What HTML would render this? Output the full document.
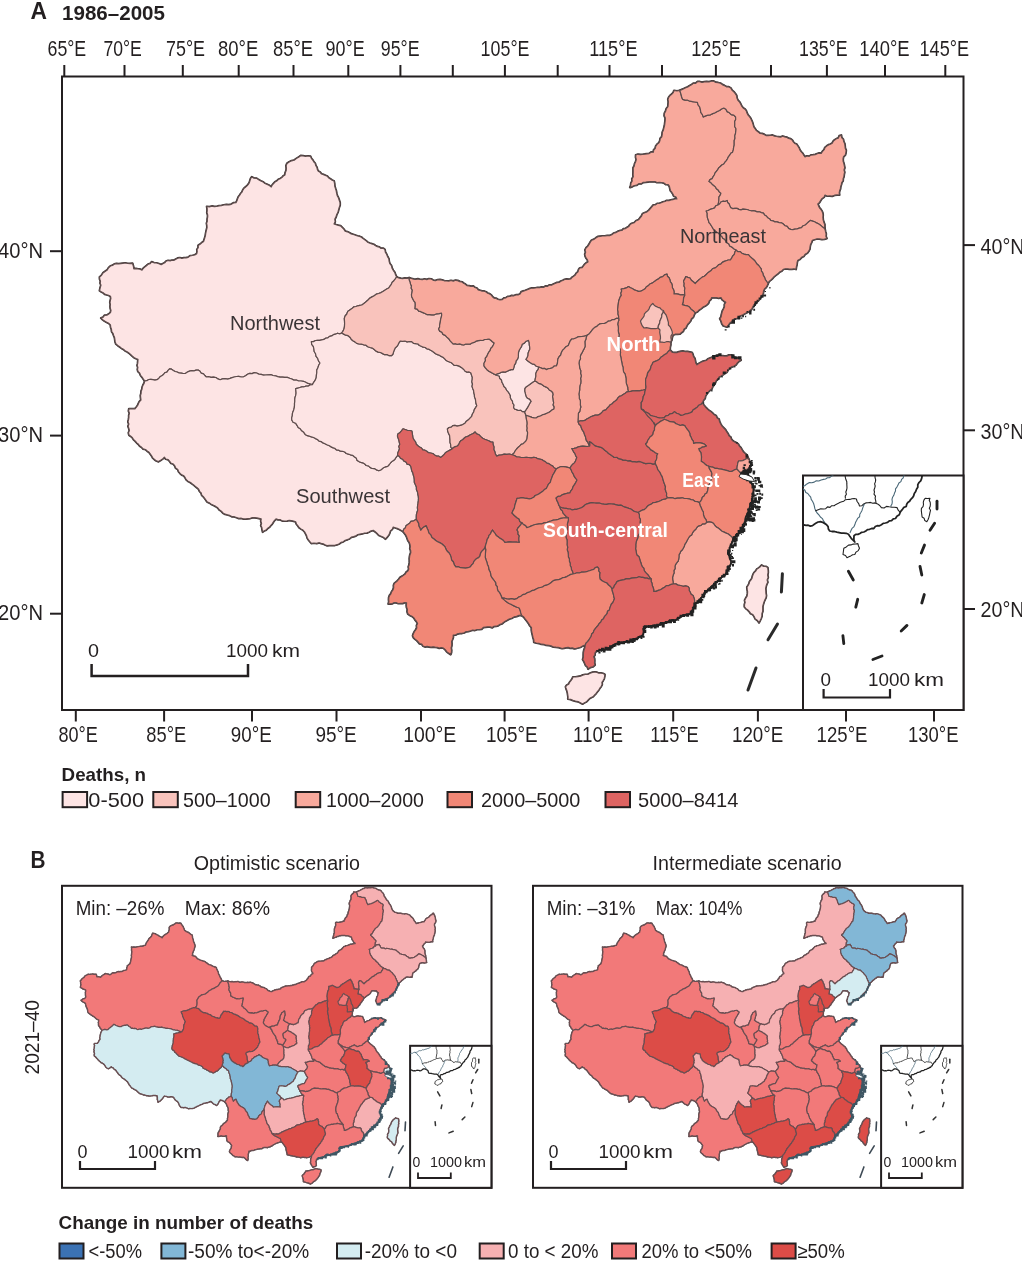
<!DOCTYPE html><html><head><meta charset="utf-8"><style>html,body{margin:0;padding:0;background:#fff;}svg{display:block;font-family:'Liberation Sans', sans-serif;filter:blur(0.35px);}</style></head><body>
<svg width="1022" height="1270" viewBox="0 0 1022 1270">
<rect width="1022" height="1270" fill="#fff"/>
<defs>
<path id="pXJ" d="M300.7 155.7l2.4 .2 2.5 .4 2.5-.3 2.4 .4 .8 2 1.4 1.6 1 1.8 1.5 1.6 .5 2.1 1.2 1.8 .4 2.1 1 1.9 1.8 1 1.4 1.7 2 .6 1.9 .8 1.9 .9 1.4 1.6 1.7 1.1 1.7 1.2 1.9 .8 .5 2.5 .2 2.5 .7 2.4 .8 2.4 .4 2.4 .6 2.4 1.2 2.2 .8 2.4 .8 2.4 0 2.5-.8 2.4-.7 2.4-.6 2.4-1.2 2.2-.7 2.4-1.2 2.2 .3 2.7-1.1 2.2 2.1 .7 2.2 .6 2.2 .5 1.7 1.7 1.6 1.7 1.3 2 2.2 .6 2 .9 1.9 1.2 2.1 .6 2.1 .7 2.1 .8 2.1 .4 1.8 .8 1.6 1.4 1.7 1.2 1.7 1.3 1.6 1.4 1.9 .8 1.9 .6 2 .6 1.7 1.2 1.8 .9 2 .5 1.7 1.3 2.3-.1 1.6 1.3 .4 2.5 1.3 2.2 .9 2.3 1.3 2.2 .3 2.5 .7 2.4 1.6 2 .6 2.4 1.2 2.2 1.5 2.1 .8 2.4 1.1 2.2-1.3 1.9-1.4 1.8-1.7 1.5-.9 2.1-1.3 1.8-1.3 1.9-2 1-1.9 1.2-1.9 1.2-1.9 1.2-2.3 .9-2.5 .7-2 1.5-2.2 1.2-2.2 1.2-1.8 1.9-2 1.8-2.1 1.6-2.1 1.6-2 .3-2 .5-1.9 .7-2 .3-2 1.8-2.1 1.5-2.2 1.5-.8 2.4-1.7 2-.8 2.4 .2 2.6 .1 2.5-.1 2.6-.4 2.5-1 2.3-1.4 2.1-2 .9-2.2-.7-2 1-2.1 .5-1.7 1.2-2.1 .5-1.7 1.4-2.2 .4-1.8 1.2-2.1 .4-2.1 .5-2.1 .1-2.1 .1-2 1.1-2.1 .1 .3 2.6 1.6 2.1 .6 2.5 .3 2.6 1.4 2.3 .5 2.5 1.6 2.1 .8 2.5 1.5 2.1-1.3 2.2-.8 2.5-1.1 2.3 0 2.6-.4 2.6-.2 2.6-1 2.4-1.5 2.1-1.3 2.3-2.3-.6-2.3-.6-2.1-1.2-2.3-.9-2.4-.3-2.4 0-2.2-1-2.5 .1-2.1-1.1-2.3-.8-2.2-.8-2.5-.1-2.4-.1-2.4 0-2.3-.6-2.3-.8-2.4-.3-2.2-.9-2.4 .2-2.5 .2-2.4 .1-2.3-.7-2.4-.3-2.2-1.1-2.3-.4-2.2 1-2.3-.2-2.3 .8-1.9 1.5-2.1 1.1-2.3 .2-2.4-.7-2.3 .2-2.2 .5-2.2 .6-2.1 .8-2.4 .7-2.6-.4-2.5 .2-2.4 .8-2.2-.8-2-1.4-2.4-.4-2.4 .3-2.3-.7-2.4 .3-1.6-1.5-1.3-1.7-2.3-.6-1.2-1.9-1.8-1.2-2.1 .1-2.1 .6-2.2-.1-2.3 .4-2 .9-1.9 1.3-2.2 .2-2.2-.3-2.2-.3-1.9-.9-2-.5-1.8-1.1-1.7-1.2-2.1-.4-1.4 1.5-1.2 1.8-2.2 .7-1.2 1.7-1.7 1.2-1.8 1.1-1.3 1.7-1.7 1.2-2.1 .4-2-.4-2.1-.4-2.1 .2-1.8 1.2-2.1 .3-1.4-1.9-1.3-1.9-1.5-1.8-.8-2.3-1.8-1.6-.5-2 .4-2.1-.7-2 .5-2 .2-2.1 .1-2.1-2.1-.7-2-1-1.7-1.5-1.6-1.5-1.7-1.5-1.8-1.3-2-.9-1.7-1.5-1.9-1.1-1.8-1.4-1.9-1.3-1.8-1.5-.8-2.1-.3-2.2-.3-2.2-.9-2-.7-2.2-1.3-1.8-.2-2.2-.8-2.1-.2-2.2-1.7-1.7-2.1-1.1-2.1-1.1-1.9-1.4-1.7-1.7 2.1-.7 1.4-2 2.4-.1 1.9-1.2 1.7-1.4 .5-2.1-.6-2-.2-2 .2-2.1-.4-2.1 .4-2 .5-2-.4-2.1-1.9-.9-1.9-.6-2-.6-1.5-1.4-1.9-.9-1.7-1.1 .6-2.8 .8-2.7-.8-2 .3-2.1-.8-2-.1-2.1 2-1.7 1.4-2.3 2.1-1.5 2.2-1.5 1.3-2.2 1.9-1.8 2.1-.6 1.8-1.3 2.1-.5 2.2 .3 2.1-.3 2.1-.3 2.4-.3 2.4 .5 2.4 .1 2.4-.3 .8 2.7 .5 2.8 2.1-.2 2.1 .4 2 .2 2 .9 1.3-1.7 1.5-1.4 1.7-1.3 1.6-1.4 2.1-.7 1.4-1.7 2.4 .9 2.5 .2 2.4 .7 2.3 1 1.7-1 1.9-.9 1.3-1.6 2-.7 2 .4 2-.6 2 0 1.8-1.1 1.8-1 2.1-.4 2 .6 2.1-.5 2-.1 2.3-.5 1.9-1.5 2.4-.3 2.3-.5 2-1.3 .4-2-.2-2.2 1.3-1.9-.1-2.1 1.9-1.3 1.7-1.5 1.9-1.3 1.1-3.6 .6-2 .3-2.1 .4-2.1 .5-2 .5-2.1-.1-2.1-.4-2.1 .7-2.1 0-2.1 .4-2.1 0-2.1-.7-2.1 .2-2.1 0-2.1-.4-2.1 2.5 .4 2.5-.7 2.5 .5 2.4-.2 2.4-.7 2.4-.2 2.4-.6 2.5-.4 2.5 .3 2.4-.6 2.2-1.4 2.5-.3 1-1.8 .6-1.9 .8-1.9 1.2-1.6 1-1.7 1.4-1.5 .8-1.9 1-1.7 1.6-1.4 1.6-1.3 1.3-1.6 1.1-1.7 .6-2 .6-1.9 1.2-1.7 2.2 1.2 2.6 .1 2 1.5 2.2 1.1 2.2 1 1.9 1.6 2.3 .9 2.2 1.1 1.9 1.5 .9-1.9 1.4-1.6 1.4-1.5 1.8-1 1.5-1.5 1.9-.8 1.7-1.1 1.4-1.6 1.7-1 .3-2.3 .9-2.2 .2-2.4-.3-2.4 .9-2.2 2.2-1.5 2.4-1.2 2.6-.6 2.1-1.6 2.3-1.3z"/>
<path id="pXZ" d="M144.8 381.0l2.1-.3 1.8-1.2 2.1-.2 2.1 .4 2 .4 2.1-.4 1.7-1.2 1.3-1.7 1.8-1.1 1.7-1.2 1.2-1.7 2.2-.7 1.2-1.8 1.4-1.5 2.1 .4 1.7 1.2 1.8 1.1 2 .5 1.9 .9 2.2 .3 2.2 .3 2.2-.2 1.9-1.3 2-.9 2.3-.4 2.2 .1 2.1-.6 2.1-.1 1.8 1.2 1.2 1.9 2.3 .6 1.3 1.7 1.6 1.5 2.4-.3 2.3 .7 2.4-.3 2.4 .4 2 1.4 2.2 .8 2.4-.8 2.5-.2 2.6 .4 2.4-.7 2.1-.8 2.2-.6 2.2-.5 2.3-.2 2.4 .7 2.3-.2 2.1-1.1 1.9-1.5 2.3-.8 2.3 .2 2.2-1 2.3 .4 2.2 1.1 2.4 .3 2.3 .7 2.4-.1 2.5-.2 2.4-.2 2.2 .9 2.4 .3 2.3 .8 2.3 .6 2.4 0 2.4 .1 2.5 .1 2.2 .8 2.3 .8 2.1 1.1 2.5-.1 2.2 1 2.4 0 2.4 .3 2.3 .9 2.1 1.2 2.3 .6 2.3 .6-2.2 .2-1.8 1.3-2.3 0-2 .7-2.2 .1-2.1 .6-2 .7-2.1 .5 .2 2.1 .2 2.2-.3 2.1-.7 2-.3 2.1 0 2.1-.3 2.1 0 2.1-.2 2.1-.5 2.1-.8 2-.6 2-.1 2.1-.6 2.1 .1 2.1 1.3 2.2 2.5 1 1.4 2.1 1.2 2.2 2.1 1.3 1.5 2 2 1.5 1.4 2.1 2.2 1.3 2.1 .5 2 .7 2.1 .6 1.9 1.1 2 .9 1.6 1.6 2.1 .5 1.8 1.3 2 .8 1.9 1 2 .8 1.8 1.1 1.9 1 2.1 .7 1.6 1.5 2.2 .3 2 1.1 2.2 .1 2 .7 1.6 1.5 2.1 .6 2 .7 2.2 .5 1.7 1.4 1.9 1.2 .8 2.3 1.8 1.3 1.9 .9 2.2 .4 1.8 1.1 1.5 1.6 2.2 .4 1.6 1.5 2.1 1.1 2.5 .1 2 1.3 2.2 .8 2.3-.9 1.9-1.7 2.1-1.2 2.5-.6 1.7-1.8 1.5-2 1.9-1.6 2.1-1.5 1.3-2.1 1.5-2 1.8 1.2 1.2 1.9 2.1 .9 1.3 1.8 2 .9 1.1 2.1 2.3 .5 1.4 1.7 .5 2.3 .4 2.2 1.1 2.1 .5 2.2 .7 2.2 .3 2.5 0 2.5 1 2.3 1.1 2.3 0 2.5 1 2.3 .4 2.3 .5 2.3 .2 2.3-.2 2.3-.3 2.3-.4 2.3-.2 2.3 .3 2.3-.7 2.2-.6 2.3-.1 2.3 0 2.3-2.5 1.6-3 .6-1.2 1.9-1.9 1.1-1.7 1.3-.6 2.1-1.7 1.5-.7 2.1-1.9-1.1-1.8-1.1-2-.8-2-.7-2.1-.7-.9 2.2-2 1.7-.7 2.3-1.1 2.2-1.5 1.8-1.6 1.8-1.9-1.7-2.3-1-2.3-1-1.7-1.8-1.9-1.7-2-1.5-2.2 .6-2.1 1.1-2.1 .9-2.4 .1-2.2 .7-2.3 .4-2.3 .4-1.9 1.4-2.2 .7-2.3 .6-1.8 1.5-2.1 .9-2.2 .7-2 1.4-2.2 .7-1.8 1.4-2.2 .9-2.2 .6-2.6 .1-2.7-.1-2.6 .3-1.9-.8-1.8-1-2-.4-1.9-.7-2.6 .7-2.7-.4-2.6 .3-1.5-1.7-1.4-1.7-1.2-1.9-.6-2.2-1-2-1.1-2-1.6-1.7-2-1.2-1.9-1.3-1.3-1.9-1.3-1.7-.8-2.2-2.1-.7-2.2-.5-2.2-.3-2.2 .6-2.3 .1-2.3-.1-2-1.2-2.3-.1-2.1-.7-1.5 1.5-1.2 1.7-1.1 1.8-1.4 1.5-1.3 1.7-1.8 1.1-1.4 1.7-2 .8-1.6 1.3-.5-2.2-.3-2.2-1-2 .7-2.2-.7-2.3 .3-2.2-2.2-.5-2.1-.5-2.3-.3-2.2 0-2.1 .7-2.2 .3-2.3 .3-2.2 0-2.3-.7-2.4 .2-2.3-.9-2.3-.8-2.5-.1-2.1-1.2-2.3-.6-2.3-.6-2.1-1.2-1.6-1.8-2.1-1.4-1.5-2-2.1-1.4-2.2-1.1-2.2-1.1-1.8-1.3-2.1-.9-1.4-1.8-1.3-1.8-1.3-1.7-1.6-1.5-.6-2.2-1.6-1.7-.9-2-1.6-1.5-1.7-1.4-1.7-1.4-1.8-1.4-1.8-1.3-2.1-1-1.7-1.6-1.1-2-1.3-1.9-2.1-.9-1.7-1.5-1.5-1.8-.8-2.2-2.1-1.4-.9-2.2-1.4-1.8-2.3-.8-1.4-1.8-1.5-1.8-2.4-.6-1.4-1.8-1.8 1.7-2 1.4-2.1 1.3-2.2-.8-1.8-1.3-1.7-1.5-1-2-1.4-1.9-1.3-1.8-1.9-1.3-1.7-1.5-2.3-.6-1.5-1.6-1.9-1.2-1.3-1.8-1.7-1.4-1.4-1.7-1.7-1.5-1.2-1.9-1.7-1.5-1.8-1.3-.5-2.2 .9-2.2-.5-2.2-.8-2.1 .8-2.3-.9-2.1 .5-2.1 .4-2.2 0-2.2 .6-2.2-.9-2.2 .4-2.2 2 0 2 0 2 0 1.4-1.6 1.3-1.7 .8-2 1-2 1.5-1.5-.3-2.2-.2-2.2 .6-2.2 .1-2.2 .8-2 .3-2.1 .8-2 1.1-2z"/>
<path id="pQH" d="M311.4 341.7l2.1-.1 2-1.1 2.1-.1 2.1-.1 2.1-.5 2.1-.4 1.8-1.2 2.2-.4 1.7-1.4 2.1-.5 1.7-1.2 2.1-.5 2-1 2.2 .7 2-.9 2 1.1 2.1 1.1 2.3 .5 1.8 1.5 1.3 2 1.7 1.6 2 1.1 1.8 1.5 2.3 .6 2.4 .1 2.2 .7 2.3 .4 1.9 1.5 2.2 .8 2.3 .6 1.9 1.4 1.8 1.6 2.2 1 2.3 .4 2.1 1.1 2 1.1 2.4-.2 2.2 1.2 2.4 0 1.4-1.7 .6-2.1 .7-2 .9-2 1.7-1.4 1.2-1.9 .9-1.9 1.4-1.7 2.2 .3 2.3-.3 2.2 .9 2.3-.4 2.3 .1 1.8 1.7 2.3 .4 2.2 .3 1.4 1.5 1.9 .7 1.8 1 2.1 .3 1.7 1.3 2 .4 1.7 1.1 1.8 1 1.6 1.2 1.6 1.2 1.9 .9 1.9 .7 1.7 1.1 1.9 .9 1.5 1.3 1.4 1.6 1.7 1 1.9 .8 1.9 .8 1.5 1.3 1.5 1.4 2.2-.1 2 .5 1.9 1 1.7 1.2 1.6 1.4 1.3 1.7 1.9 .9 2.1-.2 1.8 1.1 .6 2.1 .8 2.1-.1 2.3-.4 2.3 .7 2.2-.5 2.3 .7 2.1 .9 2.1 .2 2.2 .6 2.1 .1 2.3 .9 2 .3 2.2 .3 2.2 .8 2.1-1.2 2-1.3 2-.6 2.4-1.3 2-.7 2.4-1.7 1.7-1.6 1.7-2 1.4-1.4 2-1.8 1-1.8 1-2.1 .4-2.2 .5-2.1-.7-2.2 .3-1.5 1.5-2.3 .3-1.6 1.5 .3 2.3 .8 2.1 1.1 2.1 .2 2.3 .2 2.3 0 2.3 .7 2.2 .1 2.4 1.2 2-2.1 1.1-2.1 1.1-2.1 1.2-1.5 1.9-1.7 1.7-1.9 1.5-1.8-1.4-2.4 0-1.8-1.2-1.8-1.4-2.2-.5-2.1-.3-1.7-1.4-1.9-1.1-2.1-.4-1.3-1.8-1.9-1-1.7-1.3-1.6-1.4-.7-2.3-1.4-1.9-1.2-2.1-.4-2.3-.3-2.4-.4-2.3-2.2-.5-2.4-.2-2.1-.8-2.2-.7-1.6 2.1-1.7 1.9-2.1 1.5-.1 2.1 .7 2 .7 1.9 .4 2 .5 2-1 2.1 .7 2.4-.9 2.1-.8 2.1-.2 2.3-1.5 2-1.3 2.1-2.1 1.5-1.9 1.6-1.5 2-1.7 1.8-2.5 .6-2.1 1.2-1.9 1.7-2.3 .9-2.2-.8-2-1.3-2.5-.1-2.1-1.1-1.6-1.5-2.2-.4-1.5-1.6-1.8-1.1-2.2-.4-1.9-.9-1.8-1.3-.8-2.3-1.9-1.2-1.7-1.4-2.2-.5-2-.7-2.1-.6-1.6-1.5-2-.7-2.2-.1-2-1.1-2.2-.3-1.6-1.5-2.1-.7-1.9-1-1.8-1.1-2-.8-1.9-1-2-.8-1.8-1.3-2.1-.5-1.6-1.6-2-.9-1.9-1.1-2.1-.6-2-.7-2.1-.5-2.2-1.3-1.4-2.1-2-1.5-1.5-2-2.1-1.3-1.2-2.2-1.4-2.1-2.5-1-1.3-2.2-.1-2.1 .6-2.1 .1-2.1 .6-2 .8-2 .5-2.1 .2-2.1 0-2.1 .3-2.1 0-2.1 .3-2.1 .7-2 .3-2.1-.2-2.2-.2-2.1 2.1-.5 2-.7 2.1-.6 2.2-.1 2-.7 2.3 0 1.8-1.3 2.2-.2 1.3-2.3 1.5-2.1 1-2.4 .2-2.6 .4-2.6 0-2.6 1.1-2.3 .8-2.5 1.3-2.2-1.5-2.1-.8-2.5-1.6-2.1-.5-2.5-1.4-2.3-.3-2.6-.6-2.5-1.6-2.1z"/>
<path id="pGS" d="M396.6 277.0l2 .9 2.1 .5 2.1 .2 2.1-.4 2.2 .1 2.1-.4 .1 2.1 .9 1.9 .3 2.1 1 1.9-.3 2.3 1.1 1.9-.3 2.2-.5 2.1 .1 2.2 1 2 1 2 1.5 1.7 .2 2.1-.1 2.2-.2 2.1 2.2 .5 1.5 1.9 2.2 .6 2 .9 2.1 .9 1.9 1.1 2.5 0 2.4 .2 2.5 0 2.3-1 2.5-.2 2.4-.6 .2 2.1-.4 2-.6 2-.3 2-.3 2-.5 2 0 2-1 1.9 1.1 2.1 2.2 1.2 1.1 2.1 2.2 1 1.7 1.7 1.8 1.6 1.3 1.9 1.6 1.8 1.7 1.6 2.1-.3 2 .7 2.2-.5 2 .7 2.1 .4 2.1-1 2.1 .2 2.1 0 1.9-1.2 2.2-.6 1.9-1.2 2.2-.6 2.2-.3 2.2 .2 2-1 2.2-.2 2.2-.3 1.8 1.2 1.6 1.5 1.8 1.2-.9 2-1 2-1.6 1.6-.6 2.2-1.5 1.7-1 2-.8 2.1-1.5 1.7 .1 2.6-1.4 2.4 0 2.6 1.4 2 1.6 1.9 1.9 1.6 2.2 1.1 2.1 1.2 2.2 1.1 1.9 .8 2 .5 .4 2.3 1.8 1.7 .5 2.3 1.1 2 .9 2.2 1.7 1.6 .9 2.1 1.6 1.7 1.2 1.9 1 1.8 0 2.1 .9 1.8 1.2 1.7 .2 2 1.4 1.8-.5 2.2 .9 1.8 2 .6 2 .9 2.2-.4 1.8 1.5 2.2 0 .5 2 .8 1.8 .2 2.1 .3 2.1 .6 2.1 .1 2.1-.3 2.2 .3 2.1-.3 2.2 .7 2.1-.1 2.1-.3 2.2-.2 2.1-1 2-1.4 1.5-1.4 1.4-2 .7-1.4 1.5-1.5 1.3-1.7 1.8-1.5 2-1.2 2.2-1.9 1.6-2.6-.8-2.6 .3-2.6-.2-2.5 .7-2.6 .3-2.4 1-1.3-2.1-.6-2.4-1-2.2 .2-2.5-.9-2.4-.2-2.4-2.2-.2-2-1.1-2-.8-2-.8-2-.9-1.9-1.7-1.7-1.8-2.4-.9-1.7-1.9-1.6 1.5-2 .7-1.9 1-1.8 1.2-2.1 .6-1.5 1.3-1.5 1.4-1.8 1-1.2 1.7-.8 2-1.4 1.6-2 .6-1.9 .9-1.5 1.5-1.2-2-.1-2.4-.7-2.2 0-2.3-.2-2.3-.2-2.3-1.1-2.1-.8-2.1-.3-2.3 1.6-1.5 2.3-.3 1.5-1.5 2.2-.3 2.1 .7 2.2-.5 2.1-.4 1.8-1 1.8-1 1.4-2 2-1.4 1.6-1.7 1.7-1.7 .7-2.4 1.3-2 .6-2.4 1.3-2 1.2-2-.8-2.1-.3-2.2-.3-2.2-.9-2-.1-2.3-.6-2.1-.2-2.2-.9-2.1-.7-2.1 .5-2.3-.7-2.2 .4-2.3 .1-2.3-.8-2.1-.6-2.1-1.8-1.1-2.1 .2-1.9-.9-1.3-1.7-1.6-1.4-1.7-1.2-1.9-1-2-.5-2.2 .1-1.5-1.4-1.5-1.3-1.9-.8-1.9-.8-1.7-1-1.4-1.6-1.5-1.3-1.9-.9-1.7-1.1-1.9-.7-1.9-.9-1.6-1.2-1.6-1.2-1.8-1-1.7-1.1-2-.4-1.7-1.3-2.1-.3-1.8-1-1.9-.7-1.4-1.5-2.2-.3-2.3-.4-1.8-1.7-2.3-.1-2.3 .4-2.2-.9-2.3 .3-2.2-.3-1.4 1.7-.9 1.9-1.2 1.9-1.7 1.4-.9 2-.7 2-.6 2.1-1.4 1.7-2.4 0-2.2-1.2-2.4 .2-2-1.1-2.1-1.1-2.3-.4-2.2-1-1.8-1.6-1.9-1.4-2.3-.6-2.2-.8-1.9-1.5-2.3-.4-2.2-.7-2.4-.1-2.3-.6-1.8-1.5-2-1.1-1.7-1.6-1.3-2-1.8-1.5-2.3-.5-2.1-1.1-2-1.1 1.4-2.1 1-2.3 .4-2.5 .1-2.6-.1-2.5-.2-2.6 .8-2.4 1.7-2 .8-2.4 2.2-1.5 2.1-1.5 2-1.8 2-.3 1.9-.7 2-.5 2-.3 2.1-1.6 2.1-1.6 2-1.8 1.8-1.9 2.2-1.2 2.2-1.2 2-1.5 2.5-.7 2.3-.9 1.9-1.2 1.9-1.2 1.9-1.2 2-1 1.3-1.9 1.3-1.8 .9-2.1 1.7-1.5 1.4-1.8z"/>
<path id="pGS2" d="M534.9 381.0l2 .9 1.6 1.4 2.2 .5 1.8 1.1 1.7 1.3 2 .9 1.8 1.1 1.3 1.8 1.9 1 1.5 1.5 .5 2-.6 2.2 .5 2 .2 2.1 .4 2-.6 2.1 1.1 2-.2 2.1-1.9 .9-1.6 1.3-1.7 1.3-1.9 .8-1.9 .8-2.3 .7-2.2 1.2-2.4 .6-2 1.4-2.1-.2-2.1-.4-1.9-.8-2-.6-2-.6-.8-1.8-.5-2 1.4-2 1.3-2 1.2-2 1.1-2.2 1.3-2-1.4-2-2.2-1.1-1.4-2-.6-2.5-.7-2.5 0-2.6 1.3-1.8 1.8-1.1 1.8-1.2 1.7-1.3 1.7-1.3z"/>
<path id="pNX" d="M495.4 374.7l1.9-.8 2-.5 1.8-1.1 2-.4 2.2 .2 1.9-.9 1.9-.8 2-.8 2.1 0 .7-2.2 .5-2.3 1.3-1.9 .4-2.3 1.5-1.8 .7-2.2 .1-2.3 .1-2.2 .7-2.2 1.2-1.9 1.2-1.9 .6-2.2 2.2-1.1 1.7-1.9 2.4-.8 .7 2.2 .1 2.2 .4 2.2 .1 2.3-1 1.9-.7 2.1-.1 2.2-.8 2-1.2 1.9 1.9 1.6 2 1.5 2.1 1.3 2.4 .6 1.9 1.8 2.4 .8-.5 2.4-1.6 2-.8 2.3 .1 2.5-.6 2.4-.4 2.4-1.9 1-1.7 1.3-1.7 1.3-1.8 1.2-1.8 1.1-1.3 1.8 0 2.6 .7 2.5 .6 2.5 1.4 2 2.2 1.1 1.4 2-1.3 2-1.1 2.2-1.2 2-1.3 2-1.4 2-2.2 0-1.8-1.5-2.2 .4-2-.9-2-.6-.9-1.8 .5-2.2-1.4-1.8-.2-2-1.2-1.7-.9-1.8 0-2.1-1-1.8-1.2-1.9-1.6-1.7-.9-2.1-1.7-1.6-.9-2.2-1.1-2-.5-2.3-1.8-1.7-.4-2.3-2-.5z"/>
<path id="pIM" d="M409.2 277.9l2.1 .6 2.2 .6 2.2 .3 2.2-.5 2.2 .6 2.2 .2 2.2-.7 2.3 .6 2.2-.8 2.3 .2 2 1.3 2.3 .3 2.2-.8 2.2-.1 2.2 .4 2.1 .7 2.3 .2 2.2 .1 2.2-.6 2.3 .6 2.2-.8 2.2 .3 2.1 1 2.2 .4 1.6 1.2 1.8 1 1.5 1.4 2.1 .2 2.1 .6 2.2-.3 1.6 1.4 2 .7 1.3 1.7 2 .6 1.9 .6 2.1 .1 1.9 .8 1.6 1.2 1.9 .7 1.7 1.2 1.3 1.8 1.6 1.3 2 .2 1.8 1.1 2 .5 2.1-.3 1.7-1.5 2.1-.4 1.8-1.2 2.1-.1 1.9-.9 2.2 .2 2-.9 2.2 0 2-.9 1.2-2.1 2.1-.8 2-.6 1.9-.8 1.9-.8 2-.7 2.2 0 2.1-.2 2-.5 2 .2 2-.6 2.1 .3 1.9-1.3 2.1 .2 1.7-1.2 2.2 .1 1.8-.9 1.8-.9 1.9-.8 2.1-.2 1.7-1.2 2-.7 1.8-1 2-.4 2.1 .2 2-.3 1.3-1.6 1.7-1.1 1.6-1.2 1-1.8 1.7-1.5 .6-2.1 1.3-1.7 2.3-.3 1.3-1.7 1.2-1.7 1.5-1.3 1.8-1-.5-2.1-1.3-1.7-.9-1.9-.4-2.1 .8-2.1-.7-2.1 1.1-2.1 1.8-1.7 1.3-2 1.1-2.1 1.4-1.9 2.3-.8 1.8-1.4 2-1.3 2.4-.4 2.3-.3 2.4 0 2.3-.4 2.4 .1 2.2-.9 1.8-1.6 2.4-.6 2-1.2 1.9-.7 2-.2 1.6-1.6 2-.3 1.6-1.2 1.8-1 1.1-1.8 1.7-1.1 2.6-.8 1.9-2 2.5-1 1.4-1.9 1.5-1.8 1-2.2 2.2-1 2.2-.9 1.9-1.6 1.5-1.8 1.5-1.7 1.5-1.8 2.1-.1 1.7-1.4 2.1 0 1.9-.7 1.8-.8 2-.5 1.8-1 2.2 .1 1.9-.6 2-.3 1.9-.7 2.1 0-.9-2-2.2-1-.9-2-1.2-1.8-1.3-1.7-.5-2.2-.5-2.1-1.4-1.7-2.3-.2-1.9-1.4-2.2-.4-2.3-.2-2.3 .2-2.1-1-2.3 .2-2.2-.2-2.4 .3-2.3 .3-2.4 .2-2 1.4-2.6 0-2 1.5-2.4 .3-2.1 1.1-2.2 .8 .8-2.1 .2-2.3 1.2-1.9-.2-2.2 1.3-2.1-.2-2.2 .1-2.2 0-2.3 0-2.2 1.1-2 .4-2.2 1-2 .6-2.2-.6-2.3 .1-2.2 2.2-.7 2.3 .3 2.2-.1 2.2-.3 2.2-.4 2.2-.2 2-1.4 2.3 0 .3-2.2 1.6-1.7 .5-2.2 1.3-1.8 1.8-1.4 1-2.1 .3-2.2 1.6-1.8 .4-2.2 .2-2.4 1-2.2 .6-2.3 .6-2.3 .3-2.4 .3-2.4 .1-2.5-1-2.3 .2-2.5 1.2-2.2 .7-2.5 1.6-2 .2-2.4 .2-2.4-.4-2.4 .7-2.1 1.3-1.7 1.8-1.4 1.5-1.6 .7-2.1 2.9 .5 2.9-.5 .7 2.2 .7 2.3 .5 2.3 1 2.1 2.4 .7 2.6 .1 2.3 1 2.5 .5 2.4 .3 2.5 .3 .7 2.6 1.6 2.1 .7 2.6 .4 2.7 1.5 2.2 1 2.5 2.3-1.1 2.4-.7 2.5-.4 2.2-1.2 2.4-.8 2.1-1.3 2.3-1 2-1.5 2.3-1 2.1 1.3 1.3 2.3 2.2 1.2 1.8 1.8 2.6 .6 1.8 1.8 .1 2.4-1 2.2 .1 2.4-.1 2.5 1.3 2.2-.2 2.5-.3 2.3-.7 2.3 .2 2.4-.8 2.3 0 2.3 0 2.4-.6 2.3-.3 2.4-.7 2.3-1.8 1.1-1.1 1.9-1.3 1.6-.9 2-1.1 1.8-1.4 1.6-1.2 1.8-2 1-1.5 1.5-1.6 1.4-1 1.8-1.3 1.6-1.3 1.6-.8 2.1-1.2 1.7-1 1.9-2.1 1-1 1.9 1.8 1.1 1.4 1.6 1.6 1.3 1.6 1.4 1 1.9 1.8 1.3 1.1 1.8 1.6 1.4-.7 1.9-1.2 1.7-.1 2.1-.1 2-.4 2-.4 2-2.2 .8-1.2 2.1-2.2 .8-2.1 .6-2 1.2-2.1 .5 1 2.2 0 2.5 .3 2.4 .9 2.2 .6 2.3 1.4 1.6 1.1 1.8 1.1 1.8 1.1 1.9 1.6 1.3 1.7 1.2 1.9 1.1 1 2 1.9 1 1 1.9 1.9 1.1 1.2 1.7 1 1.8 2 1.2 .8 2 2.3 1.1 1.8 1.7 2.2 1.2-1.1 2-.6 2.3-1.6 1.7-1.1 2.1-1.2 1.9-2.2 0-2 .7-2 .7-1.9 1-1.5 1.7-2.1 .6-1.6 1.7-1.8 1.5-2.6 .6-1.5 1.9-1.9 1.3-1.8 1.4-1.5 1.7-1.7 1.5-2.1 .8-1.8 1.5-1.7 1.4-1.8 1.7-1.7 1.8-1.9-1.7-2-1.6-1.3-2.2-2.2-.6-2-.9-1 2.4-1.3 2.2 .7 2.3-.2 2.5 .9 2.2-.4 2.4 .2 2.3 0 2.4-2.1-.6-2.2 .2-2.1-.6-2.1-.3-2.2 .1 .1-2.2-.5-2.1-1.2-2-.1-2.1-.6-2.1-1.3-1.7-.5-2.1-.8-2-1.7-1.5-.4-2.2-2.5 .9-1.8 1.8-2.4 .6-1.8 1.6-2.1 1.1-1.9 1.4-1.9 1.5-2.3 .8-1.7 1.7-2.2 1.3-1.3 2.1-2.1 1.2-2.2 1.1-2.5 .3-2-.9-2.1-.6-1.8-1.4-2-.8-1.9-1.2-2.2 1.4-2.5 .7-2.6 .4 .5 2.1-.9 2.1 .5 2.1-1.2 1.8-.7 1.9-.7 2-.3 2.1-.3 2.2-.2 2.2-.3 2.1 .5 2.2-.1 2.2 .6 2.1 .1 2.2-2.2 0-2 1.3-2.2 .1-1.9 1.1-2.3 .4-1.7 1.4-2 .9-2.3 0-2.1 .3-1.7 1.1-1.4 1.5-1.9 .9-1.6 1.3-1.3 1.6-1.5 1.9-1.5 1.9-2.1 1.3-2.5 .8-2.5 .4-2.1 .2-2.1 .2-1.9 1.1-2 .8-2.1 .2-1.6 1.9-1 2.3-.9 2.3-2.3 1.2-1.7 1.9-1.8 1.8-1.1 2.2-.7 2.4-1.7 1.9-1.1 2.1-.3 2.3-.2 2.3-.9 2.2-2.2 .2-1.7 1.7-2.1 .7-2.2 .3-2 .9-1.7-1.2-2.2 .2-1.8-.9-1.9-.7-2.4-.8-1.9-1.8-2.4-.6-2.1-1.3-2-1.5-1.9-1.6 1.2-1.9 .8-2 .1-2.2 .7-2.1 1-1.9-.1-2.3-.4-2.2-.1-2.2-.7-2.2-2.4 .8-1.7 1.9-2.2 1.1-.6 2.2-1.2 1.9-1.2 1.9-.7 2.2-.1 2.2-.1 2.3-.7 2.2-1.5 1.8-.4 2.3-1.3 1.9-.5 2.3-.7 2.2-2.1 0-2 .8-1.9 .8-1.9 .9-2.2-.2-2 .4-1.8 1.1-2 .5-1.9 .8-2.2-1.1-2.1-1.2-2.2-1.1-1.9-1.6-1.6-1.9-1.4-2 0-2.6 1.4-2.4-.1-2.6 1.5-1.7 .8-2.1 1-2 1.5-1.7 .6-2.2 1.6-1.6 1-2 .9-2-1.8-1.2-1.6-1.5-1.8-1.2-2.2 .3-2.2 .2-2 1-2.2-.2-2.2 .3-2.2 .6-1.9 1.2-2.2 .6-1.9 1.2-2.1 0-2.1-.2-2.1 1-2.1-.4-2-.7-2.2 .5-2-.7-2.1 .3-1.7-1.6-1.6-1.8-1.3-1.9-1.8-1.6-1.7-1.7-2.2-1-1.1-2.1-2.2-1.2-1.1-2.1 1-1.9 0-2 .5-2 .3-2 .3-2 .6-2 .4-2-.2-2.1-2.4 .6-2.5 .2-2.3 1-2.5 0-2.4-.2-2.5 0-1.9-1.1-2.1-.9-2-.9-2.2-.6-1.5-1.9-2.2-.5 .2-2.1 .1-2.2-.2-2.1-1.5-1.7-1-2-1-2-.1-2.2 .5-2.1 .3-2.2-1.1-1.9 .3-2.3-1-1.9-.3-2.1-.9-1.9z"/>
<path id="pHLJ" d="M679.8 90.5l2-.9 2-.9 2-.9 2-.8 1.9-1.2 1.9-1 1.7-1.4 2.4-.1 1.7-1.6 2.3 0 2.3 .7 2.3-.5 2.3-.3 2.4 .3 2.3-.7 2.4 0 2.1 1.2 2.3 .3 2.3 .5 1.9 1.4 2.1 1 2 1.2 2.4 .1 2 1.2 1.2 2.1 1.8 1.6 1.5 1.8 1.3 2.1 .3 2.4 1 2.2 1.7 1.7 1.1 2.1 1 2.1 1.4 1.7 1.9 1.3 1.3 1.8 .7 2.1 1 1.9 1.4 1.7 1.3 1.8 .9 2 .9 2 .6 2.2 .6 2.1 1.3 1.9 1.3 1.9 1.9 1.3 1.6 1.5 2.2 .2 2.1 .8 1.9 1.2 2.2 0 2.1-.1 2.2-.3 1.9 .9 2 .4 2.1 .3 2.1 .3 2-.9 2.1 .6 2 .5 1.8 1.1 2.1 .5 1.6 1.2 1.1 1.8 1.4 1.5 2 .9 1.1 1.7 1.2 1.8 .8 2.1 1.2 1.8 1.6 1.6 1.1 1.9 1.3 1.8 1.9-1 2.3 .3 1.8-1.2 2.1-.2 2.1-.3 2-.8 2-.7 2.2 .2 1.2-2 1.6-1.6 .8-2.2 1.8-1.5 1.7-1.1 1.9-.7 1.8-1 1-1.8 1.5-1.5 1.7-1.1 2-.7 .9-2.2 2-.7 .3 2.3 1.7 1.9 .4 2.2 1 2.1 .3 2.3 .2 2.2 .9 2.1-.2 2.3-.6 2.3-1.8 1.8-.5 2.3 .1 2.3 .7 2.1 .5 2.2 .4 2.2-.7 2.2 .6 2.2-.5 2.2-.2 2.2-.8 2.1-.1 2.2-1.3 1.8-.4 2-.7 2-.2 2.1-.8 2-.4 2.1 .3 2.1-2.5-.1-2.4 .3-2.4 .9-2.4-.2-2.5 .1-2.3-1-1 2.2-2 1.3-1.3 1.9-1.2 2-1.7 1.6 .8 1.9 .8 1.9 1.4 1.5 1.1 1.7 .8 1.9 .3 2.1-.1 2.4 .2 2.5 .7 2.3 .9 2.3 0 2.5 .3 2.4-1.4-1.7-1.7-1.3-1.7-1.4-1.8-1.2-1.9-.9-1.9-1.1-2.1-.7-2-.7-1.8 1.4-1.7 1.6-1.7 1.6-2.3 .8-1.5 1.8-2.2 .5-2.1 .8-2.2 .2-2.1 .5-2.3-.2-2-1-1.4-2-2.3-.7-1.6-1.7-1.9-1.2-2.2-.2-2.1-.7-2.2 0-2-1.1-2.2-.4-1.2-1.7-1.9-1-1.3-1.7-1.8-1.1-1.1-1.8-2-.5-2-.8-2.2 .1-1.9-.8-2-.5-2.2 .2-2-.6-2-.7-2-.2-2.1-.2-2.1 .8-2-.5-1.9-1-2.1-.1-2.2 .3-1.9-.9-.9-1.8-.7-1.9-1.6-1.5-.4-2-2 1-2.3-.3-2 .8-1.1 1.8-1.8 1.2 .4-2 .4-2 .1-2 .1-2.1 1.2-1.7 .7-1.9-1.6-1.4-1.1-1.8-1.8-1.3-1-1.9-1.6-1.4-1.6-1.3-1.4-1.6-1.8-1.1 1-1.9 2.1-1 1-1.9 1.2-1.7 .8-2.1 1.3-1.6 1.3-1.6 1-1.8 1.6-1.4 1.5-1.5 2-1 1.2-1.8 1.4-1.6 1.1-1.8 .9-2 1.3-1.6 1.1-1.9 1.8-1.1 .7-2.3 .3-2.4 .6-2.3 0-2.4 0-2.3 .8-2.3-.2-2.4 .7-2.3 .3-2.3 .2-2.5-1.3-2.2 .1-2.5-.1-2.4 1-2.2-.1-2.4-1.8-1.8-2.6-.6-1.8-1.8-2.2-1.2-1.3-2.3-2.1-1.3-2.3 1-2 1.5-2.3 1-2.1 1.3-2.4 .8-2.2 1.2-2.5 .4-2.4 .7-2.3 1.1-1-2.5-1.5-2.2-.4-2.7-.7-2.6-1.6-2.1-.7-2.6-2.5-.3-2.4-.3-2.5-.5-2.3-1-2.6-.1-2.4-.7-1-2.1-.5-2.3-.7-2.3z"/>
<path id="pJL" d="M706.2 211.0l2.1-.5 2-1.2 2.1-.6 2.2-.8 1.2-2.1 2.2-.8 1.8-1.2 1.1-1.8 2-.8 2.3 .3 2-1 .4 2 1.6 1.5 .7 1.9 .9 1.8 1.9 .9 2.2-.3 2.1 .1 1.9 1 2 .5 2.1-.8 2.1 .2 2 .2 2 .7 2 .6 2.2-.2 2 .5 1.9 .8 2.2-.1 2 .8 2 .5 1.1 1.8 1.8 1.1 1.3 1.7 1.9 1 1.2 1.7 2.2 .4 2 1.1 2.2 0 2.1 .7 2.2 .2 1.9 1.2 1.6 1.7 2.3 .7 1.4 2 2 1 2.3 .2 2.1-.5 2.2-.2 2.1-.8 2.2-.5 1.5-1.8 2.3-.8 1.7-1.6 1.7-1.6 1.8-1.4 2 .7 2.1 .7 1.9 1.1 1.9 .9 1.8 1.2 1.7 1.4 1.7 1.3 1.4 1.7 .5 2.3 .6 2.2-.2 2.4 .9 2.2-2.4 .7-2.4 .2-2.5-.5-2.5-.1-2.4 .7-2.3 .8-.8 2.2-1 2-.5 2.3-.2 2.3-1.1 2.1-1.4 1.9-2.2 1.2-1.4 2-2.2 1.1-1.6 1.8-2.1 1.1-.7 2.2-.2 2.3-.6 2.2-.3 2.3-2.1-.5-2.2 .4-2.1-.1-2.1-.3-2.1 0-2.1 .5-1.6 1.7-2.2 1.1-1.7 1.7-1.9 1.4-1.8 1.4-1.6 1.8-1.6 1.6-1.8 1.4-1.1 2.1-1.3-2-1.4-1.9-.7-2.3-1.3-2-.5-2.3-1.3-1.8-.3-2.3-1.4-1.9-1.4-1.8-1.7-1.5-1.2-2-1.5-1.7-2-1.7-1.9-1.7-1.7-1.9-2.3 0-2.1-.6-2.1-.9-1.7-1.6-2.5 0-1.7-1.6-2.2-1.2-1.8-1.7-2.3-1.1-.8-2-2-1.2-1-1.8-1.2-1.7-1.9-1.1-1-1.9-1.9-1-1-2-1.9-1.1-1.7-1.2-1.6-1.3-1.1-1.9-1.1-1.8-1.1-1.8-1.4-1.6-.6-2.3-.9-2.2-.3-2.4 0-2.5z"/>
<path id="pLN" d="M684.7 295.2l0-2.4-.2-2.3 .4-2.4-.9-2.2 .2-2.5-.7-2.3 1.3-2.2 1-2.4 2 .9 2.2 .6 1.3 2.2 2 1.6 1.9 1.7 1.7-1.8 1.8-1.7 1.7-1.4 1.8-1.5 2.1-.8 1.7-1.5 1.5-1.7 1.8-1.4 1.9-1.3 1.5-1.9 2.6-.6 1.8-1.5 1.6-1.7 2.1-.6 1.5-1.7 1.9-1 2-.7 2-.7 2.2 0 1.2-1.9 1.1-2.1 1.6-1.7 .6-2.3 1.1-2 1.7 1.6 2.5 0 1.7 1.6 2.1 .9 2.1 .6 2.3 0 1.7 1.9 1.9 1.7 2 1.7 1.5 1.7 1.2 2 1.7 1.5 1.4 1.8 1.4 1.9 .3 2.3 1.3 1.8 .5 2.3 1.3 2 .7 2.3 1.4 1.9 1.3 2-.8 2.1-1.1 1.9-1.7 1.5-.9 2-.3 2.3-1.1 1.9-1 1.8-1.1 1.8-1.4 1.6-1.5 1.4-1.3 1.7-1.8 1.1-1.2 2.3-1.2 2.4-1.8 1.3-1.7 1.5-2 .9-2 1-1.9 1.2-2.1 .6-1.4 1.8-2 .7-2.2 .4-1.7 1.3-1.4 1.8-1.8 1.5-1.3 1.9-1.4 1.8-3.5-1.2-1.5-2.2-.8-2.6-1.2-2.3 1.2-1.7 .3-2 .5-2 .5-1.9 1-1.8 1.1-2.2 0-2.6 1.3-2.2-1.9-1.3-1.7-1.4-1.2-2-2.3 .5-2.3-.4-2.4-.1-2.3 0-.9 1.9-1.6 1.5-.7 2.1-1.5 1.5-1.9 1.5-2.2 1-1.8 1.6-2 1.3-1.7 1.8-2.2 1-1.4-1.5-1.7-1.2-1.5-1.4-1.2-1.7-2.2-1.2-2.5-.4-2.4-.8 .8-2.3 .3-2.4 .2-2.5z"/>
<path id="pHB" d="M621.2 289.0l2.6-.4 2.5-.7 2.2-1.4 1.9 1.2 2 .8 1.8 1.4 2.1 .6 2 .9 2.5-.3 2.2-1.1 2.1-1.2 1.3-2.1 2.2-1.3 1.7-1.7 2.3-.8 1.9-1.5 1.9-1.4 2.1-1.1 1.8-1.6 2.4-.6 1.8-1.8 2.5-.9 .4 2.2 1.7 1.5 .8 2 .5 2.1 1.3 1.7 .6 2.1 .1 2.1 1.2 2 .5 2.1-.1 2.2 2.2-.1 2.1 .3 2.1 .6 2.2-.2 2.1 .6-1.1 2.2-.2 2.5-.3 2.4-.8 2.3 2.4 .8 2.5 .4 2.2 1.2 1.2 1.7 1.5 1.4 1.7 1.2 1.4 1.5-1.1 2.1-.8 2.3-1.9 1.6-.9 2.2-1.3 1.7-1.5 1.5-1 1.9-.9 1.9-1.8 1.1-.8 2.2-1.7 1.2-1.5 1.5-2.4 .2-2.4 0-2.2 .9-.8 2.4-.5 2.4-1.1 2.3 .1 2.6-.6 2.6-.1 2.6-1.8 1.5-1.4 1.9-2.1 1.2-1.9 1.4-1.9 1.3-1.5 1.9-2 1.3-2.2 .9-2.2 .9-.8 1.9-1.1 1.8-.4 2.1-.8 1.9-1.4 1.6-1 1.8-.3 2.1-.8 1.9-.8 2 0 2.4 0 2.5 .4 2.5-.4 2.4-2.1 .8-2.1 .3-2.1 .6-2.2-.2-2.2 .1-2.1 0-2.2 .6-2.1 .3-.7-2.2-.1-2.3-.8-2.1-.7-2.2-.1-2.2-.1-2.3-.4-2.3-.6-2.2-1.4-1.9-.4-2.4-.2-2.5-.8-2.4-.4-2.4-.5-2.5-.4-2.4-.6-2.4 .2-2.5-.2-2.5-1-2.3-.5-2.5-.1-2.5-.3-2 .9-2.1-.4-2 .2-2.1-.6-2-.3-2 .2-2.1-.2-2-.5-2 .3-2 .8-2-.1-2.1-.1-2.2-.6-2.1 .1-2.2-.5-2.2 .3-2.1 .2-2.2 .3-2.2 .3-2.1 .7-2 .7-1.9 1.2-1.8-.5-2.1 .9-2.1z"/>
<path id="pSX" d="M587.0 335.3l2.1-1.3 1.5-1.9 1.5-1.9 1.3-1.6 1.6-1.3 1.9-.9 1.4-1.5 1.7-1.1 2.1-.3 2.3 0 2-.9 1.7-1.4 2.3-.4 1.9-1.1 2.2-.1 2-1.3 2.2 0 .1 2.1-.8 2-.3 2 .5 2 .2 2-.2 2.1 .3 2 .6 2-.2 2.1 .4 2-.9 2.1 .3 2 .1 2.5 .5 2.5 1 2.3 .2 2.5-.2 2.5 .6 2.4 .4 2.4 .5 2.5 .4 2.4 .8 2.4 .2 2.5 .4 2.4 1.4 1.9 .6 2.2 .4 2.3 .1 2.3 .1 2.2 .7 2.2 .8 2.1 .1 2.3 .7 2.2-2.1 .4-1.5 1.5-1.8 1-1.7 1.1-2 .7-1.5 1.5-1.1 1.8-1.6 1.3-1.7 1.2-1.3 1.6-1.9 .9-1.3 1.6-1.7 1.7-1.5 1.9-2.5 .7-1.5 1.9-1.8 1.6-2.2 1.1-2.5-.1-2.2 .8-2.3 .8-2 1.2-2 1.2-1.9 1.3-2.3 .5-2.3-.1-2.2 1-.1-2.1 .2-2.2 .1-2.1 .1-2.3 1.4-1.8 .4-2.2 .6-2.1-.5-2.1 .1-2.1-.1-2.2-1-2.1 0-2.2-.4-2.2 .4-2.1 .4-2.1 0-2.2 .2-2.1 .8-2 .2-2.6-.3-2.6 .7-2.5-.7-2.5 .2-2.7-1.1-2.4-.2-2.5-.5-2.5 .4-2.6 1.1-2-.2-2.3 .7-2.1 1.3-1.9 .9-2.1 1.2-1.9 .7-2.2-.1-2.3-.1-2.3 .9-2 .4-2.2z"/>
<path id="pSAX" d="M538.7 367.0l1.9 .7 1.8 .9 2.2-.2 1.7 1.2 2-.9 2.2-.3 2.1-.7 1.7-1.7 2.2-.2 .9-2.2 .2-2.3 .3-2.3 1.1-2.1 1.7-1.9 .7-2.4 1.1-2.2 1.8-1.8 1.7-1.9 2.3-1.2 .9-2.3 1-2.3 1.6-1.9 2.1-.2 2-.8 1.9-1.1 2.1-.2 2.1-.2 2.5-.4 2.5-.8-.8 2.1-.4 2.2-.9 2 .1 2.3 .1 2.3-.7 2.2-1.2 1.9-.9 2.1-1.3 1.9-.7 2.1 .2 2.3-1.1 2-.4 2.6 .5 2.5 .2 2.5 1.1 2.4-.2 2.7 .7 2.5-.7 2.5 .3 2.6-.2 2.6-.8 2-.2 2.1 0 2.2-.4 2.1-.4 2.1 .4 2.2 0 2.2 1 2.1 .1 2.2-.1 2.1 .5 2.1-.6 2.1-.4 2.2-1.4 1.8-.1 2.3-.1 2.1-.2 2.2 .1 2.1 .8 2.2 1.9 1.8 .6 2.3 1 2.1 1.4 2 .7 2.3 .9 1.9 .4 2.1 .6 2 1.4 1.7 .8 1.9 1 1.9-2.2 .5-2.3-.2-2.3-.2-2.2 .3-2.2 .4-2.1 1.1-2.2 .4-2.3 .2 1 1.8 1 1.8 1.2 1.6 .6 2 1.2 1.7-.7 2-.7 2-1.3 1.7-1.7 1.4-1.3 1.7-1.1 1.8-2.2-.6-2.2-.5-2.3-.2-2.3-.2-2.3 1-2.2 1.3-2.2-.8-1.5-1.9-2-1.1-1.9-1.3-2.1-.6-1.5-1.5-1.9-.8-1.7-1.3-2.1-.4-2-.4-1.9-1.2-2.1-.1-2.4 .4-2.5-.3-2.4-.1-2.4 .1-2.5 0-2.4-.5-2.5-.2-2.1-1.3-2.4-.7 1.9-1.6 1.2-2.2 1.5-2 1.7-1.8 1.5-1.3 1.4-1.5 2-.7 1.4-1.4 1.4-1.5 1-2 .2-2.1 .3-2.2 .1-2.1-.7-2.1 .3-2.2-.3-2.1 .3-2.2-.1-2.1-.6-2.1-.3-2.1-.2-2.1 2 .6 2 .6 1.9 .8 2.1 .4 2.1 .2 2-1.4 2.4-.6 2.2-1.2 2.3-.7 1.9-.8 1.9-.8 1.7-1.3 1.6-1.3 1.9-.9 .2-2.1-1.1-2 .6-2.1-.4-2-.2-2.1-.5-2 .6-2.2-.5-2-1.5-1.5-1.9-1-1.3-1.8-1.8-1.1-2-.9-1.7-1.3-1.8-1.1-2.2-.5-1.6-1.4-2-.9 .4-2.4 .6-2.4-.1-2.5 .8-2.3 1.6-2z"/>
<path id="pSC" d="M403.0 428.8l2.2 .7 2.1 .8 2.4 .2 2.2 .5 .4 2.3 .3 2.4 .4 2.3 1.2 2.1 1.4 1.9 .7 2.3 1.6 1.4 1.7 1.3 1.9 1 1.3 1.8 2.1 .4 1.9 1.1 1.7 1.4 2.1 .3 2.2 .5 1.8 1.4 1.8 1.2 2.4 0 1.8 1.4 1.9-1.5 1.7-1.7 1.5-1.9 2.1-1.2 2.1-1.1 2.1-1.1 1.5-1.5 1.9-.9 2-.6 1.4-1.6 .8-2 1.2-1.7 1.8-1 1.5-1.4 1.5-1.3 2.1-.6 1.8-1.2 1.9-1 2-.7 1.6-1.5 1.7 1.9 2.4 .9 1.7 1.8 1.9 1.7 2 .9 2 .8 2 .8 2 1.1 2.2 .2 .2 2.4 .9 2.4-.2 2.5 1 2.2 .6 2.4 1.3 2.1 2.4-1 2.6-.3 2.5-.7 2.6 .2 2.6-.3 2.6 .8 2.4 .7 2.1 1.3 2.5 .2 2.4 .5 2.5 0 2.4-.1 2.4 .1 2.5 .3 2.4-.4 2.1 .1 1.9 1.2 2 .4 2.1 .4 1.7 1.3 1.9 .8 1.5 1.5 2.1 .6 1.9 1.3 2 1.1 1.5 1.9 2.2 .8-1.3 2.1-1.2 2.2-1.3 2.1-.8 2.4-.9 2.3-.7 2.4-1.8 1.8-1 2.2-1.2 2.2-1.9 1.1-1.5 1.6-2 1.2-1.7 1.3-1.9 1-2.1 .8-1.5 1.8-2 1-2.4 .5-2.5-.4-2.4-.3-2.5-.4-2.4 .4-2.5 .2-.7 2.5-.8 2.4-.7 2.5-.5 2.6-1.3 2.3-1 2.4 1.6 1.7 1.7 1.6 1.7 1.5 2.1 1.2 .7 2.5 2.1 1.2-1.1 1.9-1.4 1.7-1.5 1.7-.9 2 1.1 1.8-.1 2.3 1.3 1.8-.4 2.1 0 2.2 .5 2.1-2.4-.1-2.5-.2-2.4 .1-2.4-.2-2.5 .3-2.4 .1-1.4-1.8-1.7-1.3-2-1.1-1.6-1.4-1.9-1.3-1.1-1.9-1.3-1.7-1.3-1.8-1.1 1.8-.9 2-1.5 1.5-.5 2-1.2 1.8-.5 2-.5 2-.7 2-.4 2.1-1 1.8-1.5 1.4-1.4 1.5-.9 1.9-.4 2.1-1.3 1.7-2 .9-1.5 1.4-1.4 1.7-.7 2-1.6 1.4-1 1.8-2.4 .9-2.5 .4-2.4-.3-2.6-.1-2.3-1-2.5 .1-1.6-2.1-.8-2.7-1.8-2-.5-2.4-.7-2.4-1.3-2.2-1.9-1.7-1.3-2.2-.9-2.3-1.6-1.6-1.7-1.5-2-1.1-2.1-.9-1.9-1.2-1.7-1.5-2.1-1.6-1.1-2.5-1.9-1.8-.7-2.5-1.1-2.4-.9-2.4-2.2 1.1-1.8 1.5-1.5 1.9-.8-2.3-1.1-2.1-.2-2.5-1.2-2-1.1-2.2 0-2.3 .1-2.3 .6-2.3 .7-2.2-.3-2.3 .2-2.3 .4-2.3 .3-2.3 .2-2.3-.2-2.3-.5-2.3-.4-2.3-1-2.3 0-2.5-1.1-2.3-1-2.3 0-2.5-.3-2.5-.7-2.2-.5-2.2-1.1-2.1-.4-2.2-.5-2.3-1.4-1.7-2.3-.5-1.1-2.1-2-.9-1.3-1.8-2.1-.9-1.2-1.9-1.8-1.2 .2-2.3 .8-2.1 .9-2.1-.7-2.4 1-2.1-.5-2-.4-2-.7-1.9-.7-2 .1-2.1 2.1-1.5 1.7-1.9z"/>
<path id="pCQ" d="M556.5 468.8l2.2-1.3 2.3-1 2.3 .2 2.3 .2 2.2 .5 2.2 .6 1.2 1.9 .8 2.1 1.2 1.8 .9 2.3 1.4 2 1.5 1.9-1.1 2.2-1.2 2.2-1.5 2-.8 2.4-1.5 2-1.1 2.2-2.5 .2-2.3 .7-2.4 .7-2 1.5-2.6 .3-1.9 1.6 .7 2.4 1.2 2.1 .7 2.4 1.3 2.1 .6 2.3 1.8 1.6 .7 2.3 1.6 1.7 1.6 1.8 2.1 1.1-2.6 0-2.5 .2-2.5 .4-2.4 .9-2.5 .6-2.5 .2-2.4 .9-2.4 .7-2.3 1-2.2 .2-2.1 .9-2.3 0-2.2 .4-2.3 .3-2.1 .8-2.1 .8-2 .9-2.2 .6-1.3-2-2.2-1.1-1.4-1.8-2.1-1.2-.7-2.5-2.1-1.2-1.7-1.5-1.7-1.6-1.6-1.7 1-2.4 1.3-2.3 .5-2.6 .7-2.5 .8-2.4 .7-2.5 2.5-.2 2.4-.4 2.5 .4 2.4 .3 2.5 .4 2.4-.5 2-1 1.5-1.8 2.1-.8 1.9-1 1.7-1.3 2-1.2 1.5-1.6 1.9-1.1 1.2-2.2 1-2.2 1.8-1.8 .7-2.4 .9-2.3 .8-2.4 1.3-2.1 1.2-2.2z"/>
<path id="pHUB" d="M571.8 448.5l2.3-.2 2.2-.4 2.1-1.1 2.2-.4 2.2-.3 2.3 .2 2.3 .2 2.2-.5 .1-2.2-.3-2.2 2.1 1 1.7 1.5 1.7 1.5 2.2 .8 2.3 .5 2.2 .7 1.9 1.3 1.5 1.7 2 1.2 1.6 1.7 2 1.2 1.8 1.4 1.9 1.4 2.5-.2 1.9 1.4 2.3 .4 2.1 1 2.3 0 2.2 .7 2.4-.2 2.1 1 2.3 0 2.4 .3 2.3-.5 2.2 .6 2.1 .9 2.2 .7 2.4-.3 2.5 0 2.5 .8 2.4-.5 .9 1.8 .9 1.9 .5 2 1.3 1.7 1.2 1.7 .8 1.9 1.1 1.7 .6 2 .6 2.2 .6 2.1 .9 2.1 .7 2.1-.3 2.4 .7 2.1 .8 2.1-.2 2.4 1.1 2-2.2 1.4-2.7 .3-2.2 1.3-2.4 .9-2.5 .6-2.6 .4-1.7 1.4-2.1 .9-1.8 1.3-1.4 1.8-1.7 1.5-2.2 .6-1.9 1.1-1.9 1.2-2-.5-2-.5-1.7-1.3-1.8-1.2-1.9-.6-2-.7-2-.5-1.9-1-1.8-1-2.5 .2-2.4-.6-2.4-.6-2.5-.2-2.4-.2-2.5 .6-2.5-.2-2.4-.4-2.4-.8-2.5 .2-2.4-.2-2.5-.3-2.3 .5-2.3 .6-2.1 1-1.7 1.7-2 1.2-2.3 .8-2.2 .8-2.4 .1-2.3 .6-1.9-1-2.2-.1-2-.6-2.1-.1-2-.4-2-.8-1.3-2.1-.7-2.4-1.2-2.1-.7-2.4 1.9-1.6 2.6-.3 2-1.5 2.4-.7 2.3-.7 2.5-.2 1.1-2.2 1.5-2 .8-2.4 1.5-2 1.2-2.2 1.1-2.2-1.5-1.9-1.4-2-.9-2.3-1.2-1.8-.8-2.1-1.2-1.9 1.1-1.8 1.3-1.7 1.7-1.4 1.3-1.7 .7-2 .7-2-1.2-1.7-.6-2-1.2-1.6-1-1.8z"/>
<path id="pHEN" d="M578.1 421.8l2.2-1 2.3 .1 2.3-.5 1.9-1.3 2-1.2 2-1.2 2.3-.8 2.2-.8 2.5 .1 2.2-1.1 1.8-1.6 1.5-1.9 2.5-.7 1.5-1.9 1.7-1.7 1.3-1.6 1.9-.9 1.3-1.6 1.7-1.2 1.6-1.3 1.1-1.8 1.5-1.5 2-.7 1.7-1.1 1.8-1 1.5-1.5 2.1-.4 2.1-.3 2.2-.6 2.1 0 2.2-.1 2.2 .2 2.1-.6 2.1-.3 2.1-.8-.7 2.5-.4 2.6-1.3 2.3-.2 2.1-.6 2.1-1.2 1.8 .1 2.1-.1 2.2 .2 2.1 2 .9 1.4 1.9 2.3 .7 1.8 1.2 1.5 1.7 .7 2.2 1 2 1.3 1.9 .6 2.3 1.4 1.8-.9 2.1 0 2.3-1.2 2-.3 2.2-1.3 1.6-1.7 1.2-1.1 1.8-1.2 1.7-.6 2-1.5 1.5 1.5 2.2 2.1 1.6 1.7 2.1 2.4 1.2 2 1.7 2.5 1-1 1.8 .1 2.1-.5 2-1.1 1.8 .1 2.1-2.4 .5-2.5-.8-2.5 0-2.4 .3-2.2-.7-2.1-.9-2.2-.6-2.3 .5-2.4-.3-2.3 0-2.1-1-2.4 .2-2.2-.7-2.3 0-2.1-1-2.3-.4-1.9-1.4-2.5 .2-1.9-1.4-1.8-1.4-2-1.2-1.6-1.7-2-1.2-1.5-1.7-1.9-1.3-2.2-.7-2.3-.5-2.2-.8-1.7-1.5-1.7-1.5-2.1-1 .3 2.2-.1 2.2-1-1.9-.8-1.9-1.4-1.7-.6-2-.4-2.1-.9-1.9-.7-2.3-1.4-2-1-2.1-.6-2.3-1.9-1.8z"/>
<path id="pSD" d="M670.0 350.0l2.5 2.5 2.2 .2 2.2-.1 2.1-.8 2.2-.4 2.1-.2 2.2 .5 2.2 0 2.1 .4 2.2 .4 .9 2 .6 2.2 1.3 1.8 .5 2.2 .4 2.2 1.3 1.9 1.7-1.2 1.8-1 1.8-1 2-.6 2-.5 1.6-1.5 1.9-.8 1.9-.8 2-1 2.2-.5 2.1-.6 2.2 .7 2.3-.1 2.2 .2 2.2 0 2.1-1 2.2-.1 1.9 1.2 1.8 1.2 2.1 .7 2 1.1 2 .8-2 1.3-1.7 1.6-1.3 1.9-2 1.2-2.3 .7-1.8 1.6-1.8 1.6-1.1 2.1-2 1.4-1.9 1.3-2 1.3-2.1 1-1 2.1-1.9 1.6-.8 2.2-1.3 1.9-1.4 2-.9 2.2-1.9 1.4-1.6 1.7-1.4 1.9-1.3 2-.5 2.5-1.6 1.9-.9 2.3-1.6 1.8-2.2 .8-1.5 1.9-1.9 1.4-2.1 1.1-1.2 2.2-2.2 1.1-2.2 .6-2.3 .4-2.1 1-2.3 .4-2.1-1.4-2.3-.8-2-1.6-1.8 1.7-2.6 .5-1.9 1.6-2.3 .4-1.7 1.9-2.4 .3-2.3-.2-2.3-.5-2.3-.8-2.2-.5-2.3-.6-1.5-1.7-1.8-1.2-2.3-.7-1.4-1.9-2-.9-.2-2.1 .1-2.2-.1-2.1 1.2-1.8 .6-2.1 .2-2.1 1.3-2.3 .4-2.6 .7-2.5 .4-2.4-.4-2.5 0-2.5 0-2.4 .8-2 .8-1.9 .3-2.1 1-1.8 1.4-1.6 .8-1.9 .4-2.1 1.1-1.8 .8-1.9 2.2-.9 2.2-.9 2-1.3 1.5-1.9 1.9-1.3 1.9-1.4 2.1-1.2 1.4-1.9z"/>
<path id="pJS" d="M641.4 409.0l2 .9 1.4 1.9 2.3 .7 1.8 1.2 1.5 1.7 2.3 .6 2.2 .5 2.3 .8 2.3 .5 2.3 .2 2.4-.3 1.7-1.9 2.3-.4 1.9-1.6 2.6-.5 1.8-1.7 2 1.6 2.3 .8 2.1 1.4 2.3-.4 2.1-1 2.3-.4 2.2-.6 2.2-1.1 1.2-2.2 2.1-1.1 1.9-1.4 1.5-1.9 2.2-.8 1.6-1.8 .9 1.9 1.3 1.5 1.2 1.5 1.5 1.5 1.5 1.3 1.9 1.2 1.7 1.5 1.6 1.6 2 1.1 1 2.3 1.9 1.2 .6 2.5 1.1 2.2 1.3 2.2 1.8 1.8 1.7 1.8 1.2 2.2 1.3 1.7 .9 2.1 1.8 1.4 .7 2.2 1.6 1.6 1.8 1.1 2 .9 1.6 1.4 1 1.9 1.6 1.6 1 1.9 1.3 2.1 1.8 1.6 1.9 1.5 1.4 3.7-2.1 0-1.8 1.1-1.8 .8-2.1 .3-2 .1-.8 1.9-.3 2-.4 2-.1 2.1-2.7 .9-2.5 1.5-2.2 .1-2.1-.9-2.1-.4-2.1-.6-2.1-.5-2.2-.2-2-.6-2.2 0-1.8-1.1-2.1-.3-2-.6-2.2-.8-1.8-1.5-1.7-1.6-2-1.2 .2-2.2 .1-2.2-.3-2.2-.4-2.2-1.4-1.8-.7-2.1 2-.4 1.7-1.3 2-.2 1.9-.6-1.6-1.7-2.2-.9-2.2-.5-2.3 0-2.2 0-2.2 .5-.3-2.2-1.4-1.8-.8-2.1-1.1-1.9-.2-2.2-1.1-2-1.5-1.8-1.3-1.9-1.2-1.9-2.2-.7-2.3 .6-2.1-1-2.1-.7-1.8-1.6-2.2-.4-2.1-.1-1.8-1-1.9-.7-1.9-.7-1.8 1.2-2.1 .9-1.7 1.3-1.8 1.3-1.5 1.6-.9-2.3-1.8-1.7-1.4-2-1.7-1.7-1.8-1.7-1.5-1.9-1.3-2.1-1.7-1.7z"/>
<path id="pAH" d="M655.4 425.6l1.5-1.6 1.8-1.3 1.7-1.3 2.1-.9 1.8-1.2 1.9 .7 1.9 .7 1.8 1 2.1 .1 2.2 .4 1.8 1.6 2.1 .7 2.1 1 2.3-.6 2.2 .7 1.2 1.9 1.3 1.9 1.5 1.8 1.1 2 .2 2.2 1.1 1.9 .8 2.1 1.4 1.8 .3 2.2 2.2-.5 2.2 0 2.3 0 2.2 .5 2.2 .9 1.6 1.7-1.9 .6-2 .2-1.7 1.3-2 .4 .7 2.1 1.4 1.8 .4 2.2 .3 2.2-.1 2.2-.2 2.2 2 1.2 1.7 1.6 1.8 1.5 2.2 .8 .4 2.1 1.1 1.7 1 1.8 .6 2-.5 2.1 .5 2-1.1 2.4-.9 2.5-1.1 2.4-.8 2.5-.4 2.7-.9 2.5-1.8 1.1-.9 2-1.8 1.1-.5 2.1-1.1 1.8-1.3 1.6-2-1.1-2.3-.1-1.9-1.5-2.2-.4-2.1-.8-2.2-.3-2.3 0-2.1-.7-2.4 .4-2.5 0-2.4 .5-2.4-.9-2.5-.1-2.5 .1-1.1-2 .2-2.4-.8-2.1-.7-2.1 .3-2.4-.7-2.1-.9-2.1-.6-2.1-.6-2.2-.6-2-1.1-1.7-.8-1.9-1.2-1.7-1.3-1.7-.5-2-.9-1.9-.9-1.8-.1-2.1 1.1-1.8 .5-2-.1-2.1 1-1.8-2.5-1-2-1.7-2.4-1.2-1.7-2.1-2.1-1.6-1.5-2.2 1.5-1.5 .6-2 1.2-1.7 1.1-1.8 1.7-1.2 1.3-1.6 .3-2.2 1.2-2 0-2.3z"/>
<path id="pZJ" d="M712.0 478.0l-.5-2 .5-2.1-.6-2-1-1.8-1.1-1.7-.4-2.1 2 .6 2.1 .3 1.8 1.1 2.2 0 2 .6 2.2 .2 2.1 .5 2.1 .6 2.1 .4 2.1 .9 2.2-.1 2.5-1.5 2.7-.9 2 2.2 2 2.2 2.1 .9 1.5 1.8 2 1.1 1.3 1.8 1.8 1.5 1.1 2 1.5 2.1 .9 2.4 .5 2.6-.4 2.4-.2 2.4-.5 2.3-.4 2.4-.2 2.4-1.2 2.2-.8 1.9-.5 2.1-.2 2.1-.9 1.9-.8 1.9-1.1 1.8-.9 1.9-.4 2-.1 2.4-1.2 2.2-.7 2.2-1.6 1.7-.9 2.2-1.2 2-1.3 2.1-1.8 1.5-2.1 1.4-1.3 2-1.2-2.1-1.7-1.4-1.8-1.5-2.1-.9-2.1-1-2.1-.9-1.7-1.5-1.7-1.5-2.1-1.1-1.6-1.6-1.3-1.9-1.9-1.3-2.5-.4-2.4 .4-.8-2.7-1.7-2.2-.8-2.5-.1-2.6-1.3-2.3-1-2.4-1.1-2.4-.6-2.5 1.3-1.6 1.1-1.8 .5-2.1 1.8-1.1 .9-2 1.8-1.1 .9-2.5 .4-2.7 .8-2.5 1.1-2.4 .9-2.5z"/>
<path id="pFJ" d="M706.8 522.3l2.4-.4 2.5 .4 1.9 1.3 1.3 1.9 1.6 1.6 2.1 1.1 1.7 1.5 1.7 1.5 2.1 .9 2.1 1 2.1 .9 1.8 1.5 1.7 1.4 1.2 2.1-.6 2.5-1.1 2.3-1 2.3-.8 2.4-.4 2.5-.9 2.3 .9 1.9 .4 2 .4 2 1.1 1.9 0 2.1-.8 2-1 1.8-1.2 1.8-1.1 1.8-.5 2.1-1.1 1.9-2.2 1.3-1.9 1.6-1.6 2-1.8 1.7-2 1.6-1.8 1.7-1.7 1.1-1.5 1.3-1 1.9-1.9 .9-1.2 1.6-1.8 1.1-.9 1.9-1.3 1.5-1.3 1.8-1.3 1.7-1.6 1.4-1.3 1.7-1.9 1.2-.7-2-.1-2.1-.7-2-.7-2.1-2-1.2-.8-2-1.1-1.8 0-2.2-1.2-1.7-2.4-.6-2.6 .4-2.4-.8-2.5-.4-2.3-1.2-2.6 .1-.1-2.2-.4-2.2-.1-2.3 .6-2.2 .9-2.1-.2-2.4 1.2-2-.1-2.3 .7-2 1.2-1.6 1.3-1.6 .5-2 .3-2.1 0-2.1 1-1.8 .8-1.9 1.6-1.4 1-1.8 .9-1.7 .5-2 1.4-1.9 1-2.1 1.2-2 1.2-2 2-1.4 1-2.2 1.4-1.9 1.8-1.6 1.2-2 1.8-1.4 2.2-.4 1.7-1.6 2.4 0z"/>
<path id="pJX" d="M638.3 512.5l1.9-1.2 1.9-1.1 2.2-.6 1.7-1.5 1.4-1.8 1.8-1.3 2.1-.9 1.7-1.4 2.6-.4 2.5-.6 2.4-.9 2.2-1.3 2.7-.3 2.2-1.4 2.5-.1 2.5 .1 2.4 .9 2.4-.5 2.5 0 2.4-.4 2.1 .7 2.3 0 2.2 .3 2.1 .8 2.2 .4 1.9 1.5 2.3 .1 2 1.1 .6 2.5 1.1 2.4 1 2.4 1.3 2.3 .1 2.6 .8 2.5 1.7 2.2 .8 2.7-1.7 1.5-2.4 0-1.7 1.6-2.2 .4-1.8 1.4-1.2 2-1.8 1.6-1.4 1.9-1 2.2-2 1.4-1.2 2-1.2 2-1 2.1-1.4 1.9-.5 2-.9 1.7-1 1.8-1.6 1.4-.8 1.9-1 1.8 0 2.1-.3 2.1-.5 2-1.3 1.6-1.2 1.6-.7 2 .1 2.3-1.2 2 .2 2.4-.9 2.1-.6 2.2 .1 2.3 .4 2.2 .1 2.2-2.3 .4-2.1 1.2-2.4 0-1.8 1.7-2.1 1.1-2 1.3-2.2 .7-2.2 1-2.4 0 0-2.2-.7-1.9-.8-2-.2-2.1-.9-2 .1-2.2-1.6-1.5-1.1-2-1.5-1.6-1.5-1.6-1.3-1.8-.4-2.3-1.6-1.6-.8-2.1-.6-2-.7-1.9-.5-2-.7-2-1.9-1.4-.6-2.1-.3-2.1-.5-2.1 .2-2.1 0-2.3 .3-2.2 .7-2.2 1-2 .3-2.3 1.1-2 .8-2.1 0-2.4 .7-2.1 .1-2.5-.8-2.5 .5-2.5-1.1-2.3 0-2.6z"/>
<path id="pHUN" d="M560.0 507.0l2 .8 2 .4 2.1 .1 2 .6 2.2 .1 1.9 1 2.3-.6 2.4-.1 2.2-.8 2.3-.8 2-1.2 1.7-1.7 2.1-1 2.3-.6 2.3-.5 2.5 .3 2.4 .2 2.5-.2 2.4 .8 2.4 .4 2.5 .2 2.5-.6 2.4 .2 2.5 .2 2.4 .6 2.4 .6 2.5-.2 1.8 1 1.9 1 2 .5 2 .7 1.9 .6 1.8 1.2 1.7 1.3 2 .5 2 .5 1.1 2.3 0 2.6 1.1 2.3-.5 2.5 .8 2.5-.1 2.5-.7 2.1 0 2.4-.8 2.1-1.1 2-.3 2.3-1 2-.7 2.2-.3 2.2 0 2.3-.2 2.1 .5 2.1 .3 2.1 .6 2.1 1.9 1.4 .7 2 .5 2 .7 1.9 .6 2 .8 2.1 1.6 1.6 .4 2.3 1.3 1.8 1.5 1.6 1.5 1.6 1.1 2 1.6 1.5-2.1 0-2-.9-2.1 0-2-.7-2-.1-2-.6-2.4 1-2.5 .2-2.5 .2-2.4 .8-2.6-.3-2.4 1-2.4 .5-2.5 .5-2.3 1-1.1 2-1.4 1.7-.8 2.2-1.7 1.5-1.4-2.3-2.1-1.7-1.7-2-2.5-1-2.3-1.2-2-1.8-.3-2.1-.1-2.1 .3-2.1-1.3-1.7 .2-2.3-1.4-1.7-2.1 .6-1.5 1.8-2.2 .6-2 .7-2 .6-2 .5-2.1 .3-2.2 .1-2 .8-2.2-.2-2 .7-2.1 .5-.4-2.2-1.1-2-.3-2.2-1-2 0-2.2-.8-2.1 0-2.3-1-2-.1-2.5-.3-2.4-.8-2.4 .5-2.5-.7-2.4 .1-2.5-.1-2.5-1-2.3 0-2.5 .7-2.1-.3-2.2 1-2 .2-2.2-.3-2.2 .5-2.2 .6-2.1 0-2.2-2.1-1.1-1.6-1.8-1.6-1.7-.7-2.3-1.8-1.6z"/>
<path id="pGZ" d="M485.2 547.2l.4-2.1 .7-2 .5-2 .5-2 1.2-1.8 .5-2 1.5-1.5 .9-2 1.1-1.8 1.3 1.8 1.3 1.7 1.1 1.9 1.9 1.3 1.6 1.4 2 1.1 1.7 1.3 1.4 1.8 2.4-.1 2.5-.3 2.4 .2 2.4-.1 2.5 .2 2.4 .1-.5-2.1 0-2.2 .4-2.1-1.3-1.8 .1-2.3-1.1-1.8 .9-2 1.5-1.7 1.4-1.7 1.1-1.9 1.4 1.8 2.2 1.1 1.3 2 2.2-.6 2-.9 2.1-.8 2.1-.8 2.3-.3 2.2-.4 2.3 0 2.1-.9 2.2-.2 2.3-1 2.4-.7 2.4-.9 2.5-.2 2.5-.6 2.4-.9 2.5-.4 2.5-.2 2.6 0 0 2.2-.6 2.1-.5 2.2 .3 2.2-.2 2.2-1 2 .3 2.2-.7 2.1 0 2.5 1 2.3 .1 2.5-.1 2.5 .7 2.4-.5 2.5 .8 2.4 .3 2.4 .1 2.5 1 2 0 2.3 .8 2.1 0 2.2 1 2 .3 2.2 1.1 2 .4 2.2-2.2 .4-2 1.1-1.9 1.1-2.1 .8-2.2 .3-1.9 1.2-2.1 .8-2.2 .1-2.2 .5-1.9 1.2-1.7 1.6-1.9 1.2-2.1 .9-2.2 .4-1.8 1.4-2.2 .5-2.1 .5-2 1-2.1 1.1-2.4 .6-2.1 1.3-2.4 .7-2 1.4-2.5 .5-1.9 1.6-2.3 .9-1.9 1.6-2.4 .6-2.6-.7-2.4 .6-2.5-.3-2.3-.7-2.5-.2-.8-1.9-.8-1.9-1-1.8-1.5-1.6-.5-2-.2-2.1-1.5-1.8 0-2.1-1.2-1.8-1.3-1.7-1.3-1.7-1.1-1.8-.2-2.1-.6-2-1.2-2.3-.3-2.6-1.1-2.4-.6-2.5-.9-2.4-.7-2.5 .2-2.4 .1-2.5 .2-2.4z"/>
<path id="pYN" d="M416.3 519.2l1.1 2.2 1.2 2 .2 2.5 1.1 2.1 .8 2.3 1.5-1.9 1.8-1.5 2.2-1.1 .9 2.4 1.1 2.4 .7 2.5 1.9 1.8 1.1 2.5 2.1 1.6 1.7 1.5 1.9 1.2 2.1 .9 2 1.1 1.7 1.5 1.6 1.6 .9 2.3 1.3 2.2 1.9 1.7 1.3 2.2 .7 2.4 .5 2.4 1.8 2 .8 2.7 1.6 2.1 2.5-.1 2.3 1 2.6 .1 2.4 .3 2.5-.4 2.4-.9 1-1.8 1.6-1.4 .7-2 1.4-1.7 1.5-1.4 2-.9 1.3-1.7 .4-2.1 .9-1.9 1.4-1.5 1.5-1.4 1-1.8 .5 2.5-.2 2.4-.1 2.5-.2 2.4 .7 2.5 .9 2.4 .6 2.5 1.1 2.4 .3 2.6 1.2 2.3 .6 2 .2 2.1 1.1 1.8 1.3 1.7 1.3 1.7 1.2 1.8 0 2.1 1.5 1.8 .2 2.1 .5 2 1.5 1.6 1 1.8 .8 1.9 .8 1.9 1.7 1.4 1.7 1.5 1.8 1.3 1.8 1.3 2.1 .7 1.9 1.2 2 1 2 .9 2.2 .7 1 2.4 .6 2.5 .9 2.5-2.7 0-2.4 1-2.6 .5-2.3 1.3-2.5 .8-2.2 1.3-1.8 .9-1.7 1.2-1.6 1.4-2 .6-1.7 1.2-2 .6-2.2 .1-1.7 1.3-2.2-.7-2.2-.1-2.3 .3-2.3 .3-1.7 1.7-2.3 .4-2.2 0-2.2 .8-2.2-.3-2.1 .8-2.2 .6-2.2 .2-2 1.2-2.2 .5-2.3 .1-2.2 .4-2 1.2-2.3 0 0 2.3-.7 2.1-.9 2 .2 2.2-.1 2.2-.6 2.1 .4 2.2-.1 2.2-.7 2.2-2.1-1.4-1.9-1.5-1.5-2-1.9-1.6-2-.4-2.1 .5-2-.7-2-.2-2.1-.4-2 .4-2-.4-2-.4-2.1 .4-2-.8-1.2-1.8-2.2-.5-1.4-1.7-1.4-1.5-1.7-1.3-1.5-1.5-.9-1.9 .7-2.1 1-2 1.3-1.8 1.1-2-.2-2.3 1-2-1.1-2.1-1.5-1.8-1.3-2-1.8-1.5-2.2-1-1.8-1.4-.7-2.2 .2-2.2-.8-2.1-.2-2.2 .2-2.3-2.1-.3-1.9 .9-2.1 0-2.1 .1-2-.8-2.1-.2-1.9 1.1-2 .2-2.1 .2 .6-2.1-.2-2.2 .1-2.1 .7-2.1 1.4-1.7 .8-2.2 1.3-1.8 .7-2.1-.1-2.3 .8-2.1 1.6-1.2 1.5-1.4 1.4-1.5 1.2-1.7 1.7-1.1 1.7-1.1 1.7-1.2 1-1.9 1.7-1.2 .9-1.9-.4-2.2 .7-1.9 .3-2.1 .1-2-.1-2.1 .2-2.1 .4-2 .8-1.9-.1-2.1-.7-2 .3-2.1-.3-2.2-.7-2-1.3-1.7-.7-2-.7-2-1-1.9-1.3-1.7-1.3-1.7 .7-2.1 1.7-1.5 .6-2.1 1.7-1.3 1.9-1.1 1.2-1.9 3-.6z"/>
<path id="pGX" d="M502.0 598.0l2.5 .2 2.3 .7 2.5 .3 2.4-.6 2.6 .7 2.4-.6 1.9-1.6 2.3-.9 1.9-1.6 2.5-.5 2-1.4 2.4-.7 2.1-1.3 2.4-.6 2.1-1.1 2-1 2.1-.5 2.2-.5 1.8-1.4 2.2-.4 2.1-.9 1.9-1.2 1.7-1.6 1.9-1.2 2.2-.5 2.2-.1 2.1-.8 1.9-1.2 2.2-.3 2.1-.8 1.9-1.1 2-1.1 2.2-.4 2.1-.5 2-.7 2.2 .2 2-.8 2.2-.1 2.1-.3 2-.5 2-.6 2-.7 2.2-.6 1.5-1.8 2.1-.6 1.4 1.7-.2 2.3 1.3 1.7-.3 2.1 .1 2.1 .3 2.1 2 1.8 2.3 1.2 2.5 1 1.7 2 2.1 1.7 1.4 2.3 .3 2 .7 1.9 .5 1.9 .3 2 .7 1.9-.8 1.9-.8 1.9-1.5 1.5-.8 1.9-.7 2-.5 2-1.9 1.4-.3 2.1-1.4 1.7-1.4 1.6-.9 2-1.8 1.3-.9 2.1-1.6 1.4-1.1 1.9-1.5 1.6-1.3 1.7-1.3 1.7-.7 2.1-1.6 1.5-.5 2.2-1.1 1.8-1.2 1.9-1.3 1.7-1.6 1.6-.8 2-2.5 .7-2.3 1.3-2 .6-2 .5-2.1 .3-2-.7-2.1 .2-2-.7-2.1 .3-2 .4-2 .4-2-.6-2-.6-2.1-.1-2.5-.2-2.4-1.1-2.4-.6-2.5-.1-2.4-.9-2.5-.1-2.4-.9-2.5-.3-2.4-.7-.2-2.5-.8-2.4-.5-2.4-.6-2.4-.4-2.5 0-2.5-1.7-2-1.3-2.3-1.6-2.1-1.6-2.1-1.5-2.1-2.1-1.6-.9-2.5-.6-2.5-1-2.4-2.2-.7-2-.9-2-1-1.9-1.2-2.1-.7-1.8-1.3-1.8-1.3-1.7-1.5z"/>
<path id="pGD" d="M612.0 589.0l1.7-1.5 .8-2.2 1.4-1.7 1.1-2 2.3-1 2.5-.5 2.4-.5 2.4-1 2.6 .3 2.4-.8 2.5-.2 2.5-.2 2.4-1 2 .6 2 .1 2 .7 2.1 0 2 .9 2.1 0-.1 2.2 .9 2 .2 2.1 .8 2 .7 1.9 0 2.2 2.4 0 2.2-1 2.2-.7 2-1.3 2.1-1.1 1.8-1.7 2.4 0 2.1-1.2 2.3-.4 2.6-.1 2.3 1.2 2.5 .4 2.4 .8 2.6-.4 2.4 .6 1.2 1.7 0 2.2 1.1 1.8 .8 2 2 1.2 .7 2.1 .7 2 .1 2.1 .7 2-.6 2-1.2 1.7-.2 2.1-1.4 1.5-1.1 1.6-1.2 1.7-2.5 .1-2.5 .6-2.3 1-2.1 1.3-2.1 1.3-2.2 1.2-2.1 .7-2.3 .3-2.2 .2-1.9 1.3-2.1 .7-2.2 .5-2 1.1-2.2 .3-2.2 .4-2.1-.1-1.9 1.2-2.1-.1-2.1-.4-2 1.1-2.1-.3-.8 2 0 2.1-.2 2.1-.4 2-1.7 1.2-2 .6-1.5 1.7-2 .6-1.8 1.1-2.3-.2-1.6 1.7-2.1 .1-2.4 0-2.2 1.1-2.3 .3-2.4-.1-2.3 .6-2.2 .9-1.8 1.2-1.6 1.6-2.1 .7-2 .5-1.9 1.3-2.2 0-2.2 .1-1.9 1-2.1 .4-1.4 1.6-.1 2.2-1.2 1.7 .8 2 .1 2.1-.1 2.2 .5 2-2 1.8-2.7 .6-2.1 1.6-.8-2.1-1.8-1.5-.8-2-.9-2.1-1.2-1.8 .7-2.3 0-2.4 .1-2.5 .5-2.3 .9-2.3 .3-2.5 .8-2 1.6-1.6 1.3-1.7 1.2-1.9 1.1-1.8 .5-2.2 1.6-1.5 .7-2.1 1.3-1.7 1.3-1.7 1.5-1.6 1.1-1.9 1.6-1.4 .9-2.1 1.8-1.3 .9-2 1.4-1.6 1.4-1.7 .3-2.1 1.9-1.4 .5-2 .7-2 .8-1.9 1.5-1.5 .8-1.9 .8-1.9-.7-1.9-.3-2-.5-1.9-.7-1.9z"/>
<path id="pHN" d="M565.6 686.8l1.2-1.7 1.9-1 1-1.9 1.3-1.6 1.2-1.7 .8-1.9 2.5 0 2.5-.4 2.5-.4 2.3-1.1 2.5-.6 2.6 0 2.2-1.2 2.4-.9 2.5-.4 2 .4 1.9 .8 2.1-.1 2 .4 1.8 1-.2 2.1-.5 2.1-1 1.9-1.2 1.8 .2 2.2-1 1.9-1.3 1.7-1.1 1.8-1.3 1.7-1.3 1.7-1.5 1.5-1.4 1.7-2 .9-1.8 1.1-1.5 1.6-1.5 1.6-2 .9-1.7 1.3-2.3-1.3-2.3-1.1-2.6-.5-2.5-.7-2.4-1-2.6-.4 .1-2.1-.3-2-.3-2.1-.5-2-.8-2z"/>
<path id="pTW" d="M744.5 606.8l0-2.2 .7-2.2-.5-2.2 1.1-2 1.3-2 .4-2.3 .1-2.3-.4-2.2-.2-2.2 1.1-1.7 1-1.8 .5-2.1 1.3-1.6 1.1-1.7 .5-2.1 .7-1.9 1-1.8 1.5-1.4 1.1-1.9 1.8-1.1 1.6-1.3 1.4-1.6 1.9 1.2 2.3 .1 1.9 1.1 .3 2.5 .1 2.4-.5 2.5 .5 2.4-1 2.5 .6 2.4-1 2-.7 2.2-.4 2.2 .2 2.3 .1 2.3 .4 2.3-.4 2.2-1 2-.9 2.1-.7 2.3-.6 2.3 0 2.4 0 2.4-.8 2.4 0 2.4-.8 2.3-1 2.2-1.1 2.1-1.4-2.2-2.3-1.6-1.1-2.4-1.3-1.9-2.2-1-1.3-1.9-1.6-1.7-1.8-1.4z"/>
<path id="pSH" d="M738.6 461.0l2-.1 2.1-.3 1.8-.8 1.8-1.1 2.1 0 1 1.8 .6 2 1.5 1.5-1.5 2.1-.6 2.6-1 2.3-2.6 .3-2.5 .9-2.3 1.2-2-2.2-2-2.2 .1-2.1 .4-2 .3-2z"/>
<path id="pBJ" d="M652.8 303.5l1.4 1.7 1.8 1.2 1.9 .9 2.1 .6 1.4 1.8 2 .8-.4 2.2-1.2 1.9-.1 2.3-.9 2.1-.9 2-.3 2.4-1.2 2.2-.3 2.4-2.3 .7-2.4 0-2.4-.1-2.3-.5-2.3-.5-2.4 .4-1.7-2.1-1.1-2.3-.7-2.6 1.1-1.7 1.4-1.6 1.1-1.7 .3-2.2 1.4-1.5 1.8-1.4 1.4-1.8 .8-2.3 1.3-1.8z"/>
<path id="pTJ" d="M663.4 310.5l1 2.4 1.7 2.1 .9 2.5 .7 2.5 .7 2.4 0 2.6 1.8 1.9 1.1 2.3 .9 2.4 .2 2.2-1.4 2-.1 2.1 .5 2.2-.8 2.1-2.1-.5-2.1 0-2.2 .8-2.1-.4-2.1 .1 0-2 .5-2-.1-2.1-.4-2-.3-2 .3-2.1-1.9-2 .3-2.4 1.2-2.2 .3-2.4 .9-2 .9-2.1 .1-2.3 1.2-1.9z"/>
</defs>
<text x="30.5" y="19.0" font-size="24.0" font-weight="bold" fill="#231f20" text-anchor="start" textLength="16.5" lengthAdjust="spacingAndGlyphs" >A</text>
<text x="62.0" y="20.0" font-size="21.0" font-weight="bold" fill="#231f20" text-anchor="start" textLength="103.0" lengthAdjust="spacingAndGlyphs" >1986–2005</text>
<g stroke="#231f20" stroke-width="2" fill="none">
<rect x="62" y="76.5" width="901.5" height="633.5"/>
<line x1="64.3" y1="65" x2="64.3" y2="77"/>
<line x1="124.5" y1="65" x2="124.5" y2="77"/>
<line x1="182.8" y1="65" x2="182.8" y2="77"/>
<line x1="238.7" y1="65" x2="238.7" y2="77"/>
<line x1="293.5" y1="65" x2="293.5" y2="77"/>
<line x1="348.3" y1="65" x2="348.3" y2="77"/>
<line x1="400.4" y1="65" x2="400.4" y2="77"/>
<line x1="452.8" y1="65" x2="452.8" y2="77"/>
<line x1="504.9" y1="65" x2="504.9" y2="77"/>
<line x1="557.7" y1="65" x2="557.7" y2="77"/>
<line x1="609.5" y1="65" x2="609.5" y2="77"/>
<line x1="662.0" y1="65" x2="662.0" y2="77"/>
<line x1="715.9" y1="65" x2="715.9" y2="77"/>
<line x1="771.0" y1="65" x2="771.0" y2="77"/>
<line x1="826.9" y1="65" x2="826.9" y2="77"/>
<line x1="885.0" y1="65" x2="885.0" y2="77"/>
<line x1="945.3" y1="65" x2="945.3" y2="77"/>
<line x1="75.8" y1="709" x2="75.8" y2="721.5"/>
<line x1="164.1" y1="709" x2="164.1" y2="721.5"/>
<line x1="252.0" y1="709" x2="252.0" y2="721.5"/>
<line x1="336.5" y1="709" x2="336.5" y2="721.5"/>
<line x1="421.0" y1="709" x2="421.0" y2="721.5"/>
<line x1="504.6" y1="709" x2="504.6" y2="721.5"/>
<line x1="588.6" y1="709" x2="588.6" y2="721.5"/>
<line x1="673.2" y1="709" x2="673.2" y2="721.5"/>
<line x1="757.9" y1="709" x2="757.9" y2="721.5"/>
<line x1="846.0" y1="709" x2="846.0" y2="721.5"/>
<line x1="934.0" y1="709" x2="934.0" y2="721.5"/>
<line x1="50" y1="251.2" x2="62" y2="251.2"/>
<line x1="50" y1="435.6" x2="62" y2="435.6"/>
<line x1="50" y1="613.7" x2="62" y2="613.7"/>
<line x1="963.5" y1="245.1" x2="975" y2="245.1"/>
<line x1="963.5" y1="430.3" x2="975" y2="430.3"/>
<line x1="963.5" y1="609.0" x2="975" y2="609.0"/>
</g>
<text x="47.5" y="55.8" font-size="21.5" font-weight="normal" fill="#231f20" text-anchor="start" textLength="38.7" lengthAdjust="spacingAndGlyphs" >65°E</text>
<text x="103.4" y="55.8" font-size="21.5" font-weight="normal" fill="#231f20" text-anchor="start" textLength="38.4" lengthAdjust="spacingAndGlyphs" >70°E</text>
<text x="166.0" y="55.8" font-size="21.5" font-weight="normal" fill="#231f20" text-anchor="start" textLength="39.0" lengthAdjust="spacingAndGlyphs" >75°E</text>
<text x="218.0" y="55.8" font-size="21.5" font-weight="normal" fill="#231f20" text-anchor="start" textLength="40.3" lengthAdjust="spacingAndGlyphs" >80°E</text>
<text x="273.0" y="55.8" font-size="21.5" font-weight="normal" fill="#231f20" text-anchor="start" textLength="40.0" lengthAdjust="spacingAndGlyphs" >85°E</text>
<text x="325.6" y="55.8" font-size="21.5" font-weight="normal" fill="#231f20" text-anchor="start" textLength="39.1" lengthAdjust="spacingAndGlyphs" >90°E</text>
<text x="380.8" y="55.8" font-size="21.5" font-weight="normal" fill="#231f20" text-anchor="start" textLength="38.7" lengthAdjust="spacingAndGlyphs" >95°E</text>
<text x="480.6" y="55.8" font-size="21.5" font-weight="normal" fill="#231f20" text-anchor="start" textLength="48.9" lengthAdjust="spacingAndGlyphs" >105°E</text>
<text x="589.3" y="55.8" font-size="21.5" font-weight="normal" fill="#231f20" text-anchor="start" textLength="48.2" lengthAdjust="spacingAndGlyphs" >115°E</text>
<text x="691.3" y="55.8" font-size="21.5" font-weight="normal" fill="#231f20" text-anchor="start" textLength="49.5" lengthAdjust="spacingAndGlyphs" >125°E</text>
<text x="799.0" y="55.8" font-size="21.5" font-weight="normal" fill="#231f20" text-anchor="start" textLength="48.6" lengthAdjust="spacingAndGlyphs" >135°E</text>
<text x="859.2" y="55.8" font-size="21.5" font-weight="normal" fill="#231f20" text-anchor="start" textLength="50.4" lengthAdjust="spacingAndGlyphs" >140°E</text>
<text x="919.5" y="55.8" font-size="21.5" font-weight="normal" fill="#231f20" text-anchor="start" textLength="49.5" lengthAdjust="spacingAndGlyphs" >145°E</text>
<text x="58.5" y="742.0" font-size="21.5" font-weight="normal" fill="#231f20" text-anchor="start" textLength="39.4" lengthAdjust="spacingAndGlyphs" >80°E</text>
<text x="146.3" y="742.0" font-size="21.5" font-weight="normal" fill="#231f20" text-anchor="start" textLength="39.9" lengthAdjust="spacingAndGlyphs" >85°E</text>
<text x="230.8" y="742.0" font-size="21.5" font-weight="normal" fill="#231f20" text-anchor="start" textLength="40.9" lengthAdjust="spacingAndGlyphs" >90°E</text>
<text x="315.4" y="742.0" font-size="21.5" font-weight="normal" fill="#231f20" text-anchor="start" textLength="41.3" lengthAdjust="spacingAndGlyphs" >95°E</text>
<text x="403.2" y="742.0" font-size="21.5" font-weight="normal" fill="#231f20" text-anchor="start" textLength="53.1" lengthAdjust="spacingAndGlyphs" >100°E</text>
<text x="485.9" y="742.0" font-size="21.5" font-weight="normal" fill="#231f20" text-anchor="start" textLength="51.8" lengthAdjust="spacingAndGlyphs" >105°E</text>
<text x="573.0" y="742.0" font-size="21.5" font-weight="normal" fill="#231f20" text-anchor="start" textLength="49.9" lengthAdjust="spacingAndGlyphs" >110°E</text>
<text x="650.3" y="742.0" font-size="21.5" font-weight="normal" fill="#231f20" text-anchor="start" textLength="48.4" lengthAdjust="spacingAndGlyphs" >115°E</text>
<text x="732.0" y="742.0" font-size="21.5" font-weight="normal" fill="#231f20" text-anchor="start" textLength="51.3" lengthAdjust="spacingAndGlyphs" >120°E</text>
<text x="816.6" y="742.0" font-size="21.5" font-weight="normal" fill="#231f20" text-anchor="start" textLength="50.9" lengthAdjust="spacingAndGlyphs" >125°E</text>
<text x="908.0" y="742.0" font-size="21.5" font-weight="normal" fill="#231f20" text-anchor="start" textLength="50.5" lengthAdjust="spacingAndGlyphs" >130°E</text>
<text x="-2.0" y="257.8" font-size="21.5" font-weight="normal" fill="#231f20" text-anchor="start" textLength="45.0" lengthAdjust="spacingAndGlyphs" >40°N</text>
<text x="-2.0" y="442.0" font-size="21.5" font-weight="normal" fill="#231f20" text-anchor="start" textLength="45.0" lengthAdjust="spacingAndGlyphs" >30°N</text>
<text x="-2.0" y="620.0" font-size="21.5" font-weight="normal" fill="#231f20" text-anchor="start" textLength="45.0" lengthAdjust="spacingAndGlyphs" >20°N</text>
<text x="980.6" y="254.0" font-size="21.5" font-weight="normal" fill="#231f20" text-anchor="start" textLength="44.0" lengthAdjust="spacingAndGlyphs" >40°N</text>
<text x="980.6" y="438.5" font-size="21.5" font-weight="normal" fill="#231f20" text-anchor="start" textLength="44.0" lengthAdjust="spacingAndGlyphs" >30°N</text>
<text x="980.6" y="617.0" font-size="21.5" font-weight="normal" fill="#231f20" text-anchor="start" textLength="44.0" lengthAdjust="spacingAndGlyphs" >20°N</text>
<g stroke="#3e3434" stroke-width="2.20" stroke-linejoin="round" fill="#3e3434">
<use href="#pXJ"/>
<use href="#pXZ"/>
<use href="#pQH"/>
<use href="#pGS"/>
<use href="#pGS2"/>
<use href="#pNX"/>
<use href="#pIM"/>
<use href="#pHLJ"/>
<use href="#pJL"/>
<use href="#pLN"/>
<use href="#pHB"/>
<use href="#pSX"/>
<use href="#pSAX"/>
<use href="#pSC"/>
<use href="#pCQ"/>
<use href="#pHUB"/>
<use href="#pHEN"/>
<use href="#pSD"/>
<use href="#pJS"/>
<use href="#pAH"/>
<use href="#pZJ"/>
<use href="#pFJ"/>
<use href="#pJX"/>
<use href="#pHUN"/>
<use href="#pGZ"/>
<use href="#pYN"/>
<use href="#pGX"/>
<use href="#pGD"/>
<use href="#pHN"/>
<use href="#pTW"/>
<use href="#pSH"/>
<use href="#pBJ"/>
<use href="#pTJ"/>
</g>
<g stroke="#5e4c4c" stroke-width="1.20" stroke-linejoin="round">
<use href="#pXJ" fill="#fde4e4"/>
<use href="#pXZ" fill="#fde4e4"/>
<use href="#pQH" fill="#fde4e4"/>
<use href="#pGS" fill="#f9c3bc"/>
<use href="#pGS2" fill="#f9c3bc"/>
<use href="#pNX" fill="#fde4e4"/>
<use href="#pIM" fill="#f8a99c"/>
<use href="#pHLJ" fill="#f8a99c"/>
<use href="#pJL" fill="#f8a99c"/>
<use href="#pLN" fill="#f18776"/>
<use href="#pHB" fill="#f18776"/>
<use href="#pSX" fill="#f8a99c"/>
<use href="#pSAX" fill="#f8a99c"/>
<use href="#pSC" fill="#de6462"/>
<use href="#pCQ" fill="#f18776"/>
<use href="#pHUB" fill="#de6462"/>
<use href="#pHEN" fill="#de6462"/>
<use href="#pSD" fill="#de6462"/>
<use href="#pJS" fill="#de6462"/>
<use href="#pAH" fill="#f18776"/>
<use href="#pZJ" fill="#f18776"/>
<use href="#pFJ" fill="#f8a99c"/>
<use href="#pJX" fill="#f18776"/>
<use href="#pHUN" fill="#de6462"/>
<use href="#pGZ" fill="#f18776"/>
<use href="#pYN" fill="#f18776"/>
<use href="#pGX" fill="#f18776"/>
<use href="#pGD" fill="#de6462"/>
<use href="#pHN" fill="#fde4e4"/>
<use href="#pTW" fill="#fde4e4"/>
<use href="#pSH" fill="#f8a99c"/>
<use href="#pBJ" fill="#f9c3bc"/>
<use href="#pTJ" fill="#f9c3bc"/>
</g>
<polyline fill="none" stroke="#222" stroke-width="1.60" stroke-linejoin="round" points="751.5,464.0 750.0,466.1 749.4,468.7 748.4,471.0 745.8,471.3 743.3,472.2 741.0,473.4 743.1,474.3 744.6,476.1 746.6,477.2 747.9,479.0 749.7,480.5 750.8,482.5 752.3,484.6 753.2,487.0 753.7,489.6 753.3,492.0 753.1,494.4 752.6,496.7 752.2,499.1 752.0,501.5 750.8,503.7 750.0,505.6 749.5,507.7 749.3,509.8 748.4,511.7 747.6,513.6 746.5,515.4 745.6,517.3 745.2,519.3 745.1,521.7 743.9,523.9 743.2,526.1 741.6,527.8 740.7,530.0 739.5,532.0 738.2,534.1 736.4,535.6 734.3,537.0 733.0,539.0 732.4,541.5 731.3,543.8 730.3,546.1 729.5,548.5 729.1,551.0 728.2,553.3 729.1,555.2 729.5,557.2 729.9,559.2 731.0,561.1 731.0,563.2 730.2,565.2 729.2,567.0 728.0,568.8 726.9,570.6 726.4,572.7 725.3,574.6 723.1,575.9 721.2,577.5 719.6,579.5 717.8,581.2 715.8,582.8 714.0,584.5 712.3,585.6 710.8,586.9 709.8,588.8 707.9,589.7 706.7,591.3 704.9,592.4 704.0,594.3 702.7,595.8 701.4,597.6 700.1,599.3 698.5,600.7 697.2,602.4 695.3,603.6 694.7,605.6 693.5,607.3 693.3,609.4 691.9,610.9 690.8,612.5 689.6,614.2 687.1,614.3 684.6,614.9 682.3,615.9 680.2,617.2 678.1,618.5 675.9,619.7 673.8,620.4 671.5,620.7 669.3,620.9 667.4,622.2 665.3,622.9 663.1,623.4 661.1,624.5 658.9,624.8 656.7,625.2 654.6,625.1 652.7,626.3 650.6,626.2 648.5,625.8 646.5,626.9 644.4,626.6 643.6,628.6 643.6,630.7 643.4,632.8 643.0,634.8 641.3,636.0 639.3,636.6 637.8,638.3 635.8,638.9 634.0,640.0 631.7,639.8 630.1,641.5 628.0,641.6 625.6,641.6 623.4,642.7 621.1,643.0 618.7,642.9 616.4,643.5 614.2,644.4 612.4,645.6 610.8,647.2 608.7,647.9 606.7,648.4 604.8,649.7 602.6,649.7 600.4,649.8 598.5,650.8 596.4,651.2"/>
<path fill="#222" d="M735.9 442.2h1.9v1.2h-1.9zM745.5 454.3h2.5v3.4h-2.5zM751.0 459.9h1.7v1.2h-1.7zM748.7 461.1h3.0v2.2h-3.0zM750.9 461.4h1.9v2.0h-1.9zM749.9 462.7h2.6v2.5h-2.6zM751.0 464.3h2.1v1.8h-2.1zM748.3 466.7h2.4v2.4h-2.4zM750.5 468.0h1.7v2.3h-1.7zM749.0 465.1h2.8v2.0h-2.8zM749.4 468.0h2.8v3.0h-2.8zM747.3 469.4h2.7v2.9h-2.7zM747.9 468.8h3.0v4.1h-3.0zM745.3 469.5h2.7v3.0h-2.7zM745.7 477.2h1.7v1.5h-1.7zM745.5 469.7h2.1v1.5h-2.1zM746.6 469.2h2.8v2.0h-2.8zM746.4 471.2h3.1v2.1h-3.1zM746.1 472.9h3.1v3.9h-3.1zM744.8 472.5h1.9v2.4h-1.9zM742.7 471.4h1.4v1.1h-1.4zM744.9 472.8h2.4v2.0h-2.4zM745.5 472.2h1.9v2.0h-1.9zM744.0 475.8h2.2v2.4h-2.2zM742.4 469.9h3.2v3.9h-3.2zM744.8 477.2h1.9v1.8h-1.9zM741.1 472.0h1.2v0.9h-1.2zM743.0 472.9h1.1v0.7h-1.1zM741.9 471.2h1.9v1.2h-1.9zM742.5 476.2h1.4v1.1h-1.4zM742.6 473.3h1.3v1.7h-1.3zM741.1 474.5h2.2v1.4h-2.2zM740.5 471.6h3.0v2.2h-3.0zM743.5 464.3h2.3v1.6h-2.3zM740.8 473.2h2.3v3.1h-2.3zM744.1 468.7h1.6v1.5h-1.6zM742.7 466.8h2.3v2.8h-2.3zM746.7 468.6h3.4v4.3h-3.4zM748.0 469.9h2.8v2.2h-2.8zM744.4 473.8h1.1v0.7h-1.1zM742.7 473.1h2.7v3.6h-2.7zM748.4 467.8h3.4v4.6h-3.4zM744.5 475.2h1.5v1.1h-1.5zM748.4 468.5h3.0v3.0h-3.0zM748.6 470.6h1.2v1.4h-1.2zM748.2 470.4h2.8v2.8h-2.8zM747.3 469.9h1.8v2.2h-1.8zM746.9 475.2h3.3v3.9h-3.3zM746.0 476.9h1.4v1.8h-1.4zM746.1 477.2h3.0v4.1h-3.0zM747.4 476.4h2.3v1.6h-2.3zM752.6 470.6h2.6v2.6h-2.6zM748.0 476.1h3.1v3.9h-3.1zM748.1 477.9h1.6v1.7h-1.6zM749.0 477.2h1.3v1.7h-1.3zM748.8 476.5h2.4v3.2h-2.4zM752.7 472.1h2.2v2.3h-2.2zM747.5 479.1h2.1v1.5h-2.1zM749.6 481.0h2.1v2.5h-2.1zM750.2 479.9h2.2v2.3h-2.2zM749.2 481.0h2.3v1.9h-2.3zM754.3 477.0h2.2v2.3h-2.2zM756.7 477.1h2.1v2.2h-2.1zM754.7 479.7h2.1v2.1h-2.1zM757.2 477.3h2.7v3.5h-2.7zM751.6 483.0h2.3v3.2h-2.3zM751.4 483.7h1.3v1.2h-1.3zM750.8 481.8h1.2v1.3h-1.2zM757.8 479.0h1.4v1.6h-1.4zM758.0 480.7h3.3v2.6h-3.3zM753.7 485.2h2.2v3.0h-2.2zM752.1 485.6h2.0v2.1h-2.0zM751.9 484.5h1.8v2.1h-1.8zM754.5 482.5h2.1v1.3h-2.1zM755.4 482.9h2.2v1.5h-2.2zM761.8 486.7h1.3v1.0h-1.3zM758.5 485.1h1.6v1.2h-1.6zM759.9 485.1h3.0v2.4h-3.0zM760.2 484.6h2.4v2.7h-2.4zM751.5 486.0h2.7v2.5h-2.7zM760.3 484.3h2.5v3.1h-2.5zM759.8 485.3h1.2v1.5h-1.2zM755.3 489.4h3.2v2.6h-3.2zM755.9 489.7h1.6v1.1h-1.6zM752.5 489.2h1.5v1.3h-1.5zM758.6 490.5h1.7v1.7h-1.7zM754.4 489.7h1.0v0.8h-1.0zM758.0 489.5h2.3v1.7h-2.3zM751.4 492.7h3.0v2.8h-3.0zM759.2 492.7h1.9v2.0h-1.9zM761.4 493.4h1.8v2.3h-1.8zM756.5 493.0h2.0v1.7h-2.0zM752.6 491.5h1.2v1.4h-1.2zM752.7 492.0h1.2v1.5h-1.2zM752.8 495.3h1.6v1.3h-1.6zM751.9 494.4h2.1v1.7h-2.1zM760.4 497.2h2.3v1.8h-2.3zM752.7 495.9h1.9v1.1h-1.9zM754.3 494.6h2.2v1.7h-2.2zM751.6 494.6h1.6v1.1h-1.6zM751.3 495.9h1.7v1.4h-1.7zM754.1 497.2h2.8v3.2h-2.8zM758.9 498.7h1.9v1.7h-1.9zM750.9 497.7h2.7v3.1h-2.7zM758.0 496.4h3.1v3.5h-3.1zM758.3 498.9h1.3v1.4h-1.3zM757.0 500.4h3.0v3.2h-3.0zM755.5 500.5h2.7v2.1h-2.7zM751.2 498.2h1.9v1.3h-1.9zM754.2 500.3h2.5v2.8h-2.5zM754.2 500.6h1.0v1.2h-1.0zM753.7 500.1h2.3v2.6h-2.3zM751.0 502.8h1.2v1.0h-1.2zM750.0 501.9h2.8v3.8h-2.8zM751.8 502.3h2.1v2.5h-2.1zM753.4 503.8h2.5v1.7h-2.5zM750.9 500.7h2.8v2.3h-2.8zM750.3 502.0h1.1v0.9h-1.1zM753.9 506.1h1.7v1.7h-1.7zM752.0 504.9h1.3v1.7h-1.3zM757.5 506.0h3.2v2.0h-3.2zM755.0 505.6h3.3v3.2h-3.3zM749.2 502.7h3.3v2.5h-3.3zM751.3 504.9h3.3v2.3h-3.3zM750.9 506.4h3.1v3.6h-3.1zM756.5 506.7h2.2v1.3h-2.2zM751.6 505.2h2.1v1.8h-2.1zM750.3 505.3h1.8v2.2h-1.8zM755.7 509.4h1.3v1.7h-1.3zM756.4 509.2h1.7v1.5h-1.7zM757.7 508.3h2.4v2.1h-2.4zM749.6 508.1h1.1v0.8h-1.1zM748.6 507.9h3.2v2.6h-3.2zM748.1 509.9h1.9v2.6h-1.9zM753.3 513.0h2.5v3.3h-2.5zM750.1 511.6h2.7v1.7h-2.7zM749.3 510.7h2.8v3.1h-2.8zM747.1 508.5h3.2v2.3h-3.2zM747.6 511.3h2.8v3.8h-2.8zM751.6 513.0h1.7v1.8h-1.7zM747.5 511.8h1.4v1.1h-1.4zM749.5 513.7h1.5v2.0h-1.5zM749.1 513.8h1.3v1.0h-1.3zM746.2 513.3h1.6v1.3h-1.6zM752.2 517.2h2.8v2.6h-2.8zM748.8 515.0h1.9v1.7h-1.9zM746.6 512.5h3.3v2.3h-3.3zM749.2 515.2h3.1v2.4h-3.1zM746.9 515.6h2.1v2.8h-2.1zM752.1 519.7h1.1v0.7h-1.1zM751.9 519.1h2.1v2.3h-2.1zM746.5 514.5h3.2v4.1h-3.2zM753.1 520.1h1.6v1.1h-1.6zM748.6 517.7h3.3v3.8h-3.3zM750.2 518.8h2.1v2.2h-2.1zM751.0 517.9h1.6v2.1h-1.6zM745.7 518.1h1.3v1.0h-1.3zM749.7 519.0h1.3v0.8h-1.3zM746.0 520.0h1.5v1.7h-1.5zM745.1 518.3h2.1v2.9h-2.1zM751.7 520.2h2.1v1.7h-2.1zM752.7 519.1h2.7v2.3h-2.7zM746.7 518.2h2.6v2.5h-2.6zM748.3 518.6h3.2v2.5h-3.2zM743.8 521.4h2.6v2.0h-2.6zM744.8 523.2h2.2v1.7h-2.2zM745.2 524.5h1.6v1.2h-1.6zM741.8 523.9h3.3v3.3h-3.3zM742.7 523.2h2.0v2.3h-2.0zM742.5 525.8h1.5v2.1h-1.5zM742.1 525.4h1.1v1.0h-1.1zM742.5 528.2h2.8v3.9h-2.8zM739.5 526.8h3.2v3.9h-3.2zM742.1 527.6h1.9v1.7h-1.9zM740.6 527.9h1.0v0.8h-1.0zM737.6 530.1h3.3v2.5h-3.3zM740.9 530.4h3.0v2.8h-3.0zM737.6 531.5h3.2v2.4h-3.2zM740.9 533.7h1.1v1.0h-1.1zM736.0 534.4h1.1v0.7h-1.1zM735.1 534.1h2.8v3.7h-2.8zM735.9 532.9h3.3v3.6h-3.3zM734.2 535.9h1.7v1.0h-1.7zM735.2 537.9h2.5v3.4h-2.5zM733.0 536.2h3.3v4.5h-3.3zM732.7 536.7h2.0v2.0h-2.0zM733.8 538.6h2.8v3.5h-2.8zM732.9 540.3h1.8v1.5h-1.8zM734.4 539.8h1.2v0.9h-1.2zM731.2 541.3h1.1v1.1h-1.1zM733.6 542.2h3.1v4.3h-3.1zM731.2 541.3h1.2v1.2h-1.2zM729.8 543.8h2.0v2.2h-2.0zM731.0 544.6h3.0v3.4h-3.0zM732.7 544.2h1.7v1.8h-1.7zM728.7 547.0h1.6v1.3h-1.6zM731.6 546.2h2.4v2.1h-2.4zM729.2 550.3h1.6v1.9h-1.6zM732.0 549.9h1.2v1.2h-1.2zM730.6 553.5h1.1v0.9h-1.1zM727.1 549.5h3.3v3.6h-3.3zM727.0 551.7h3.1v3.0h-3.1zM731.1 552.8h1.3v1.4h-1.3zM727.7 553.6h1.9v1.3h-1.9zM729.1 554.1h2.6v2.0h-2.6zM727.9 553.9h2.6v2.0h-2.6zM730.7 556.0h2.3v1.5h-2.3zM728.8 556.2h2.3v2.6h-2.3zM730.6 557.7h2.0v1.6h-2.0zM732.2 557.3h1.7v1.8h-1.7zM732.0 560.3h3.4v3.0h-3.4zM732.2 560.7h1.5v0.9h-1.5zM732.0 563.9h2.0v2.6h-2.0zM729.9 563.5h1.0v1.1h-1.0zM732.7 564.9h1.2v1.3h-1.2zM728.6 565.1h1.7v1.7h-1.7zM727.8 565.6h2.2v2.7h-2.2zM727.0 565.6h3.3v4.5h-3.3zM726.6 566.0h3.2v2.9h-3.2zM727.8 567.9h3.0v2.2h-3.0zM726.6 567.9h3.0v3.8h-3.0zM726.7 568.1h2.0v2.0h-2.0zM725.4 569.5h2.7v3.6h-2.7zM726.5 569.6h2.8v1.8h-2.8zM726.2 572.4h2.3v2.6h-2.3zM725.3 572.4h2.4v2.3h-2.4zM724.1 575.1h1.1v1.2h-1.1zM722.7 573.7h2.8v3.5h-2.8zM723.1 573.9h2.1v1.5h-2.1zM721.0 575.3h2.1v2.1h-2.1zM723.4 576.4h1.2v1.4h-1.2zM718.9 577.2h2.2v2.0h-2.2zM717.9 577.7h3.1v4.3h-3.1zM721.2 579.7h1.5v2.0h-1.5zM719.1 582.7h1.4v1.7h-1.4zM716.7 579.8h1.8v2.2h-1.8zM714.5 581.1h3.0v2.1h-3.0zM717.9 583.6h1.5v1.2h-1.5zM714.2 582.3h1.4v1.0h-1.4zM713.7 584.0h3.1v2.3h-3.1zM713.0 582.7h2.3v2.5h-2.3zM711.9 585.2h2.4v3.1h-2.4zM714.5 586.3h2.5v2.3h-2.5zM712.9 587.4h2.4v2.1h-2.4zM710.8 586.3h1.4v1.7h-1.4zM708.6 587.2h2.5v3.5h-2.5zM710.7 587.8h1.8v1.1h-1.8zM709.1 589.1h2.0v2.1h-2.0zM707.2 588.5h1.5v1.7h-1.5zM707.5 589.2h1.3v1.1h-1.3zM707.4 589.6h2.4v1.8h-2.4zM704.0 589.9h3.2v2.6h-3.2zM705.0 589.9h2.5v3.3h-2.5zM704.0 592.6h1.0v1.1h-1.0zM703.3 592.3h2.5v2.4h-2.5zM701.4 593.8h3.2v2.0h-3.2zM702.9 594.6h1.6v1.0h-1.6zM701.9 594.8h3.3v2.3h-3.3zM702.4 595.8h2.2v2.5h-2.2zM700.4 597.1h1.7v1.1h-1.7zM700.6 599.1h2.7v1.6h-2.7zM697.9 599.4h2.8v2.7h-2.8zM698.7 598.5h1.6v1.0h-1.6zM699.5 599.9h2.7v3.4h-2.7zM697.5 600.4h2.0v2.5h-2.0zM696.4 600.2h2.5v3.5h-2.5zM694.5 602.2h1.6v1.3h-1.6zM694.9 604.9h1.8v2.3h-1.8zM693.3 602.6h3.2v3.5h-3.2zM694.4 606.7h2.1v2.7h-2.1zM694.0 606.6h2.0v2.4h-2.0zM691.9 606.7h2.5v1.7h-2.5zM692.4 608.6h1.1v0.7h-1.1zM692.0 609.1h1.1v0.7h-1.1zM691.5 609.6h2.7v3.2h-2.7zM689.8 610.4h3.0v3.7h-3.0zM690.3 611.9h3.2v4.3h-3.2zM689.8 611.9h1.3v0.8h-1.3zM686.1 613.5h3.0v3.3h-3.0zM688.2 613.2h1.2v1.5h-1.2zM685.8 614.1h1.1v0.8h-1.1zM685.6 614.5h1.9v1.6h-1.9zM682.8 615.4h2.5v1.6h-2.5zM682.3 614.0h2.9v2.5h-2.9zM679.5 614.8h3.1v2.1h-3.1zM679.9 616.2h1.0v0.8h-1.0zM676.8 616.9h2.2v2.2h-2.2zM677.2 616.8h2.2v1.9h-2.2zM677.5 619.5h1.7v1.3h-1.7zM676.1 619.0h1.3v1.4h-1.3zM673.0 619.7h2.9v3.2h-2.9zM671.3 619.0h3.1v2.1h-3.1zM671.0 619.4h1.5v1.2h-1.5zM668.9 619.3h3.1v2.5h-3.1zM669.2 619.8h2.8v3.4h-2.8zM667.9 620.6h1.4v1.7h-1.4zM667.9 621.9h1.4v1.3h-1.4zM665.0 621.1h2.1v2.8h-2.1zM665.9 621.2h1.7v2.0h-1.7zM664.1 621.8h1.6v1.4h-1.6zM663.2 621.9h1.8v1.3h-1.8zM659.8 622.1h3.3v2.3h-3.3zM661.8 624.0h2.9v3.5h-2.9zM660.2 624.6h1.3v1.0h-1.3zM659.2 623.1h2.0v2.4h-2.0zM656.9 624.7h2.1v1.5h-2.1zM656.2 623.8h2.8v3.7h-2.8zM654.4 625.2h2.0v1.6h-2.0zM653.7 625.2h2.9v3.3h-2.9zM652.6 625.5h2.1v1.8h-2.1zM652.2 624.5h2.0v2.5h-2.0zM650.4 625.0h2.0v1.9h-2.0zM650.1 625.0h2.6v3.5h-2.6zM648.0 626.1h1.9v1.9h-1.9zM647.9 625.6h1.4v1.7h-1.4zM646.2 626.6h1.2v1.3h-1.2zM643.7 625.8h2.5v3.2h-2.5zM643.7 625.2h3.3v2.5h-3.3zM644.5 627.2h1.3v1.8h-1.3zM642.8 626.3h1.7v1.5h-1.7zM642.4 628.1h2.7v2.4h-2.7zM643.0 629.6h3.3v3.3h-3.3zM642.4 633.7h1.5v1.1h-1.5zM641.0 635.3h2.1v2.2h-2.1zM642.8 635.7h1.8v2.1h-1.8zM638.9 635.9h1.7v1.8h-1.7zM640.5 636.5h1.9v2.4h-1.9zM637.5 636.1h2.0v1.5h-2.0zM639.2 636.4h1.7v1.3h-1.7zM635.6 637.4h2.5v2.9h-2.5zM634.3 640.6h1.1v1.4h-1.1zM634.1 640.2h1.3v1.7h-1.3zM632.4 637.9h3.3v3.7h-3.3zM632.8 638.8h1.3v1.1h-1.3zM629.3 638.5h3.2v3.9h-3.2zM631.4 640.0h2.5v3.0h-2.5zM626.8 641.3h3.0v2.3h-3.0zM627.3 640.6h2.8v2.6h-2.8zM625.9 640.6h1.6v1.1h-1.6zM625.8 640.0h2.1v1.5h-2.1zM623.2 641.0h3.1v1.9h-3.1zM622.7 641.5h2.4v2.7h-2.4zM620.9 641.3h3.3v2.2h-3.3zM621.5 643.1h1.1v1.2h-1.1zM617.2 641.1h3.4v3.4h-3.4zM619.3 644.0h1.1v1.3h-1.1zM617.4 643.6h1.9v1.8h-1.9zM617.0 643.6h1.5v1.4h-1.5zM614.8 644.4h1.7v2.1h-1.7zM614.8 643.4h1.7v1.7h-1.7zM612.8 645.3h1.8v1.5h-1.8zM612.7 644.0h2.5v3.1h-2.5zM611.2 646.7h2.3v1.5h-2.3zM609.1 645.3h3.2v3.5h-3.2zM608.2 647.2h3.2v3.5h-3.2zM606.4 647.9h2.4v2.8h-2.4zM607.5 647.7h2.1v2.5h-2.1zM604.6 646.8h2.9v3.8h-2.9zM602.6 649.6h2.9v3.0h-2.9zM603.2 648.5h2.0v1.7h-2.0zM600.7 650.9h1.1v1.2h-1.1zM601.0 647.8h2.9v3.1h-2.9zM598.4 648.8h1.9v2.1h-1.9zM598.4 651.4h2.1v2.0h-2.1zM596.4 650.1h1.4v0.8h-1.4zM769.3 287.0h1.2v1.6h-1.2zM764.6 291.1h1.4v0.9h-1.4zM763.3 294.6h2.8v1.8h-2.8zM760.3 295.2h3.2v2.6h-3.2zM759.4 297.5h1.0v1.2h-1.0zM758.6 297.6h2.8v2.0h-2.8zM756.6 299.8h1.9v2.0h-1.9zM754.5 301.3h2.9v2.6h-2.9zM754.0 303.6h1.9v2.4h-1.9zM753.2 306.1h1.7v1.1h-1.7zM753.3 308.8h1.8v1.9h-1.8zM749.9 310.5h1.7v1.6h-1.7zM749.1 311.2h2.4v3.2h-2.4zM746.5 311.1h1.6v1.5h-1.6zM745.1 315.8h1.1v1.4h-1.1zM742.2 315.2h1.7v2.1h-1.7zM740.6 317.5h1.8v1.2h-1.8zM737.4 315.7h2.8v3.8h-2.8zM734.6 318.5h1.5v1.2h-1.5zM732.9 319.7h1.2v1.5h-1.2zM731.8 319.6h3.2v4.1h-3.2zM730.6 322.7h1.5v1.1h-1.5zM727.7 325.6h2.0v2.0h-2.0zM724.7 329.3h1.9v1.3h-1.9zM712.2 355.7h2.4v2.1h-2.4zM712.1 355.1h3.4v4.4h-3.4zM715.7 354.4h2.9v2.7h-2.9zM718.3 353.3h3.3v2.7h-3.3zM731.2 354.3h3.3v4.3h-3.3zM734.0 356.5h3.3v2.7h-3.3zM737.6 356.3h2.6v2.4h-2.6zM738.1 356.3h3.4v2.6h-3.4zM734.2 366.2h1.1v1.4h-1.1zM732.3 367.3h1.1v0.8h-1.1zM729.6 367.8h1.7v1.8h-1.7zM728.8 367.6h1.6v1.1h-1.6zM727.0 369.4h1.3v1.5h-1.3zM722.7 371.6h3.2v2.5h-3.2zM721.4 376.1h1.3v1.3h-1.3zM717.5 377.9h2.1v1.8h-2.1zM716.7 379.5h1.3v1.0h-1.3zM712.7 382.2h3.1v2.5h-3.1zM712.0 383.5h3.0v2.6h-3.0zM711.2 389.7h1.3v1.8h-1.3zM705.9 392.1h2.1v1.8h-2.1zM703.1 402.5h1.2v1.0h-1.2z"/>
<polygon fill="#fff" stroke="#222" stroke-width="0.96" points="740.5,474.0 746.0,474.5 752.0,477.0 754.5,481.5 749.0,481.0 743.0,479.0 739.0,476.5"/>
<g stroke="#2a2a2a" stroke-width="3" stroke-linecap="round">
<line x1="782.4" y1="573.7" x2="781.4" y2="592"/>
<line x1="777.5" y1="624" x2="768" y2="639.8"/>
<line x1="756" y1="668" x2="748" y2="690"/>
</g>
<text x="230.0" y="330.0" font-size="20.5" font-weight="normal" fill="#3a3436" text-anchor="start" textLength="90.0" lengthAdjust="spacingAndGlyphs" >Northwest</text>
<text x="296.0" y="503.0" font-size="20.5" font-weight="normal" fill="#3a3436" text-anchor="start" textLength="94.0" lengthAdjust="spacingAndGlyphs" >Southwest</text>
<text x="680.0" y="243.0" font-size="20.5" font-weight="normal" fill="#3a3436" text-anchor="start" textLength="86.0" lengthAdjust="spacingAndGlyphs" >Northeast</text>
<text x="606.5" y="351.0" font-size="20.0" font-weight="bold" fill="#ffffff" text-anchor="start" textLength="54.0" lengthAdjust="spacingAndGlyphs" >North</text>
<text x="682.3" y="487.0" font-size="20.0" font-weight="bold" fill="#ffffff" text-anchor="start" textLength="37.0" lengthAdjust="spacingAndGlyphs" >East</text>
<text x="543.0" y="537.0" font-size="20.0" font-weight="bold" fill="#ffffff" text-anchor="start" textLength="125.0" lengthAdjust="spacingAndGlyphs" >South-central</text>
<path d="M91.6,664 V676 H248 V664" fill="none" stroke="#231f20" stroke-width="2.5"/>
<text x="88.0" y="656.5" font-size="19.0" font-weight="normal" fill="#231f20" text-anchor="start" textLength="11.0" lengthAdjust="spacingAndGlyphs" >0</text>
<text x="226.0" y="656.5" font-size="19.0" font-weight="normal" fill="#231f20" text-anchor="start" textLength="42.0" lengthAdjust="spacingAndGlyphs" >1000</text>
<text x="272.0" y="656.5" font-size="19.0" font-weight="normal" fill="#231f20" text-anchor="start" textLength="28.0" lengthAdjust="spacingAndGlyphs" >km</text>
<rect x="803" y="475.5" width="160.5" height="234.5" fill="#fff" stroke="#231f20" stroke-width="2"/>
<clipPath id="ic1"><rect x="803.0" y="475.5" width="160.5" height="234.5"/></clipPath>
<g fill="none" stroke-linejoin="round" stroke-linecap="round" clip-path="url(#ic1)">
<polyline stroke="#4a6878" stroke-width="1.10" points="790.0,489.0 792.1,488.5 794.3,488.4 796.2,487.0 798.3,486.5 800.6,487.0 802.6,486.3 804.7,485.7 806.9,483.9 809.4,482.5 811.8,482.7 814.2,482.1 816.3,480.7 818.8,481.0 821.1,480.0 823.5,479.4 825.6,479.0 827.4,477.8 829.6,477.7 831.3,476.3 833.2,475.0 834.2,472.7 836.3,471.5 838.0,470.0"/>
<polyline stroke="#4a6878" stroke-width="1.10" points="800.0,486.0 801.9,487.2 803.1,489.0 804.9,490.2 805.8,492.5 807.8,493.5 809.2,495.3 810.7,497.1 811.2,499.4 812.5,501.3 813.6,503.5 814.3,505.9 814.8,508.4 815.7,510.7 817.1,513.0 818.9,514.9 820.4,517.0 822.4,518.6 823.5,520.9 825.0,522.9 826.6,524.8"/>
<polyline stroke="#222" stroke-width="1.10" points="815.7,510.7 818.2,509.7 820.7,508.8 823.5,509.0 825.7,508.7 827.5,506.9 830.0,507.4 831.7,505.7 834.1,505.7 836.0,504.4 837.9,503.6 839.7,502.5 841.8,501.8 843.8,501.2 845.4,499.7 847.6,499.5 849.8,499.4 852.0,498.7 854.2,498.5 856.4,499.0 857.1,501.5 858.7,503.6 859.5,506.0 861.9,505.7 863.7,504.0 865.8,502.9 868.1,502.8 870.5,502.4 872.8,503.3 875.1,502.9 877.6,503.9 879.7,505.5 881.4,507.6 884.1,508.0 886.5,506.4 889.2,506.8 891.8,507.1 894.4,507.3 897.0,507.6 898.2,510.2 900.2,512.3"/>
<polyline stroke="#4a6878" stroke-width="1.10" points="864.2,504.4 863.3,506.3 862.6,508.4 862.0,510.4 861.0,512.3 859.8,514.3 859.6,516.8 857.6,518.4 856.6,520.5 855.5,522.6 854.8,524.8 853.8,526.9 852.0,528.4 851.0,530.5 850.1,532.6"/>
<polyline stroke="#222" stroke-width="1.10" points="845.0,468.0 845.1,470.4 845.1,472.9 845.1,475.4 845.4,477.8 846.0,479.8 846.8,481.8 846.8,483.9 846.9,485.9 847.0,488.0 846.6,490.0 845.8,492.0 846.4,494.2 845.2,496.1 845.4,498.2"/>
<polyline stroke="#222" stroke-width="1.10" points="875.0,468.0 875.8,470.4 874.7,472.9 874.9,475.4 875.1,477.8 875.7,479.9 875.4,481.9 874.6,483.9 875.2,486.0 874.7,488.0 874.0,490.0 874.5,492.0 874.0,494.2 875.5,496.1 875.1,498.2 875.7,500.6 876.0,503.0"/>
<polyline stroke="#4a6878" stroke-width="1.10" points="908.0,468.0 907.2,470.0 906.5,472.1 905.8,474.2 903.6,475.5 903.3,477.8 901.6,479.4 900.9,481.6 898.9,483.0 898.0,485.1 896.9,487.1 895.5,488.8 895.5,491.1 894.5,493.1 893.8,495.3 892.6,497.2 892.0,499.4 892.3,501.8 892.0,504.0 890.8,506.0"/>
<polyline stroke="#222" stroke-width="1.76" points="788.0,523.0 789.9,524.1 792.1,524.2 794.0,525.2 796.0,526.0 798.7,525.9 801.4,526.0 803.9,524.8 806.0,525.3 808.2,525.2 810.3,526.1 812.5,525.6 814.3,524.3 816.2,523.1 818.1,522.0 820.4,521.7 822.7,522.3 824.6,523.6 826.6,524.8 828.1,526.6 828.4,529.1 829.7,531.0 832.0,531.5 834.5,531.5 836.8,532.2 839.1,532.6 841.4,533.2 843.8,533.1 846.2,533.3 848.5,534.2 850.0,536.6 851.7,538.9 853.3,540.4 854.8,542.0 853.9,540.0 853.9,537.9 854.0,535.8 855.7,534.4 858.0,534.4 859.9,533.5 861.7,532.3 863.9,532.0 865.8,531.0 867.5,529.6 869.6,529.3 871.6,528.5 873.8,528.5 875.3,526.5 877.2,525.7 879.5,525.8 881.4,524.8 883.2,523.4 885.4,523.0 887.6,522.4 889.3,520.8 891.6,520.6 893.3,518.9 895.5,518.5 896.9,516.3 899.3,514.8 900.2,512.3 901.4,510.6 902.7,509.0 903.9,507.3 906.2,506.5 906.7,504.2 907.8,502.5 909.6,501.3 910.8,499.3 912.5,497.7 913.7,495.8 914.3,493.5 915.7,491.5 916.5,489.2 917.8,487.2 917.8,484.6 919.0,482.5 920.7,480.8 921.6,478.6 922.1,476.3 922.3,474.0 923.0,471.9 924.9,470.3 925.0,468.0"/>
<polygon stroke="#222" stroke-width="1.10" points="843.8,548.3 846.3,546.9 848.5,545.1 850.9,544.9 853.2,544.1 855.6,544.0 857.9,543.6 858.5,546.0 859.5,548.3 858.3,550.6 856.0,552.1 854.8,554.5 852.6,554.7 850.8,555.9 848.9,556.8 847.0,557.7 845.5,555.5 843.0,554.5"/>
<polygon stroke="#222" stroke-width="1.10" points="921.3,510.7 921.4,508.4 923.0,506.7 923.5,504.5 923.3,502.2 923.9,500.1 925.2,498.2 927.6,498.5 930.0,498.2 929.2,500.2 930.2,502.2 930.4,504.2 930.2,506.3 929.3,508.3 930.5,510.3 930.0,512.3 929.5,514.8 928.9,517.2 928.1,519.5 926.8,521.7 924.8,520.6 924.1,518.2 922.1,517.0"/>
<polyline stroke="#222" stroke-width="2.86" points="937.0,501.3 937.0,509.0"/>
<polyline stroke="#222" stroke-width="2.86" points="934.6,523.2 930.0,530.3"/>
<polyline stroke="#222" stroke-width="2.86" points="924.5,545.1 921.3,553.0"/>
<polyline stroke="#222" stroke-width="2.86" points="920.0,566.4 921.8,575.0"/>
<polyline stroke="#222" stroke-width="2.86" points="924.3,594.5 921.8,603.0"/>
<polyline stroke="#222" stroke-width="2.86" points="907.0,625.4 901.2,631.0"/>
<polyline stroke="#222" stroke-width="2.86" points="882.0,656.0 872.9,659.5"/>
<polyline stroke="#222" stroke-width="2.86" points="843.8,643.6 842.9,635.6"/>
<polyline stroke="#222" stroke-width="2.86" points="855.8,607.2 857.7,599.3"/>
<polyline stroke="#222" stroke-width="2.86" points="848.4,571.3 853.3,580.0"/>
</g>
<path d="M823.6,689 V697.5 H890 V689" fill="none" stroke="#231f20" stroke-width="2.2"/>
<text x="820.6" y="685.6" font-size="19.0" font-weight="normal" fill="#231f20" text-anchor="start" textLength="10.5" lengthAdjust="spacingAndGlyphs" >0</text>
<text x="868.0" y="685.6" font-size="19.0" font-weight="normal" fill="#231f20" text-anchor="start" textLength="42.0" lengthAdjust="spacingAndGlyphs" >1000</text>
<text x="914.0" y="685.6" font-size="19.0" font-weight="normal" fill="#231f20" text-anchor="start" textLength="30.0" lengthAdjust="spacingAndGlyphs" >km</text>
<text x="61.6" y="781.0" font-size="19.0" font-weight="bold" fill="#231f20" text-anchor="start" textLength="84.5" lengthAdjust="spacingAndGlyphs" >Deaths, n</text>
<rect x="62.6" y="792" width="24.5" height="15.2" fill="#fde4e4" stroke="#231f20" stroke-width="2"/>
<text x="88.3" y="806.5" font-size="21.0" font-weight="normal" fill="#231f20" text-anchor="start" textLength="55.7" lengthAdjust="spacingAndGlyphs" >0-500</text>
<rect x="153.3" y="792" width="24.5" height="15.2" fill="#f9c3bc" stroke="#231f20" stroke-width="2"/>
<text x="183.0" y="806.5" font-size="21.0" font-weight="normal" fill="#231f20" text-anchor="start" textLength="87.6" lengthAdjust="spacingAndGlyphs" >500–1000</text>
<rect x="295.7" y="792" width="24.5" height="15.2" fill="#f8a99c" stroke="#231f20" stroke-width="2"/>
<text x="326.0" y="806.5" font-size="21.0" font-weight="normal" fill="#231f20" text-anchor="start" textLength="98.0" lengthAdjust="spacingAndGlyphs" >1000–2000</text>
<rect x="447.5" y="792" width="24.5" height="15.2" fill="#f18776" stroke="#231f20" stroke-width="2"/>
<text x="481.0" y="806.5" font-size="21.0" font-weight="normal" fill="#231f20" text-anchor="start" textLength="99.4" lengthAdjust="spacingAndGlyphs" >2000–5000</text>
<rect x="605.5" y="792" width="24.5" height="15.2" fill="#de6462" stroke="#231f20" stroke-width="2"/>
<text x="638.0" y="806.5" font-size="21.0" font-weight="normal" fill="#231f20" text-anchor="start" textLength="100.4" lengthAdjust="spacingAndGlyphs" >5000–8414</text>
<text x="30.6" y="867.5" font-size="24.0" font-weight="bold" fill="#231f20" text-anchor="start" textLength="15.0" lengthAdjust="spacingAndGlyphs" >B</text>
<text x="193.7" y="870.0" font-size="19.5" font-weight="normal" fill="#231f20" text-anchor="start" textLength="166.3" lengthAdjust="spacingAndGlyphs" >Optimistic scenario</text>
<text x="652.6" y="870.0" font-size="19.5" font-weight="normal" fill="#231f20" text-anchor="start" textLength="189.0" lengthAdjust="spacingAndGlyphs" >Intermediate scenario</text>
<text transform="translate(39.2,1074.5) rotate(-90)" font-size="19.5" textLength="74.5" lengthAdjust="spacingAndGlyphs" fill="#231f20">2021–40</text>
<rect x="62.0" y="885.8" width="429.5" height="302" fill="#fff" stroke="#231f20" stroke-width="2"/>
<g transform="matrix(0.4760 0 0 0.4760 33.07 848.90)" stroke="#5a4a4c" stroke-width="3.57" stroke-linejoin="round" fill="#5a4a4c">
<use href="#pXJ"/>
<use href="#pXZ"/>
<use href="#pQH"/>
<use href="#pGS"/>
<use href="#pGS2"/>
<use href="#pNX"/>
<use href="#pIM"/>
<use href="#pHLJ"/>
<use href="#pJL"/>
<use href="#pLN"/>
<use href="#pHB"/>
<use href="#pSX"/>
<use href="#pSAX"/>
<use href="#pSC"/>
<use href="#pCQ"/>
<use href="#pHUB"/>
<use href="#pHEN"/>
<use href="#pSD"/>
<use href="#pJS"/>
<use href="#pAH"/>
<use href="#pZJ"/>
<use href="#pFJ"/>
<use href="#pJX"/>
<use href="#pHUN"/>
<use href="#pGZ"/>
<use href="#pYN"/>
<use href="#pGX"/>
<use href="#pGD"/>
<use href="#pHN"/>
<use href="#pTW"/>
<use href="#pSH"/>
<use href="#pBJ"/>
<use href="#pTJ"/>
</g>
<g transform="matrix(0.4760 0 0 0.4760 33.07 848.90)" stroke="#6a4e52" stroke-width="2.52" stroke-linejoin="round">
<use href="#pXJ" fill="#f27979"/>
<use href="#pXZ" fill="#d4ecf1"/>
<use href="#pQH" fill="#dc4c47"/>
<use href="#pGS" fill="#f27979"/>
<use href="#pGS2" fill="#f27979"/>
<use href="#pNX" fill="#f27979"/>
<use href="#pIM" fill="#f27979"/>
<use href="#pHLJ" fill="#f6b0b2"/>
<use href="#pJL" fill="#f6b0b2"/>
<use href="#pLN" fill="#f27979"/>
<use href="#pHB" fill="#dc4c47"/>
<use href="#pSX" fill="#dc4c47"/>
<use href="#pSAX" fill="#f6b0b2"/>
<use href="#pSC" fill="#82b7d6"/>
<use href="#pCQ" fill="#d4ecf1"/>
<use href="#pHUB" fill="#f27979"/>
<use href="#pHEN" fill="#f27979"/>
<use href="#pSD" fill="#f27979"/>
<use href="#pJS" fill="#f27979"/>
<use href="#pAH" fill="#dc4c47"/>
<use href="#pZJ" fill="#f27979"/>
<use href="#pFJ" fill="#f6b0b2"/>
<use href="#pJX" fill="#f27979"/>
<use href="#pHUN" fill="#f27979"/>
<use href="#pGZ" fill="#f6b0b2"/>
<use href="#pYN" fill="#f27979"/>
<use href="#pGX" fill="#dc4c47"/>
<use href="#pGD" fill="#f27979"/>
<use href="#pHN" fill="#f27979"/>
<use href="#pTW" fill="#d4ecf1"/>
<use href="#pSH" fill="#d4ecf1"/>
<use href="#pBJ" fill="#f27979"/>
<use href="#pTJ" fill="#dc4c47"/>
</g>
<polyline fill="none" stroke="#3e5663" stroke-width="1.40" stroke-linejoin="round" points="390.8,1069.8 390.1,1070.8 389.8,1072.0 389.3,1073.1 388.1,1073.2 386.9,1073.6 385.8,1074.2 386.8,1074.7 387.5,1075.5 388.4,1076.1 389.1,1076.9 389.9,1077.6 390.5,1078.6 391.2,1079.6 391.6,1080.7 391.8,1081.9 391.6,1083.1 391.5,1084.2 391.3,1085.3 391.1,1086.5 391.0,1087.6 390.5,1088.7 390.1,1089.6 389.8,1090.6 389.7,1091.6 389.3,1092.4 388.9,1093.4 388.4,1094.2 388.0,1095.1 387.8,1096.1 387.7,1097.2 387.2,1098.3 386.9,1099.3 386.1,1100.2 385.6,1101.2 385.1,1102.1 384.5,1103.1 383.6,1103.9 382.6,1104.5 382.0,1105.5 381.7,1106.7 381.2,1107.7 380.7,1108.8 380.3,1110.0 380.1,1111.2 379.7,1112.3 380.1,1113.2 380.3,1114.1 380.5,1115.1 381.0,1116.0 381.0,1117.0 380.7,1117.9 380.2,1118.8 379.6,1119.7 379.1,1120.5 378.8,1121.5 378.3,1122.4 377.3,1123.0 376.4,1123.8 375.6,1124.8 374.7,1125.6 373.8,1126.3 372.9,1127.1 372.1,1127.6 371.4,1128.2 370.9,1129.2 370.0,1129.6 369.5,1130.4 368.6,1130.9 368.2,1131.8 367.6,1132.5 366.9,1133.3 366.3,1134.1 365.5,1134.8 364.9,1135.7 364.0,1136.2 363.7,1137.1 363.2,1138.0 363.1,1139.0 362.4,1139.7 361.9,1140.5 361.3,1141.3 360.1,1141.3 359.0,1141.6 357.9,1142.1 356.9,1142.7 355.8,1143.3 354.8,1143.9 353.8,1144.2 352.7,1144.3 351.7,1144.5 350.8,1145.1 349.8,1145.4 348.7,1145.6 347.8,1146.1 346.7,1146.3 345.7,1146.5 344.7,1146.4 343.8,1147.0 342.7,1147.0 341.8,1146.8 340.8,1147.3 339.8,1147.2 339.4,1148.1 339.4,1149.1 339.4,1150.1 339.1,1151.1 338.3,1151.6 337.4,1151.9 336.7,1152.7 335.7,1153.0 334.9,1153.5 333.8,1153.5 333.0,1154.2 332.0,1154.3 330.9,1154.3 329.8,1154.8 328.7,1155.0 327.6,1154.9 326.5,1155.2 325.4,1155.6 324.6,1156.2 323.8,1157.0 322.8,1157.3 321.8,1157.6 321.0,1158.1 319.9,1158.2 318.9,1158.2 318.0,1158.7 317.0,1158.9"/>
<path fill="#3e5663" d="M383.2 1059.2h1.8v1.4h-1.8zM384.8 1061.4h1.3v0.9h-1.3zM384.7 1061.6h2.5v3.5h-2.5zM386.1 1063.3h0.8v0.8h-0.8zM387.8 1064.8h1.5v2.0h-1.5zM389.1 1067.8h1.6v1.3h-1.6zM390.6 1067.9h2.0v1.7h-2.0zM389.8 1068.8h0.9v1.1h-0.9zM390.5 1067.7h1.4v2.0h-1.4zM389.5 1068.5h2.4v2.3h-2.4zM389.8 1070.4h0.9v1.0h-0.9zM389.8 1070.1h0.9v0.8h-0.9zM389.1 1071.0h1.2v0.8h-1.2zM390.6 1070.6h1.1v1.1h-1.1zM388.8 1070.3h2.1v1.5h-2.1zM389.4 1071.6h1.1v0.9h-1.1zM389.7 1072.8h1.3v1.7h-1.3zM388.7 1071.1h2.3v2.5h-2.3zM387.5 1072.8h1.2v1.5h-1.2zM388.5 1073.1h0.9v0.6h-0.9zM387.7 1072.5h1.8v1.6h-1.8zM388.4 1076.5h1.6v1.7h-1.6zM387.7 1072.8h1.0v1.4h-1.0zM387.8 1072.9h1.1v1.3h-1.1zM388.0 1076.1h2.3v2.5h-2.3zM387.1 1072.9h0.8v1.1h-0.8zM388.0 1075.1h1.2v1.5h-1.2zM387.0 1073.4h1.1v1.3h-1.1zM387.2 1072.6h1.8v2.3h-1.8zM386.3 1072.7h2.4v1.8h-2.4zM387.4 1072.8h1.6v1.0h-1.6zM386.8 1074.9h1.0v0.9h-1.0zM387.0 1077.1h1.9v2.2h-1.9zM385.8 1073.6h0.8v0.5h-0.8zM385.8 1075.1h2.5v1.5h-2.5zM385.7 1074.1h2.1v1.8h-2.1zM384.8 1073.2h1.7v2.1h-1.7zM386.4 1071.2h2.2v2.9h-2.2zM385.9 1071.1h2.4v3.1h-2.4zM386.3 1070.5h2.3v2.4h-2.3zM385.8 1072.9h1.8v2.0h-1.8zM385.5 1071.1h2.5v3.3h-2.5zM385.8 1072.8h2.1v2.2h-2.1zM386.2 1074.4h2.1v1.3h-2.1zM387.6 1073.8h1.2v1.3h-1.2zM387.4 1072.6h2.4v1.9h-2.4zM386.1 1073.4h2.0v1.5h-2.0zM388.8 1071.3h1.9v1.8h-1.9zM386.9 1074.1h1.9v1.5h-1.9zM389.1 1071.4h2.3v2.1h-2.3zM387.8 1074.9h1.0v1.0h-1.0zM389.0 1072.0h2.0v2.8h-2.0zM387.0 1074.8h1.6v1.3h-1.6zM387.2 1073.9h1.9v1.9h-1.9zM391.7 1073.4h1.6v1.0h-1.6zM390.9 1073.5h0.8v1.0h-0.8zM388.1 1075.2h2.2v1.3h-2.2zM389.0 1075.1h0.8v1.0h-0.8zM388.1 1075.9h0.8v0.9h-0.8zM389.9 1074.6h2.2v3.0h-2.2zM388.9 1076.5h1.6v1.2h-1.6zM388.8 1075.0h2.0v1.5h-2.0zM388.7 1075.6h2.0v2.0h-2.0zM390.6 1074.4h1.5v1.8h-1.5zM392.5 1074.8h2.1v1.4h-2.1zM390.7 1075.9h2.4v2.2h-2.4zM392.3 1075.3h2.2v3.0h-2.2zM391.5 1076.5h1.1v1.3h-1.1zM391.2 1076.4h2.0v1.6h-2.0zM393.0 1075.1h2.5v2.6h-2.5zM392.7 1075.5h2.3v2.0h-2.3zM390.5 1077.2h1.7v2.1h-1.7zM389.5 1078.1h2.2v1.4h-2.2zM390.4 1078.7h1.4v1.7h-1.4zM389.7 1077.9h1.7v2.0h-1.7zM391.8 1076.8h2.5v2.4h-2.5zM390.4 1079.0h1.1v1.2h-1.1zM392.6 1078.9h1.7v2.2h-1.7zM391.2 1079.3h1.4v1.8h-1.4zM390.5 1079.4h2.3v3.1h-2.3zM392.4 1079.0h1.1v1.1h-1.1zM392.8 1079.1h0.8v1.1h-0.8zM391.1 1078.8h2.2v2.3h-2.2zM390.7 1080.7h1.7v1.6h-1.7zM395.1 1080.5h1.2v1.2h-1.2zM391.5 1079.6h2.2v2.9h-2.2zM391.7 1080.7h1.1v1.2h-1.1zM390.7 1080.8h2.2v1.3h-2.2zM390.8 1079.9h2.0v1.7h-2.0zM390.6 1081.6h2.1v1.4h-2.1zM391.5 1082.0h1.1v1.1h-1.1zM391.7 1081.8h1.5v1.5h-1.5zM391.0 1081.2h1.9v2.1h-1.9zM394.2 1082.2h1.9v2.4h-1.9zM393.3 1081.6h2.2v2.9h-2.2zM395.0 1083.1h1.1v1.6h-1.1zM390.9 1083.5h1.2v1.4h-1.2zM390.4 1082.2h2.2v2.1h-2.2zM390.8 1083.2h1.5v1.7h-1.5zM390.8 1082.1h2.0v2.6h-2.0zM390.6 1083.3h1.7v2.0h-1.7zM391.1 1084.6h0.9v0.6h-0.9zM392.3 1083.7h1.7v1.8h-1.7zM391.0 1083.8h1.1v1.4h-1.1zM394.8 1085.6h0.9v0.6h-0.9zM391.4 1084.4h2.1v1.8h-2.1zM392.1 1084.2h1.5v1.6h-1.5zM394.0 1086.2h1.1v1.0h-1.1zM391.5 1085.8h1.1v0.8h-1.1zM389.8 1084.7h2.4v2.9h-2.4zM393.7 1085.8h1.9v1.7h-1.9zM391.3 1085.0h2.5v3.1h-2.5zM392.6 1086.8h2.2v2.7h-2.2zM393.6 1086.2h2.3v2.7h-2.3zM393.1 1087.0h1.5v1.7h-1.5zM390.9 1085.8h1.6v1.0h-1.6zM392.2 1086.2h1.9v1.5h-1.9zM392.6 1087.2h1.4v1.5h-1.4zM390.2 1087.3h2.5v2.8h-2.5zM391.9 1088.4h2.5v1.6h-2.5zM392.4 1088.9h1.2v1.1h-1.2zM390.4 1087.0h1.4v1.0h-1.4zM393.4 1088.8h1.7v1.8h-1.7zM390.7 1088.1h2.5v2.8h-2.5zM391.1 1088.4h2.1v1.3h-2.1zM389.3 1088.7h1.6v1.2h-1.6zM391.6 1089.4h0.9v1.2h-0.9zM390.7 1088.7h1.8v1.6h-1.8zM391.5 1088.9h1.8v1.5h-1.8zM389.2 1089.2h1.2v0.8h-1.2zM392.0 1089.6h1.5v1.9h-1.5zM388.4 1089.0h2.5v3.4h-2.5zM393.0 1089.7h1.5v1.5h-1.5zM389.3 1089.7h1.7v2.3h-1.7zM393.0 1090.4h2.2v2.4h-2.2zM391.0 1090.1h1.6v1.2h-1.6zM390.8 1090.3h1.0v0.9h-1.0zM390.3 1090.7h1.2v1.3h-1.2zM391.9 1090.4h1.7v2.4h-1.7zM389.2 1091.8h1.0v1.3h-1.0zM390.5 1092.4h1.4v1.1h-1.4zM390.1 1092.0h1.8v2.0h-1.8zM388.9 1091.7h1.2v1.7h-1.2zM392.2 1093.5h0.8v0.5h-0.8zM390.5 1093.1h0.9v1.0h-0.9zM388.2 1091.5h2.0v2.0h-2.0zM389.0 1092.5h1.6v1.2h-1.6zM390.6 1092.7h2.3v1.5h-2.3zM391.3 1092.8h1.9v2.3h-1.9zM387.9 1092.8h2.2v2.0h-2.2zM391.7 1095.6h1.3v1.4h-1.3zM391.2 1095.3h1.5v1.4h-1.5zM391.5 1094.9h0.9v0.6h-0.9zM388.7 1093.5h2.0v1.7h-2.0zM387.6 1093.4h1.9v1.3h-1.9zM389.6 1094.6h2.0v1.7h-2.0zM387.9 1093.6h2.1v1.8h-2.1zM389.7 1094.5h1.8v2.4h-1.8zM390.7 1096.0h1.5v1.9h-1.5zM387.6 1094.4h2.4v3.2h-2.4zM387.9 1094.8h1.4v1.3h-1.4zM388.2 1095.1h1.1v1.2h-1.1zM388.2 1095.1h2.3v2.4h-2.3zM389.6 1094.7h2.3v1.9h-2.3zM388.4 1095.9h1.8v2.4h-1.8zM390.4 1096.6h0.9v0.9h-0.9zM387.1 1096.5h0.9v1.1h-0.9zM386.6 1096.2h1.9v1.4h-1.9zM389.3 1096.5h1.2v0.9h-1.2zM387.6 1097.5h1.5v1.3h-1.5zM387.1 1097.8h1.6v1.7h-1.6zM386.9 1097.2h2.4v2.2h-2.4zM387.0 1098.2h2.2v2.8h-2.2zM387.4 1098.7h1.9v1.9h-1.9zM387.2 1098.6h1.5v1.4h-1.5zM386.8 1100.3h1.4v1.0h-1.4zM386.2 1099.0h1.3v1.8h-1.3zM384.8 1099.4h1.9v2.3h-1.9zM385.0 1099.5h1.6v1.7h-1.6zM384.9 1100.6h1.1v0.8h-1.1zM385.3 1100.9h1.8v1.4h-1.8zM385.0 1100.8h1.1v1.3h-1.1zM384.9 1102.5h1.6v1.3h-1.6zM385.0 1103.1h1.4v1.4h-1.4zM383.6 1103.0h0.8v1.1h-0.8zM383.0 1103.0h1.7v1.7h-1.7zM384.3 1103.6h1.9v1.5h-1.9zM382.1 1103.2h2.2v2.6h-2.2zM382.4 1103.6h1.0v0.9h-1.0zM381.5 1104.6h1.9v2.6h-1.9zM382.3 1104.5h1.0v1.2h-1.0zM381.8 1105.6h2.2v1.5h-2.2zM382.3 1105.5h0.9v0.9h-0.9zM380.6 1106.8h2.3v1.9h-2.3zM380.3 1106.4h2.4v1.6h-2.4zM380.3 1106.7h1.7v1.8h-1.7zM380.2 1108.0h1.3v0.9h-1.3zM380.3 1107.2h2.0v1.8h-2.0zM380.1 1108.2h1.6v2.2h-1.6zM380.7 1109.6h0.8v0.7h-0.8zM379.5 1108.7h1.8v1.7h-1.8zM380.7 1110.7h1.1v1.2h-1.1zM379.5 1109.5h1.7v1.4h-1.7zM380.1 1111.3h1.2v0.9h-1.2zM378.7 1110.8h2.5v2.6h-2.5zM380.4 1111.6h0.9v0.7h-0.9zM379.4 1111.0h2.0v1.5h-2.0zM380.4 1113.4h0.9v0.7h-0.9zM379.2 1112.6h1.5v1.0h-1.5zM379.9 1113.5h1.9v2.3h-1.9zM380.0 1114.2h1.3v1.3h-1.3zM380.2 1113.8h2.5v3.1h-2.5zM381.0 1115.0h0.8v0.7h-0.8zM380.1 1115.9h1.4v1.4h-1.4zM381.3 1115.8h1.9v1.3h-1.9zM380.5 1117.3h1.4v1.4h-1.4zM380.5 1116.2h2.5v2.6h-2.5zM378.9 1117.4h2.5v2.7h-2.5zM379.8 1117.4h1.2v1.3h-1.2zM380.5 1119.2h1.4v1.4h-1.4zM380.9 1119.3h1.0v1.3h-1.0zM379.1 1119.8h1.2v1.6h-1.2zM379.1 1120.2h1.8v1.3h-1.8zM379.7 1120.5h1.2v1.3h-1.2zM377.9 1120.5h1.7v1.1h-1.7zM377.7 1119.3h2.5v3.4h-2.5zM378.3 1121.1h2.1v1.9h-2.1zM379.1 1122.2h0.8v0.6h-0.8zM377.4 1121.8h1.8v1.3h-1.8zM376.9 1121.8h1.8v1.5h-1.8zM376.5 1121.6h2.0v1.4h-2.0zM376.2 1123.0h1.5v1.6h-1.5zM376.3 1123.2h2.1v2.1h-2.1zM376.0 1123.6h2.3v2.1h-2.3zM376.2 1124.4h1.7v1.7h-1.7zM376.5 1124.4h1.3v0.9h-1.3zM374.5 1125.2h1.8v2.2h-1.8zM375.3 1125.0h0.9v0.6h-0.9zM374.8 1124.7h1.5v0.9h-1.5zM373.6 1125.3h1.3v1.2h-1.3zM373.2 1124.4h2.4v3.3h-2.4zM374.1 1126.3h1.5v1.9h-1.5zM372.3 1126.1h2.4v1.6h-2.4zM372.1 1126.0h1.7v2.3h-1.7zM372.1 1126.6h1.3v0.9h-1.3zM372.1 1127.8h1.5v1.3h-1.5zM370.8 1126.3h2.4v2.0h-2.4zM371.4 1127.8h2.5v2.5h-2.5zM371.3 1128.0h2.4v1.8h-2.4zM370.3 1128.3h1.6v1.2h-1.6zM369.1 1128.6h1.9v1.4h-1.9zM369.6 1128.9h0.9v1.1h-0.9zM369.5 1130.0h2.0v1.4h-2.0zM370.1 1130.2h1.6v1.0h-1.6zM369.1 1130.7h1.1v0.8h-1.1zM368.5 1130.1h2.2v2.0h-2.2zM368.2 1131.3h1.2v1.0h-1.2zM368.3 1131.4h1.2v1.4h-1.2zM366.9 1131.8h1.7v1.7h-1.7zM368.0 1131.6h1.3v1.0h-1.3zM366.5 1131.5h2.1v1.7h-2.1zM367.2 1132.5h1.1v1.4h-1.1zM366.1 1132.5h2.1v1.9h-2.1zM366.1 1133.8h1.1v1.1h-1.1zM365.7 1133.0h1.9v2.4h-1.9zM365.7 1134.4h2.0v2.0h-2.0zM364.4 1133.6h2.2v1.6h-2.2zM364.4 1134.0h2.1v2.6h-2.1zM364.2 1134.6h1.6v1.3h-1.6zM363.5 1134.8h1.8v2.1h-1.8zM364.3 1136.1h1.1v0.8h-1.1zM363.2 1135.9h1.5v1.3h-1.5zM363.5 1136.8h1.8v1.8h-1.8zM362.7 1137.2h1.0v0.9h-1.0zM362.6 1137.5h1.7v1.4h-1.7zM363.0 1138.9h1.1v0.9h-1.1zM362.2 1138.2h2.2v2.8h-2.2zM361.6 1139.4h1.1v1.6h-1.1zM360.8 1139.9h2.5v1.8h-2.5zM359.8 1140.5h1.2v1.6h-1.2zM360.5 1140.7h1.3v1.2h-1.3zM359.2 1141.2h2.1v2.5h-2.1zM359.0 1140.4h1.7v1.4h-1.7zM357.3 1141.4h1.4v1.9h-1.4zM357.5 1140.9h1.5v1.7h-1.5zM356.6 1141.5h2.3v2.5h-2.3zM356.3 1142.0h1.5v1.9h-1.5zM355.3 1142.4h1.4v1.0h-1.4zM355.6 1142.3h1.1v0.9h-1.1zM354.3 1142.3h2.5v2.9h-2.5zM354.1 1143.0h1.4v0.9h-1.4zM354.0 1143.5h0.8v0.6h-0.8zM353.3 1142.8h2.4v2.8h-2.4zM352.2 1142.9h2.4v2.2h-2.4zM351.8 1143.6h2.4v1.5h-2.4zM351.1 1143.0h2.3v2.0h-2.3zM351.5 1144.2h0.8v0.8h-0.8zM350.6 1143.4h1.8v1.1h-1.8zM350.6 1143.8h1.7v1.2h-1.7zM349.7 1144.6h1.9v1.4h-1.9zM349.5 1144.0h2.0v1.9h-2.0zM348.2 1144.8h1.3v1.1h-1.3zM349.1 1144.8h0.8v0.9h-0.8zM347.7 1146.2h1.3v1.5h-1.3zM346.8 1145.0h2.0v2.3h-2.0zM345.9 1145.2h1.9v1.3h-1.9zM346.9 1145.8h0.9v0.8h-0.9zM345.7 1145.8h1.0v1.0h-1.0zM345.2 1145.3h1.9v1.5h-1.9zM344.8 1146.0h1.0v1.1h-1.0zM344.0 1146.7h0.8v0.7h-0.8zM343.5 1145.7h1.5v1.0h-1.5zM342.5 1146.4h1.3v1.1h-1.3zM342.6 1145.8h2.4v2.5h-2.4zM341.3 1145.9h1.6v1.7h-1.6zM340.3 1146.0h2.4v3.0h-2.4zM340.6 1146.6h1.5v1.4h-1.5zM339.1 1147.2h1.4v1.9h-1.4zM339.3 1146.7h1.3v1.2h-1.3zM338.7 1147.7h1.2v1.3h-1.2zM338.3 1147.5h1.7v1.6h-1.7zM338.9 1148.8h1.7v1.9h-1.7zM339.4 1150.4h1.4v1.2h-1.4zM338.1 1149.9h2.0v2.4h-2.0zM338.2 1151.6h1.0v1.1h-1.0zM338.2 1150.8h1.4v1.2h-1.4zM337.2 1151.1h1.2v1.0h-1.2zM337.7 1151.4h1.0v0.6h-1.0zM337.1 1151.8h1.0v0.9h-1.0zM335.0 1151.5h2.3v3.0h-2.3zM335.8 1151.8h1.7v2.1h-1.7zM334.0 1152.3h2.0v1.8h-2.0zM334.6 1152.5h2.3v2.9h-2.3zM333.4 1153.0h1.9v2.4h-1.9zM333.3 1152.6h1.4v1.6h-1.4zM332.6 1152.5h1.8v2.4h-1.8zM331.9 1153.1h2.0v1.9h-2.0zM331.4 1153.8h2.5v1.6h-2.5zM331.9 1153.7h0.8v0.7h-0.8zM330.2 1153.4h1.3v0.8h-1.3zM330.7 1153.7h1.4v1.2h-1.4zM329.2 1153.9h1.5v1.6h-1.5zM329.8 1154.8h1.5v1.7h-1.5zM328.4 1154.2h1.1v0.7h-1.1zM328.0 1154.1h1.6v1.1h-1.6zM328.2 1154.7h1.0v1.1h-1.0zM327.6 1154.0h1.6v1.4h-1.6zM326.3 1153.5h2.4v2.0h-2.4zM326.6 1154.0h1.6v2.3h-1.6zM324.9 1155.0h1.5v1.9h-1.5zM325.1 1154.3h1.7v2.0h-1.7zM324.5 1155.3h2.3v3.2h-2.3zM324.4 1155.4h2.1v1.5h-2.1zM323.9 1155.7h0.9v0.8h-0.9zM323.2 1156.8h0.8v0.6h-0.8zM321.9 1156.2h1.7v2.1h-1.7zM321.0 1156.4h2.2v2.8h-2.2zM321.8 1157.9h0.9v1.3h-0.9zM320.0 1156.7h2.4v1.5h-2.4zM320.5 1157.1h1.4v1.3h-1.4zM319.2 1157.2h1.9v1.7h-1.9zM320.0 1158.3h1.3v0.9h-1.3zM318.1 1157.0h2.1v2.2h-2.1zM318.7 1157.6h0.9v0.7h-0.9zM317.5 1157.4h1.7v1.5h-1.7zM317.4 1157.3h2.5v1.9h-2.5zM317.3 1158.8h0.9v1.3h-0.9zM317.1 1159.1h1.1v1.1h-1.1zM397.6 983.0h2.0v2.7h-2.0zM397.0 983.8h2.5v1.8h-2.5zM397.3 986.0h1.1v1.2h-1.1zM396.3 986.7h1.7v1.7h-1.7zM395.3 988.3h1.9v1.8h-1.9zM395.4 989.0h1.8v1.8h-1.8zM394.1 991.0h1.8v2.4h-1.8zM392.9 993.3h1.3v1.6h-1.3zM392.7 994.2h1.0v1.4h-1.0zM391.9 993.8h1.9v2.6h-1.9zM390.0 994.8h2.5v1.7h-2.5zM389.1 995.4h2.2v2.1h-2.2zM388.6 996.7h1.3v1.4h-1.3zM387.0 998.0h1.2v1.5h-1.2zM385.6 998.0h2.4v2.9h-2.4zM384.4 998.5h1.4v1.8h-1.4zM383.8 999.3h1.4v1.9h-1.4zM381.5 999.1h2.5v1.9h-2.5zM382.0 1001.3h1.1v1.3h-1.1zM381.3 1000.6h1.3v1.5h-1.3zM380.7 1002.6h1.1v0.8h-1.1zM379.5 1002.6h1.0v1.3h-1.0zM378.2 1002.7h2.5v2.9h-2.5zM377.7 1003.7h1.5v1.1h-1.5zM376.8 1003.3h2.2v2.1h-2.2zM371.3 1017.5h1.4v1.6h-1.4zM373.3 1017.1h1.3v1.6h-1.3zM374.8 1016.9h1.4v1.7h-1.4zM375.6 1017.8h1.5v1.2h-1.5zM377.0 1017.5h2.0v2.3h-2.0zM380.7 1017.3h1.4v1.7h-1.4zM382.1 1018.2h0.9v1.2h-0.9zM383.9 1019.4h2.4v3.2h-2.4zM382.9 1021.2h1.6v1.4h-1.6zM381.9 1022.2h2.5v3.5h-2.5zM380.6 1022.6h2.0v2.8h-2.0zM379.8 1024.1h1.1v1.6h-1.1zM375.2 1026.8h1.9v2.1h-1.9zM374.6 1027.8h2.1v2.5h-2.1zM373.2 1029.1h2.5v3.2h-2.5zM370.8 1032.4h2.2v1.8h-2.2zM371.3 1033.8h1.0v0.7h-1.0zM370.4 1034.6h1.2v1.1h-1.2zM367.7 1036.9h2.3v1.6h-2.3zM368.2 1038.3h1.7v1.6h-1.7zM367.4 1039.9h1.5v0.9h-1.5z"/>
<polygon fill="#fff" stroke="#3e5663" stroke-width="0.84" points="385.5,1074.5 388.2,1074.8 391.0,1076.0 392.2,1078.1 389.6,1077.9 386.7,1076.9 384.8,1075.7"/>
<g stroke="#3e4a55" stroke-width="1.6" stroke-linecap="round">
<polyline points="405.5,1122.0 405.0,1130.7"/>
<polyline points="403.2,1145.9 398.6,1153.4"/>
<polyline points="392.9,1166.9 389.1,1177.3"/>
</g>
<rect x="410.1" y="1045.8" width="81.3" height="142" fill="#fff" stroke="#231f20" stroke-width="2"/>
<clipPath id="ic2"><rect x="410.1" y="1045.8" width="81.3" height="142.0"/></clipPath>
<g fill="none" stroke-linejoin="round" stroke-linecap="round" clip-path="url(#ic2)">
<polyline stroke="#4a6878" stroke-width="0.80" points="410.5,1053.6 411.4,1053.3 412.4,1053.3 413.3,1052.7 414.3,1052.4 415.4,1052.7 416.3,1052.3 417.3,1052.0 418.3,1051.2 419.5,1050.6 420.6,1050.7 421.7,1050.4 422.7,1049.7 423.8,1049.9 424.9,1049.4 426.0,1049.1 427.0,1048.9 427.8,1048.4 428.9,1048.3 429.7,1047.7 430.6,1047.1 431.0,1046.0 432.0,1045.5 432.8,1044.7"/>
<polyline stroke="#4a6878" stroke-width="0.80" points="415.1,1052.2 416.0,1052.7 416.6,1053.6 417.4,1054.1 417.8,1055.2 418.7,1055.7 419.4,1056.5 420.1,1057.3 420.3,1058.4 420.9,1059.3 421.4,1060.3 421.8,1061.5 422.0,1062.6 422.4,1063.7 423.0,1064.7 423.9,1065.6 424.6,1066.6 425.5,1067.3 426.0,1068.4 426.7,1069.3 427.5,1070.2"/>
<polyline stroke="#222" stroke-width="0.80" points="422.4,1063.7 423.6,1063.2 424.7,1062.8 426.0,1062.9 427.1,1062.7 427.9,1061.9 429.1,1062.1 429.9,1061.3 431.0,1061.3 431.8,1060.7 432.7,1060.3 433.6,1059.8 434.5,1059.5 435.5,1059.2 436.2,1058.6 437.2,1058.5 438.3,1058.4 439.3,1058.1 440.3,1058.0 441.3,1058.2 441.6,1059.4 442.4,1060.3 442.8,1061.5 443.9,1061.3 444.7,1060.6 445.7,1060.0 446.8,1060.0 447.9,1059.8 448.9,1060.2 450.0,1060.0 451.2,1060.5 452.2,1061.2 453.0,1062.2 454.2,1062.4 455.3,1061.7 456.6,1061.9 457.8,1062.0 459.0,1062.1 460.2,1062.2 460.8,1063.4 461.7,1064.4"/>
<polyline stroke="#4a6878" stroke-width="0.80" points="445.0,1060.7 444.6,1061.6 444.2,1062.6 443.9,1063.5 443.5,1064.4 442.9,1065.3 442.8,1066.5 441.9,1067.3 441.4,1068.2 440.9,1069.2 440.6,1070.2 440.1,1071.2 439.3,1071.9 438.8,1072.9 438.4,1073.9"/>
<polyline stroke="#222" stroke-width="0.80" points="436.0,1043.8 436.1,1045.0 436.1,1046.1 436.1,1047.2 436.2,1048.4 436.5,1049.3 436.9,1050.2 436.9,1051.2 436.9,1052.2 437.0,1053.1 436.8,1054.1 436.4,1055.0 436.7,1056.0 436.1,1056.9 436.2,1057.9"/>
<polyline stroke="#222" stroke-width="0.80" points="450.0,1043.8 450.4,1044.9 449.9,1046.1 449.9,1047.2 450.0,1048.4 450.3,1049.3 450.2,1050.3 449.8,1051.2 450.1,1052.2 449.9,1053.1 449.5,1054.0 449.7,1055.0 449.5,1056.0 450.2,1056.9 450.0,1057.9 450.3,1059.0 450.4,1060.1"/>
<polyline stroke="#4a6878" stroke-width="0.80" points="465.3,1043.8 465.0,1044.8 464.6,1045.7 464.3,1046.7 463.3,1047.3 463.1,1048.4 462.4,1049.1 462.0,1050.1 461.1,1050.8 460.7,1051.8 460.2,1052.7 459.5,1053.5 459.5,1054.6 459.0,1055.5 458.7,1056.5 458.2,1057.4 457.9,1058.4 458.0,1059.5 457.9,1060.6 457.3,1061.5"/>
<polyline stroke="#222" stroke-width="1.28" points="409.5,1069.4 410.4,1069.9 411.4,1070.0 412.3,1070.4 413.2,1070.8 414.5,1070.7 415.7,1070.8 416.9,1070.2 417.9,1070.4 418.9,1070.4 419.9,1070.8 420.9,1070.6 421.8,1070.0 422.6,1069.4 423.5,1068.9 424.6,1068.8 425.6,1069.1 426.5,1069.7 427.5,1070.2 428.2,1071.1 428.3,1072.2 428.9,1073.1 430.0,1073.3 431.1,1073.3 432.2,1073.7 433.3,1073.9 434.4,1074.1 435.5,1074.1 436.6,1074.2 437.7,1074.6 438.3,1075.7 439.1,1076.8 439.9,1077.5 440.6,1078.2 440.2,1077.3 440.2,1076.3 440.2,1075.3 441.0,1074.7 442.1,1074.7 443.0,1074.3 443.8,1073.7 444.8,1073.6 445.7,1073.1 446.5,1072.4 447.5,1072.3 448.4,1072.0 449.4,1071.9 450.1,1071.0 451.0,1070.6 452.1,1070.7 453.0,1070.2 453.8,1069.6 454.8,1069.4 455.8,1069.1 456.6,1068.4 457.7,1068.3 458.5,1067.5 459.5,1067.3 460.2,1066.3 461.3,1065.6 461.7,1064.4 462.3,1063.6 462.9,1062.9 463.4,1062.1 464.5,1061.7 464.7,1060.7 465.2,1059.8 466.1,1059.3 466.6,1058.4 467.4,1057.6 468.0,1056.7 468.3,1055.7 468.9,1054.7 469.3,1053.7 469.9,1052.7 469.9,1051.5 470.4,1050.6 471.2,1049.7 471.6,1048.8 471.9,1047.7 472.0,1046.6 472.3,1045.6 473.2,1044.9 473.2,1043.8"/>
<polygon stroke="#222" stroke-width="0.80" points="435.5,1081.2 436.6,1080.5 437.7,1079.7 438.8,1079.6 439.8,1079.2 440.9,1079.2 442.0,1079.0 442.3,1080.1 442.8,1081.2 442.2,1082.2 441.1,1082.9 440.6,1084.0 439.6,1084.1 438.7,1084.7 437.9,1085.1 437.0,1085.5 436.2,1084.5 435.1,1084.0"/>
<polygon stroke="#222" stroke-width="0.80" points="471.5,1063.7 471.5,1062.6 472.3,1061.8 472.5,1060.8 472.5,1059.7 472.7,1058.7 473.3,1057.9 474.4,1058.0 475.6,1057.9 475.2,1058.8 475.7,1059.7 475.7,1060.7 475.6,1061.6 475.2,1062.5 475.8,1063.5 475.6,1064.4 475.3,1065.6 475.1,1066.7 474.7,1067.8 474.1,1068.8 473.1,1068.3 472.8,1067.1 471.9,1066.6"/>
<polyline stroke="#333" stroke-width="1.52" points="478.8,1059.3 478.8,1062.9"/>
<polyline stroke="#333" stroke-width="1.52" points="477.7,1069.5 475.6,1072.8"/>
<polyline stroke="#333" stroke-width="1.52" points="473.0,1079.7 471.5,1083.3"/>
<polyline stroke="#333" stroke-width="1.52" points="470.9,1089.6 471.7,1093.6"/>
<polyline stroke="#333" stroke-width="1.52" points="472.9,1102.6 471.7,1106.6"/>
<polyline stroke="#333" stroke-width="1.52" points="464.9,1117.0 462.2,1119.6"/>
<polyline stroke="#333" stroke-width="1.52" points="453.2,1131.2 449.0,1132.9"/>
<polyline stroke="#333" stroke-width="1.52" points="435.5,1125.5 435.1,1121.7"/>
<polyline stroke="#333" stroke-width="1.52" points="441.1,1108.5 441.9,1104.9"/>
<polyline stroke="#333" stroke-width="1.52" points="437.6,1091.8 439.9,1095.9"/>
</g>
<path d="M418.0,1172.5 V1178 H450.8 V1172.5" fill="none" stroke="#231f20" stroke-width="1.8"/>
<text x="412.5" y="1167.0" font-size="14.0" font-weight="normal" fill="#231f20" text-anchor="start" textLength="7.8" lengthAdjust="spacingAndGlyphs" >0</text>
<text x="430.0" y="1167.0" font-size="14.0" font-weight="normal" fill="#231f20" text-anchor="start" textLength="32.0" lengthAdjust="spacingAndGlyphs" >1000</text>
<text x="464.0" y="1167.0" font-size="14.0" font-weight="normal" fill="#231f20" text-anchor="start" textLength="22.0" lengthAdjust="spacingAndGlyphs" >km</text>
<text x="75.7" y="914.7" font-size="20.0" font-weight="normal" fill="#231f20" text-anchor="start" textLength="88.7" lengthAdjust="spacingAndGlyphs" >Min: –26%</text>
<text x="184.8" y="914.7" font-size="20.0" font-weight="normal" fill="#231f20" text-anchor="start" textLength="85.2" lengthAdjust="spacingAndGlyphs" >Max: 86%</text>
<path d="M80.0,1161 V1169 H155.0 V1161" fill="none" stroke="#231f20" stroke-width="2.2"/>
<text x="77.5" y="1157.5" font-size="19.0" font-weight="normal" fill="#231f20" text-anchor="start" textLength="10.0" lengthAdjust="spacingAndGlyphs" >0</text>
<text x="127.5" y="1157.5" font-size="19.0" font-weight="normal" fill="#231f20" text-anchor="start" textLength="42.0" lengthAdjust="spacingAndGlyphs" >1000</text>
<text x="172.0" y="1157.5" font-size="19.0" font-weight="normal" fill="#231f20" text-anchor="start" textLength="30.0" lengthAdjust="spacingAndGlyphs" >km</text>
<rect x="533.0" y="885.8" width="429.5" height="302" fill="#fff" stroke="#231f20" stroke-width="2"/>
<g transform="matrix(0.4760 0 0 0.4760 504.07 848.90)" stroke="#5a4a4c" stroke-width="3.57" stroke-linejoin="round" fill="#5a4a4c">
<use href="#pXJ"/>
<use href="#pXZ"/>
<use href="#pQH"/>
<use href="#pGS"/>
<use href="#pGS2"/>
<use href="#pNX"/>
<use href="#pIM"/>
<use href="#pHLJ"/>
<use href="#pJL"/>
<use href="#pLN"/>
<use href="#pHB"/>
<use href="#pSX"/>
<use href="#pSAX"/>
<use href="#pSC"/>
<use href="#pCQ"/>
<use href="#pHUB"/>
<use href="#pHEN"/>
<use href="#pSD"/>
<use href="#pJS"/>
<use href="#pAH"/>
<use href="#pZJ"/>
<use href="#pFJ"/>
<use href="#pJX"/>
<use href="#pHUN"/>
<use href="#pGZ"/>
<use href="#pYN"/>
<use href="#pGX"/>
<use href="#pGD"/>
<use href="#pHN"/>
<use href="#pTW"/>
<use href="#pSH"/>
<use href="#pBJ"/>
<use href="#pTJ"/>
</g>
<g transform="matrix(0.4760 0 0 0.4760 504.07 848.90)" stroke="#6a4e52" stroke-width="2.52" stroke-linejoin="round">
<use href="#pXJ" fill="#f27979"/>
<use href="#pXZ" fill="#f27979"/>
<use href="#pQH" fill="#dc4c47"/>
<use href="#pGS" fill="#f27979"/>
<use href="#pGS2" fill="#f27979"/>
<use href="#pNX" fill="#f27979"/>
<use href="#pIM" fill="#f6b0b2"/>
<use href="#pHLJ" fill="#82b7d6"/>
<use href="#pJL" fill="#82b7d6"/>
<use href="#pLN" fill="#d4ecf1"/>
<use href="#pHB" fill="#dc4c47"/>
<use href="#pSX" fill="#f27979"/>
<use href="#pSAX" fill="#f6b0b2"/>
<use href="#pSC" fill="#f6b0b2"/>
<use href="#pCQ" fill="#f27979"/>
<use href="#pHUB" fill="#f27979"/>
<use href="#pHEN" fill="#f27979"/>
<use href="#pSD" fill="#f27979"/>
<use href="#pJS" fill="#f27979"/>
<use href="#pAH" fill="#f27979"/>
<use href="#pZJ" fill="#dc4c47"/>
<use href="#pFJ" fill="#dc4c47"/>
<use href="#pJX" fill="#f27979"/>
<use href="#pHUN" fill="#f27979"/>
<use href="#pGZ" fill="#dc4c47"/>
<use href="#pYN" fill="#f27979"/>
<use href="#pGX" fill="#dc4c47"/>
<use href="#pGD" fill="#dc4c47"/>
<use href="#pHN" fill="#dc4c47"/>
<use href="#pTW" fill="#dc4c47"/>
<use href="#pSH" fill="#f27979"/>
<use href="#pBJ" fill="#f27979"/>
<use href="#pTJ" fill="#dc4c47"/>
</g>
<polyline fill="none" stroke="#3e5663" stroke-width="1.40" stroke-linejoin="round" points="861.8,1069.8 861.1,1070.8 860.8,1072.0 860.3,1073.1 859.1,1073.2 857.9,1073.6 856.8,1074.2 857.8,1074.7 858.5,1075.5 859.4,1076.1 860.1,1076.9 860.9,1077.6 861.5,1078.6 862.2,1079.6 862.6,1080.7 862.8,1081.9 862.6,1083.1 862.5,1084.2 862.3,1085.3 862.1,1086.5 862.0,1087.6 861.5,1088.7 861.1,1089.6 860.8,1090.6 860.7,1091.6 860.3,1092.4 859.9,1093.4 859.4,1094.2 859.0,1095.1 858.8,1096.1 858.7,1097.2 858.2,1098.3 857.9,1099.3 857.1,1100.2 856.6,1101.2 856.1,1102.1 855.5,1103.1 854.6,1103.9 853.6,1104.5 853.0,1105.5 852.7,1106.7 852.2,1107.7 851.7,1108.8 851.3,1110.0 851.1,1111.2 850.7,1112.3 851.1,1113.2 851.3,1114.1 851.5,1115.1 852.0,1116.0 852.0,1117.0 851.7,1117.9 851.2,1118.8 850.6,1119.7 850.1,1120.5 849.8,1121.5 849.3,1122.4 848.3,1123.0 847.4,1123.8 846.6,1124.8 845.7,1125.6 844.8,1126.3 843.9,1127.1 843.1,1127.6 842.4,1128.2 841.9,1129.2 841.0,1129.6 840.5,1130.4 839.6,1130.9 839.2,1131.8 838.6,1132.5 837.9,1133.3 837.3,1134.1 836.5,1134.8 835.9,1135.7 835.0,1136.2 834.7,1137.1 834.2,1138.0 834.1,1139.0 833.4,1139.7 832.9,1140.5 832.3,1141.3 831.1,1141.3 830.0,1141.6 828.9,1142.1 827.9,1142.7 826.8,1143.3 825.8,1143.9 824.8,1144.2 823.7,1144.3 822.7,1144.5 821.8,1145.1 820.8,1145.4 819.7,1145.6 818.8,1146.1 817.7,1146.3 816.7,1146.5 815.7,1146.4 814.8,1147.0 813.7,1147.0 812.8,1146.8 811.8,1147.3 810.8,1147.2 810.4,1148.1 810.4,1149.1 810.4,1150.1 810.1,1151.1 809.3,1151.6 808.4,1151.9 807.7,1152.7 806.7,1153.0 805.9,1153.5 804.8,1153.5 804.0,1154.2 803.0,1154.3 801.9,1154.3 800.8,1154.8 799.7,1155.0 798.6,1154.9 797.5,1155.2 796.4,1155.6 795.6,1156.2 794.8,1157.0 793.8,1157.3 792.8,1157.6 792.0,1158.1 790.9,1158.2 789.9,1158.2 789.0,1158.7 788.0,1158.9"/>
<path fill="#3e5663" d="M854.2 1059.2h1.8v1.4h-1.8zM855.8 1061.4h1.3v0.9h-1.3zM855.7 1061.6h2.5v3.5h-2.5zM857.1 1063.3h0.8v0.8h-0.8zM858.8 1064.8h1.5v2.0h-1.5zM860.1 1067.8h1.6v1.3h-1.6zM861.6 1067.9h2.0v1.7h-2.0zM860.8 1068.8h0.9v1.1h-0.9zM861.5 1067.7h1.4v2.0h-1.4zM860.5 1068.5h2.4v2.3h-2.4zM860.8 1070.4h0.9v1.0h-0.9zM860.8 1070.1h0.9v0.8h-0.9zM860.1 1071.0h1.2v0.8h-1.2zM861.6 1070.6h1.1v1.1h-1.1zM859.8 1070.3h2.1v1.5h-2.1zM860.4 1071.6h1.1v0.9h-1.1zM860.7 1072.8h1.3v1.7h-1.3zM859.7 1071.1h2.3v2.5h-2.3zM858.5 1072.8h1.2v1.5h-1.2zM859.5 1073.1h0.9v0.6h-0.9zM858.7 1072.5h1.8v1.6h-1.8zM859.4 1076.5h1.6v1.7h-1.6zM858.7 1072.8h1.0v1.4h-1.0zM858.8 1072.9h1.1v1.3h-1.1zM859.0 1076.1h2.3v2.5h-2.3zM858.1 1072.9h0.8v1.1h-0.8zM859.0 1075.1h1.2v1.5h-1.2zM858.0 1073.4h1.1v1.3h-1.1zM858.2 1072.6h1.8v2.3h-1.8zM857.3 1072.7h2.4v1.8h-2.4zM858.4 1072.8h1.6v1.0h-1.6zM857.8 1074.9h1.0v0.9h-1.0zM858.0 1077.1h1.9v2.2h-1.9zM856.8 1073.6h0.8v0.5h-0.8zM856.8 1075.1h2.5v1.5h-2.5zM856.7 1074.1h2.1v1.8h-2.1zM855.8 1073.2h1.7v2.1h-1.7zM857.4 1071.2h2.2v2.9h-2.2zM856.9 1071.1h2.4v3.1h-2.4zM857.3 1070.5h2.3v2.4h-2.3zM856.8 1072.9h1.8v2.0h-1.8zM856.5 1071.1h2.5v3.3h-2.5zM856.8 1072.8h2.1v2.2h-2.1zM857.2 1074.4h2.1v1.3h-2.1zM858.6 1073.8h1.2v1.3h-1.2zM858.4 1072.6h2.4v1.9h-2.4zM857.1 1073.4h2.0v1.5h-2.0zM859.8 1071.3h1.9v1.8h-1.9zM857.9 1074.1h1.9v1.5h-1.9zM860.1 1071.4h2.3v2.1h-2.3zM858.8 1074.9h1.0v1.0h-1.0zM860.0 1072.0h2.0v2.8h-2.0zM858.0 1074.8h1.6v1.3h-1.6zM858.2 1073.9h1.9v1.9h-1.9zM862.7 1073.4h1.6v1.0h-1.6zM861.9 1073.5h0.8v1.0h-0.8zM859.1 1075.2h2.2v1.3h-2.2zM860.0 1075.1h0.8v1.0h-0.8zM859.1 1075.9h0.8v0.9h-0.8zM860.9 1074.6h2.2v3.0h-2.2zM859.9 1076.5h1.6v1.2h-1.6zM859.8 1075.0h2.0v1.5h-2.0zM859.7 1075.6h2.0v2.0h-2.0zM861.6 1074.4h1.5v1.8h-1.5zM863.5 1074.8h2.1v1.4h-2.1zM861.7 1075.9h2.4v2.2h-2.4zM863.3 1075.3h2.2v3.0h-2.2zM862.5 1076.5h1.1v1.3h-1.1zM862.2 1076.4h2.0v1.6h-2.0zM864.0 1075.1h2.5v2.6h-2.5zM863.7 1075.5h2.3v2.0h-2.3zM861.5 1077.2h1.7v2.1h-1.7zM860.5 1078.1h2.2v1.4h-2.2zM861.4 1078.7h1.4v1.7h-1.4zM860.7 1077.9h1.7v2.0h-1.7zM862.8 1076.8h2.5v2.4h-2.5zM861.4 1079.0h1.1v1.2h-1.1zM863.6 1078.9h1.7v2.2h-1.7zM862.2 1079.3h1.4v1.8h-1.4zM861.5 1079.4h2.3v3.1h-2.3zM863.4 1079.0h1.1v1.1h-1.1zM863.8 1079.1h0.8v1.1h-0.8zM862.1 1078.8h2.2v2.3h-2.2zM861.7 1080.7h1.7v1.6h-1.7zM866.1 1080.5h1.2v1.2h-1.2zM862.5 1079.6h2.2v2.9h-2.2zM862.7 1080.7h1.1v1.2h-1.1zM861.7 1080.8h2.2v1.3h-2.2zM861.8 1079.9h2.0v1.7h-2.0zM861.6 1081.6h2.1v1.4h-2.1zM862.5 1082.0h1.1v1.1h-1.1zM862.7 1081.8h1.5v1.5h-1.5zM862.0 1081.2h1.9v2.1h-1.9zM865.2 1082.2h1.9v2.4h-1.9zM864.3 1081.6h2.2v2.9h-2.2zM866.0 1083.1h1.1v1.6h-1.1zM861.9 1083.5h1.2v1.4h-1.2zM861.4 1082.2h2.2v2.1h-2.2zM861.8 1083.2h1.5v1.7h-1.5zM861.8 1082.1h2.0v2.6h-2.0zM861.6 1083.3h1.7v2.0h-1.7zM862.1 1084.6h0.9v0.6h-0.9zM863.3 1083.7h1.7v1.8h-1.7zM862.0 1083.8h1.1v1.4h-1.1zM865.8 1085.6h0.9v0.6h-0.9zM862.4 1084.4h2.1v1.8h-2.1zM863.1 1084.2h1.5v1.6h-1.5zM865.0 1086.2h1.1v1.0h-1.1zM862.5 1085.8h1.1v0.8h-1.1zM860.8 1084.7h2.4v2.9h-2.4zM864.7 1085.8h1.9v1.7h-1.9zM862.3 1085.0h2.5v3.1h-2.5zM863.6 1086.8h2.2v2.7h-2.2zM864.6 1086.2h2.3v2.7h-2.3zM864.1 1087.0h1.5v1.7h-1.5zM861.9 1085.8h1.6v1.0h-1.6zM863.2 1086.2h1.9v1.5h-1.9zM863.6 1087.2h1.4v1.5h-1.4zM861.2 1087.3h2.5v2.8h-2.5zM862.9 1088.4h2.5v1.6h-2.5zM863.4 1088.9h1.2v1.1h-1.2zM861.4 1087.0h1.4v1.0h-1.4zM864.4 1088.8h1.7v1.8h-1.7zM861.7 1088.1h2.5v2.8h-2.5zM862.1 1088.4h2.1v1.3h-2.1zM860.3 1088.7h1.6v1.2h-1.6zM862.6 1089.4h0.9v1.2h-0.9zM861.7 1088.7h1.8v1.6h-1.8zM862.5 1088.9h1.8v1.5h-1.8zM860.2 1089.2h1.2v0.8h-1.2zM863.0 1089.6h1.5v1.9h-1.5zM859.4 1089.0h2.5v3.4h-2.5zM864.0 1089.7h1.5v1.5h-1.5zM860.3 1089.7h1.7v2.3h-1.7zM864.0 1090.4h2.2v2.4h-2.2zM862.0 1090.1h1.6v1.2h-1.6zM861.8 1090.3h1.0v0.9h-1.0zM861.3 1090.7h1.2v1.3h-1.2zM862.9 1090.4h1.7v2.4h-1.7zM860.2 1091.8h1.0v1.3h-1.0zM861.5 1092.4h1.4v1.1h-1.4zM861.1 1092.0h1.8v2.0h-1.8zM859.9 1091.7h1.2v1.7h-1.2zM863.2 1093.5h0.8v0.5h-0.8zM861.5 1093.1h0.9v1.0h-0.9zM859.2 1091.5h2.0v2.0h-2.0zM860.0 1092.5h1.6v1.2h-1.6zM861.6 1092.7h2.3v1.5h-2.3zM862.3 1092.8h1.9v2.3h-1.9zM858.9 1092.8h2.2v2.0h-2.2zM862.7 1095.6h1.3v1.4h-1.3zM862.2 1095.3h1.5v1.4h-1.5zM862.5 1094.9h0.9v0.6h-0.9zM859.7 1093.5h2.0v1.7h-2.0zM858.6 1093.4h1.9v1.3h-1.9zM860.6 1094.6h2.0v1.7h-2.0zM858.9 1093.6h2.1v1.8h-2.1zM860.7 1094.5h1.8v2.4h-1.8zM861.7 1096.0h1.5v1.9h-1.5zM858.6 1094.4h2.4v3.2h-2.4zM858.9 1094.8h1.4v1.3h-1.4zM859.2 1095.1h1.1v1.2h-1.1zM859.2 1095.1h2.3v2.4h-2.3zM860.6 1094.7h2.3v1.9h-2.3zM859.4 1095.9h1.8v2.4h-1.8zM861.4 1096.6h0.9v0.9h-0.9zM858.1 1096.5h0.9v1.1h-0.9zM857.6 1096.2h1.9v1.4h-1.9zM860.3 1096.5h1.2v0.9h-1.2zM858.6 1097.5h1.5v1.3h-1.5zM858.1 1097.8h1.6v1.7h-1.6zM857.9 1097.2h2.4v2.2h-2.4zM858.0 1098.2h2.2v2.8h-2.2zM858.4 1098.7h1.9v1.9h-1.9zM858.2 1098.6h1.5v1.4h-1.5zM857.8 1100.3h1.4v1.0h-1.4zM857.2 1099.0h1.3v1.8h-1.3zM855.8 1099.4h1.9v2.3h-1.9zM856.0 1099.5h1.6v1.7h-1.6zM855.9 1100.6h1.1v0.8h-1.1zM856.3 1100.9h1.8v1.4h-1.8zM856.0 1100.8h1.1v1.3h-1.1zM855.9 1102.5h1.6v1.3h-1.6zM856.0 1103.1h1.4v1.4h-1.4zM854.6 1103.0h0.8v1.1h-0.8zM854.0 1103.0h1.7v1.7h-1.7zM855.3 1103.6h1.9v1.5h-1.9zM853.1 1103.2h2.2v2.6h-2.2zM853.4 1103.6h1.0v0.9h-1.0zM852.5 1104.6h1.9v2.6h-1.9zM853.3 1104.5h1.0v1.2h-1.0zM852.8 1105.6h2.2v1.5h-2.2zM853.3 1105.5h0.9v0.9h-0.9zM851.6 1106.8h2.3v1.9h-2.3zM851.3 1106.4h2.4v1.6h-2.4zM851.3 1106.7h1.7v1.8h-1.7zM851.2 1108.0h1.3v0.9h-1.3zM851.3 1107.2h2.0v1.8h-2.0zM851.1 1108.2h1.6v2.2h-1.6zM851.7 1109.6h0.8v0.7h-0.8zM850.5 1108.7h1.8v1.7h-1.8zM851.7 1110.7h1.1v1.2h-1.1zM850.5 1109.5h1.7v1.4h-1.7zM851.1 1111.3h1.2v0.9h-1.2zM849.7 1110.8h2.5v2.6h-2.5zM851.4 1111.6h0.9v0.7h-0.9zM850.4 1111.0h2.0v1.5h-2.0zM851.4 1113.4h0.9v0.7h-0.9zM850.2 1112.6h1.5v1.0h-1.5zM850.9 1113.5h1.9v2.3h-1.9zM851.0 1114.2h1.3v1.3h-1.3zM851.2 1113.8h2.5v3.1h-2.5zM852.0 1115.0h0.8v0.7h-0.8zM851.1 1115.9h1.4v1.4h-1.4zM852.3 1115.8h1.9v1.3h-1.9zM851.5 1117.3h1.4v1.4h-1.4zM851.5 1116.2h2.5v2.6h-2.5zM849.9 1117.4h2.5v2.7h-2.5zM850.8 1117.4h1.2v1.3h-1.2zM851.5 1119.2h1.4v1.4h-1.4zM851.9 1119.3h1.0v1.3h-1.0zM850.1 1119.8h1.2v1.6h-1.2zM850.1 1120.2h1.8v1.3h-1.8zM850.7 1120.5h1.2v1.3h-1.2zM848.9 1120.5h1.7v1.1h-1.7zM848.7 1119.3h2.5v3.4h-2.5zM849.3 1121.1h2.1v1.9h-2.1zM850.1 1122.2h0.8v0.6h-0.8zM848.4 1121.8h1.8v1.3h-1.8zM847.9 1121.8h1.8v1.5h-1.8zM847.5 1121.6h2.0v1.4h-2.0zM847.2 1123.0h1.5v1.6h-1.5zM847.3 1123.2h2.1v2.1h-2.1zM847.0 1123.6h2.3v2.1h-2.3zM847.2 1124.4h1.7v1.7h-1.7zM847.5 1124.4h1.3v0.9h-1.3zM845.5 1125.2h1.8v2.2h-1.8zM846.3 1125.0h0.9v0.6h-0.9zM845.8 1124.7h1.5v0.9h-1.5zM844.6 1125.3h1.3v1.2h-1.3zM844.2 1124.4h2.4v3.3h-2.4zM845.1 1126.3h1.5v1.9h-1.5zM843.3 1126.1h2.4v1.6h-2.4zM843.1 1126.0h1.7v2.3h-1.7zM843.1 1126.6h1.3v0.9h-1.3zM843.1 1127.8h1.5v1.3h-1.5zM841.8 1126.3h2.4v2.0h-2.4zM842.4 1127.8h2.5v2.5h-2.5zM842.3 1128.0h2.4v1.8h-2.4zM841.3 1128.3h1.6v1.2h-1.6zM840.1 1128.6h1.9v1.4h-1.9zM840.6 1128.9h0.9v1.1h-0.9zM840.5 1130.0h2.0v1.4h-2.0zM841.1 1130.2h1.6v1.0h-1.6zM840.1 1130.7h1.1v0.8h-1.1zM839.5 1130.1h2.2v2.0h-2.2zM839.2 1131.3h1.2v1.0h-1.2zM839.3 1131.4h1.2v1.4h-1.2zM837.9 1131.8h1.7v1.7h-1.7zM839.0 1131.6h1.3v1.0h-1.3zM837.5 1131.5h2.1v1.7h-2.1zM838.2 1132.5h1.1v1.4h-1.1zM837.1 1132.5h2.1v1.9h-2.1zM837.1 1133.8h1.1v1.1h-1.1zM836.7 1133.0h1.9v2.4h-1.9zM836.7 1134.4h2.0v2.0h-2.0zM835.4 1133.6h2.2v1.6h-2.2zM835.4 1134.0h2.1v2.6h-2.1zM835.2 1134.6h1.6v1.3h-1.6zM834.5 1134.8h1.8v2.1h-1.8zM835.3 1136.1h1.1v0.8h-1.1zM834.2 1135.9h1.5v1.3h-1.5zM834.5 1136.8h1.8v1.8h-1.8zM833.7 1137.2h1.0v0.9h-1.0zM833.6 1137.5h1.7v1.4h-1.7zM834.0 1138.9h1.1v0.9h-1.1zM833.2 1138.2h2.2v2.8h-2.2zM832.6 1139.4h1.1v1.6h-1.1zM831.8 1139.9h2.5v1.8h-2.5zM830.8 1140.5h1.2v1.6h-1.2zM831.5 1140.7h1.3v1.2h-1.3zM830.2 1141.2h2.1v2.5h-2.1zM830.0 1140.4h1.7v1.4h-1.7zM828.3 1141.4h1.4v1.9h-1.4zM828.5 1140.9h1.5v1.7h-1.5zM827.6 1141.5h2.3v2.5h-2.3zM827.3 1142.0h1.5v1.9h-1.5zM826.3 1142.4h1.4v1.0h-1.4zM826.6 1142.3h1.1v0.9h-1.1zM825.3 1142.3h2.5v2.9h-2.5zM825.1 1143.0h1.4v0.9h-1.4zM825.0 1143.5h0.8v0.6h-0.8zM824.3 1142.8h2.4v2.8h-2.4zM823.2 1142.9h2.4v2.2h-2.4zM822.8 1143.6h2.4v1.5h-2.4zM822.1 1143.0h2.3v2.0h-2.3zM822.5 1144.2h0.8v0.8h-0.8zM821.6 1143.4h1.8v1.1h-1.8zM821.6 1143.8h1.7v1.2h-1.7zM820.7 1144.6h1.9v1.4h-1.9zM820.5 1144.0h2.0v1.9h-2.0zM819.2 1144.8h1.3v1.1h-1.3zM820.1 1144.8h0.8v0.9h-0.8zM818.7 1146.2h1.3v1.5h-1.3zM817.8 1145.0h2.0v2.3h-2.0zM816.9 1145.2h1.9v1.3h-1.9zM817.9 1145.8h0.9v0.8h-0.9zM816.7 1145.8h1.0v1.0h-1.0zM816.2 1145.3h1.9v1.5h-1.9zM815.8 1146.0h1.0v1.1h-1.0zM815.0 1146.7h0.8v0.7h-0.8zM814.5 1145.7h1.5v1.0h-1.5zM813.5 1146.4h1.3v1.1h-1.3zM813.6 1145.8h2.4v2.5h-2.4zM812.3 1145.9h1.6v1.7h-1.6zM811.3 1146.0h2.4v3.0h-2.4zM811.6 1146.6h1.5v1.4h-1.5zM810.1 1147.2h1.4v1.9h-1.4zM810.3 1146.7h1.3v1.2h-1.3zM809.7 1147.7h1.2v1.3h-1.2zM809.3 1147.5h1.7v1.6h-1.7zM809.9 1148.8h1.7v1.9h-1.7zM810.4 1150.4h1.4v1.2h-1.4zM809.1 1149.9h2.0v2.4h-2.0zM809.2 1151.6h1.0v1.1h-1.0zM809.2 1150.8h1.4v1.2h-1.4zM808.2 1151.1h1.2v1.0h-1.2zM808.7 1151.4h1.0v0.6h-1.0zM808.1 1151.8h1.0v0.9h-1.0zM806.0 1151.5h2.3v3.0h-2.3zM806.8 1151.8h1.7v2.1h-1.7zM805.0 1152.3h2.0v1.8h-2.0zM805.6 1152.5h2.3v2.9h-2.3zM804.4 1153.0h1.9v2.4h-1.9zM804.3 1152.6h1.4v1.6h-1.4zM803.6 1152.5h1.8v2.4h-1.8zM802.9 1153.1h2.0v1.9h-2.0zM802.4 1153.8h2.5v1.6h-2.5zM802.9 1153.7h0.8v0.7h-0.8zM801.2 1153.4h1.3v0.8h-1.3zM801.7 1153.7h1.4v1.2h-1.4zM800.2 1153.9h1.5v1.6h-1.5zM800.8 1154.8h1.5v1.7h-1.5zM799.4 1154.2h1.1v0.7h-1.1zM799.0 1154.1h1.6v1.1h-1.6zM799.2 1154.7h1.0v1.1h-1.0zM798.6 1154.0h1.6v1.4h-1.6zM797.3 1153.5h2.4v2.0h-2.4zM797.6 1154.0h1.6v2.3h-1.6zM795.9 1155.0h1.5v1.9h-1.5zM796.1 1154.3h1.7v2.0h-1.7zM795.5 1155.3h2.3v3.2h-2.3zM795.4 1155.4h2.1v1.5h-2.1zM794.9 1155.7h0.9v0.8h-0.9zM794.2 1156.8h0.8v0.6h-0.8zM792.9 1156.2h1.7v2.1h-1.7zM792.0 1156.4h2.2v2.8h-2.2zM792.8 1157.9h0.9v1.3h-0.9zM791.0 1156.7h2.4v1.5h-2.4zM791.5 1157.1h1.4v1.3h-1.4zM790.2 1157.2h1.9v1.7h-1.9zM791.0 1158.3h1.3v0.9h-1.3zM789.1 1157.0h2.1v2.2h-2.1zM789.7 1157.6h0.9v0.7h-0.9zM788.5 1157.4h1.7v1.5h-1.7zM788.4 1157.3h2.5v1.9h-2.5zM788.3 1158.8h0.9v1.3h-0.9zM788.1 1159.1h1.1v1.1h-1.1zM868.6 983.0h2.0v2.7h-2.0zM868.0 983.8h2.5v1.8h-2.5zM868.3 986.0h1.1v1.2h-1.1zM867.3 986.7h1.7v1.7h-1.7zM866.3 988.3h1.9v1.8h-1.9zM866.4 989.0h1.8v1.8h-1.8zM865.1 991.0h1.8v2.4h-1.8zM863.9 993.3h1.3v1.6h-1.3zM863.7 994.2h1.0v1.4h-1.0zM862.9 993.8h1.9v2.6h-1.9zM861.0 994.8h2.5v1.7h-2.5zM860.1 995.4h2.2v2.1h-2.2zM859.6 996.7h1.3v1.4h-1.3zM858.0 998.0h1.2v1.5h-1.2zM856.6 998.0h2.4v2.9h-2.4zM855.4 998.5h1.4v1.8h-1.4zM854.8 999.3h1.4v1.9h-1.4zM852.5 999.1h2.5v1.9h-2.5zM853.0 1001.3h1.1v1.3h-1.1zM852.3 1000.6h1.3v1.5h-1.3zM851.7 1002.6h1.1v0.8h-1.1zM850.5 1002.6h1.0v1.3h-1.0zM849.2 1002.7h2.5v2.9h-2.5zM848.7 1003.7h1.5v1.1h-1.5zM847.8 1003.3h2.2v2.1h-2.2zM842.3 1017.5h1.4v1.6h-1.4zM844.3 1017.1h1.3v1.6h-1.3zM845.8 1016.9h1.4v1.7h-1.4zM846.6 1017.8h1.5v1.2h-1.5zM848.0 1017.5h2.0v2.3h-2.0zM851.7 1017.3h1.4v1.7h-1.4zM853.1 1018.2h0.9v1.2h-0.9zM854.9 1019.4h2.4v3.2h-2.4zM853.9 1021.2h1.6v1.4h-1.6zM852.9 1022.2h2.5v3.5h-2.5zM851.6 1022.6h2.0v2.8h-2.0zM850.8 1024.1h1.1v1.6h-1.1zM846.2 1026.8h1.9v2.1h-1.9zM845.6 1027.8h2.1v2.5h-2.1zM844.2 1029.1h2.5v3.2h-2.5zM841.8 1032.4h2.2v1.8h-2.2zM842.3 1033.8h1.0v0.7h-1.0zM841.4 1034.6h1.2v1.1h-1.2zM838.7 1036.9h2.3v1.6h-2.3zM839.2 1038.3h1.7v1.6h-1.7zM838.4 1039.9h1.5v0.9h-1.5z"/>
<polygon fill="#fff" stroke="#3e5663" stroke-width="0.84" points="856.5,1074.5 859.2,1074.8 862.0,1076.0 863.2,1078.1 860.6,1077.9 857.7,1076.9 855.8,1075.7"/>
<g stroke="#3e4a55" stroke-width="1.6" stroke-linecap="round">
<polyline points="876.5,1122.0 876.0,1130.7"/>
<polyline points="874.2,1145.9 869.6,1153.4"/>
<polyline points="863.9,1166.9 860.1,1177.3"/>
</g>
<rect x="881.1" y="1045.8" width="81.3" height="142" fill="#fff" stroke="#231f20" stroke-width="2"/>
<clipPath id="ic3"><rect x="881.1" y="1045.8" width="81.3" height="142.0"/></clipPath>
<g fill="none" stroke-linejoin="round" stroke-linecap="round" clip-path="url(#ic3)">
<polyline stroke="#4a6878" stroke-width="0.80" points="881.5,1053.6 882.4,1053.3 883.4,1053.3 884.3,1052.7 885.3,1052.4 886.4,1052.7 887.3,1052.3 888.3,1052.0 889.3,1051.2 890.5,1050.6 891.6,1050.7 892.7,1050.4 893.7,1049.7 894.8,1049.9 895.9,1049.4 897.0,1049.1 898.0,1048.9 898.8,1048.4 899.9,1048.3 900.7,1047.7 901.6,1047.1 902.0,1046.0 903.0,1045.5 903.8,1044.7"/>
<polyline stroke="#4a6878" stroke-width="0.80" points="886.1,1052.2 887.0,1052.7 887.6,1053.6 888.4,1054.1 888.8,1055.2 889.7,1055.7 890.4,1056.5 891.1,1057.3 891.3,1058.4 891.9,1059.3 892.4,1060.3 892.8,1061.5 893.0,1062.6 893.4,1063.7 894.0,1064.7 894.9,1065.6 895.6,1066.6 896.5,1067.3 897.0,1068.4 897.7,1069.3 898.5,1070.2"/>
<polyline stroke="#222" stroke-width="0.80" points="893.4,1063.7 894.6,1063.2 895.7,1062.8 897.0,1062.9 898.1,1062.7 898.9,1061.9 900.1,1062.1 900.9,1061.3 902.0,1061.3 902.8,1060.7 903.7,1060.3 904.6,1059.8 905.5,1059.5 906.5,1059.2 907.2,1058.6 908.2,1058.5 909.3,1058.4 910.3,1058.1 911.3,1058.0 912.3,1058.2 912.6,1059.4 913.4,1060.3 913.8,1061.5 914.9,1061.3 915.7,1060.6 916.7,1060.0 917.8,1060.0 918.9,1059.8 919.9,1060.2 921.0,1060.0 922.2,1060.5 923.2,1061.2 924.0,1062.2 925.2,1062.4 926.3,1061.7 927.6,1061.9 928.8,1062.0 930.0,1062.1 931.2,1062.2 931.8,1063.4 932.7,1064.4"/>
<polyline stroke="#4a6878" stroke-width="0.80" points="916.0,1060.7 915.6,1061.6 915.2,1062.6 914.9,1063.5 914.5,1064.4 913.9,1065.3 913.8,1066.5 912.9,1067.3 912.4,1068.2 911.9,1069.2 911.6,1070.2 911.1,1071.2 910.3,1071.9 909.8,1072.9 909.4,1073.9"/>
<polyline stroke="#222" stroke-width="0.80" points="907.0,1043.8 907.1,1045.0 907.1,1046.1 907.1,1047.2 907.2,1048.4 907.5,1049.3 907.9,1050.2 907.9,1051.2 907.9,1052.2 908.0,1053.1 907.8,1054.1 907.4,1055.0 907.7,1056.0 907.1,1056.9 907.2,1057.9"/>
<polyline stroke="#222" stroke-width="0.80" points="921.0,1043.8 921.4,1044.9 920.9,1046.1 920.9,1047.2 921.0,1048.4 921.3,1049.3 921.2,1050.3 920.8,1051.2 921.1,1052.2 920.9,1053.1 920.5,1054.0 920.7,1055.0 920.5,1056.0 921.2,1056.9 921.0,1057.9 921.3,1059.0 921.4,1060.1"/>
<polyline stroke="#4a6878" stroke-width="0.80" points="936.3,1043.8 936.0,1044.8 935.6,1045.7 935.3,1046.7 934.3,1047.3 934.1,1048.4 933.4,1049.1 933.0,1050.1 932.1,1050.8 931.7,1051.8 931.2,1052.7 930.5,1053.5 930.5,1054.6 930.0,1055.5 929.7,1056.5 929.2,1057.4 928.9,1058.4 929.0,1059.5 928.9,1060.6 928.3,1061.5"/>
<polyline stroke="#222" stroke-width="1.28" points="880.5,1069.4 881.4,1069.9 882.4,1070.0 883.3,1070.4 884.2,1070.8 885.5,1070.7 886.7,1070.8 887.9,1070.2 888.9,1070.4 889.9,1070.4 890.9,1070.8 891.9,1070.6 892.8,1070.0 893.6,1069.4 894.5,1068.9 895.6,1068.8 896.6,1069.1 897.5,1069.7 898.5,1070.2 899.2,1071.1 899.3,1072.2 899.9,1073.1 901.0,1073.3 902.1,1073.3 903.2,1073.7 904.3,1073.9 905.4,1074.1 906.5,1074.1 907.6,1074.2 908.7,1074.6 909.3,1075.7 910.1,1076.8 910.9,1077.5 911.6,1078.2 911.2,1077.3 911.2,1076.3 911.2,1075.3 912.0,1074.7 913.1,1074.7 914.0,1074.3 914.8,1073.7 915.8,1073.6 916.7,1073.1 917.5,1072.4 918.5,1072.3 919.4,1072.0 920.4,1071.9 921.1,1071.0 922.0,1070.6 923.1,1070.7 924.0,1070.2 924.8,1069.6 925.8,1069.4 926.8,1069.1 927.6,1068.4 928.7,1068.3 929.5,1067.5 930.5,1067.3 931.2,1066.3 932.3,1065.6 932.7,1064.4 933.3,1063.6 933.9,1062.9 934.4,1062.1 935.5,1061.7 935.7,1060.7 936.2,1059.8 937.1,1059.3 937.6,1058.4 938.4,1057.6 939.0,1056.7 939.3,1055.7 939.9,1054.7 940.3,1053.7 940.9,1052.7 940.9,1051.5 941.4,1050.6 942.2,1049.7 942.6,1048.8 942.9,1047.7 943.0,1046.6 943.3,1045.6 944.2,1044.9 944.2,1043.8"/>
<polygon stroke="#222" stroke-width="0.80" points="906.5,1081.2 907.6,1080.5 908.7,1079.7 909.8,1079.6 910.8,1079.2 911.9,1079.2 913.0,1079.0 913.3,1080.1 913.8,1081.2 913.2,1082.2 912.1,1082.9 911.6,1084.0 910.6,1084.1 909.7,1084.7 908.9,1085.1 908.0,1085.5 907.2,1084.5 906.1,1084.0"/>
<polygon stroke="#222" stroke-width="0.80" points="942.5,1063.7 942.5,1062.6 943.3,1061.8 943.5,1060.8 943.5,1059.7 943.7,1058.7 944.3,1057.9 945.4,1058.0 946.6,1057.9 946.2,1058.8 946.7,1059.7 946.7,1060.7 946.6,1061.6 946.2,1062.5 946.8,1063.5 946.6,1064.4 946.3,1065.6 946.1,1066.7 945.7,1067.8 945.1,1068.8 944.1,1068.3 943.8,1067.1 942.9,1066.6"/>
<polyline stroke="#333" stroke-width="1.52" points="949.8,1059.3 949.8,1062.9"/>
<polyline stroke="#333" stroke-width="1.52" points="948.7,1069.5 946.6,1072.8"/>
<polyline stroke="#333" stroke-width="1.52" points="944.0,1079.7 942.5,1083.3"/>
<polyline stroke="#333" stroke-width="1.52" points="941.9,1089.6 942.7,1093.6"/>
<polyline stroke="#333" stroke-width="1.52" points="943.9,1102.6 942.7,1106.6"/>
<polyline stroke="#333" stroke-width="1.52" points="935.9,1117.0 933.2,1119.6"/>
<polyline stroke="#333" stroke-width="1.52" points="924.2,1131.2 920.0,1132.9"/>
<polyline stroke="#333" stroke-width="1.52" points="906.5,1125.5 906.1,1121.7"/>
<polyline stroke="#333" stroke-width="1.52" points="912.1,1108.5 912.9,1104.9"/>
<polyline stroke="#333" stroke-width="1.52" points="908.6,1091.8 910.9,1095.9"/>
</g>
<path d="M889.0,1172.5 V1178 H921.8 V1172.5" fill="none" stroke="#231f20" stroke-width="1.8"/>
<text x="883.5" y="1167.0" font-size="14.0" font-weight="normal" fill="#231f20" text-anchor="start" textLength="7.8" lengthAdjust="spacingAndGlyphs" >0</text>
<text x="901.0" y="1167.0" font-size="14.0" font-weight="normal" fill="#231f20" text-anchor="start" textLength="32.0" lengthAdjust="spacingAndGlyphs" >1000</text>
<text x="935.0" y="1167.0" font-size="14.0" font-weight="normal" fill="#231f20" text-anchor="start" textLength="22.0" lengthAdjust="spacingAndGlyphs" >km</text>
<text x="546.7" y="914.7" font-size="20.0" font-weight="normal" fill="#231f20" text-anchor="start" textLength="88.7" lengthAdjust="spacingAndGlyphs" >Min: –31%</text>
<text x="655.8" y="914.7" font-size="20.0" font-weight="normal" fill="#231f20" text-anchor="start" textLength="86.7" lengthAdjust="spacingAndGlyphs" >Max: 104%</text>
<path d="M551.0,1161 V1169 H626.0 V1161" fill="none" stroke="#231f20" stroke-width="2.2"/>
<text x="548.5" y="1157.5" font-size="19.0" font-weight="normal" fill="#231f20" text-anchor="start" textLength="10.0" lengthAdjust="spacingAndGlyphs" >0</text>
<text x="598.5" y="1157.5" font-size="19.0" font-weight="normal" fill="#231f20" text-anchor="start" textLength="42.0" lengthAdjust="spacingAndGlyphs" >1000</text>
<text x="643.0" y="1157.5" font-size="19.0" font-weight="normal" fill="#231f20" text-anchor="start" textLength="30.0" lengthAdjust="spacingAndGlyphs" >km</text>
<text x="58.5" y="1229.0" font-size="19.0" font-weight="bold" fill="#231f20" text-anchor="start" textLength="254.8" lengthAdjust="spacingAndGlyphs" >Change in number of deaths</text>
<rect x="59.5" y="1243.5" width="24" height="15" fill="#3b72b4" stroke="#231f20" stroke-width="2"/>
<text x="88.5" y="1257.5" font-size="20.0" font-weight="normal" fill="#231f20" text-anchor="start" textLength="53.5" lengthAdjust="spacingAndGlyphs" >&lt;-50%</text>
<rect x="161.4" y="1243.5" width="24" height="15" fill="#82b7d6" stroke="#231f20" stroke-width="2"/>
<text x="188.0" y="1257.5" font-size="20.0" font-weight="normal" fill="#231f20" text-anchor="start" textLength="121.2" lengthAdjust="spacingAndGlyphs" >-50% to&lt;-20%</text>
<rect x="337.0" y="1243.5" width="24" height="15" fill="#d4ecf1" stroke="#231f20" stroke-width="2"/>
<text x="364.7" y="1257.5" font-size="20.0" font-weight="normal" fill="#231f20" text-anchor="start" textLength="92.3" lengthAdjust="spacingAndGlyphs" >-20% to &lt;0</text>
<rect x="479.7" y="1243.5" width="24" height="15" fill="#f6b0b2" stroke="#231f20" stroke-width="2"/>
<text x="508.0" y="1257.5" font-size="20.0" font-weight="normal" fill="#231f20" text-anchor="start" textLength="90.4" lengthAdjust="spacingAndGlyphs" >0 to &lt; 20%</text>
<rect x="612.0" y="1243.5" width="24" height="15" fill="#f27979" stroke="#231f20" stroke-width="2"/>
<text x="641.5" y="1257.5" font-size="20.0" font-weight="normal" fill="#231f20" text-anchor="start" textLength="110.5" lengthAdjust="spacingAndGlyphs" >20% to &lt;50%</text>
<rect x="771.6" y="1243.5" width="24" height="15" fill="#dc4c47" stroke="#231f20" stroke-width="2"/>
<text x="797.3" y="1257.5" font-size="20.0" font-weight="normal" fill="#231f20" text-anchor="start" textLength="47.4" lengthAdjust="spacingAndGlyphs" >≥50%</text>
</svg></body></html>
